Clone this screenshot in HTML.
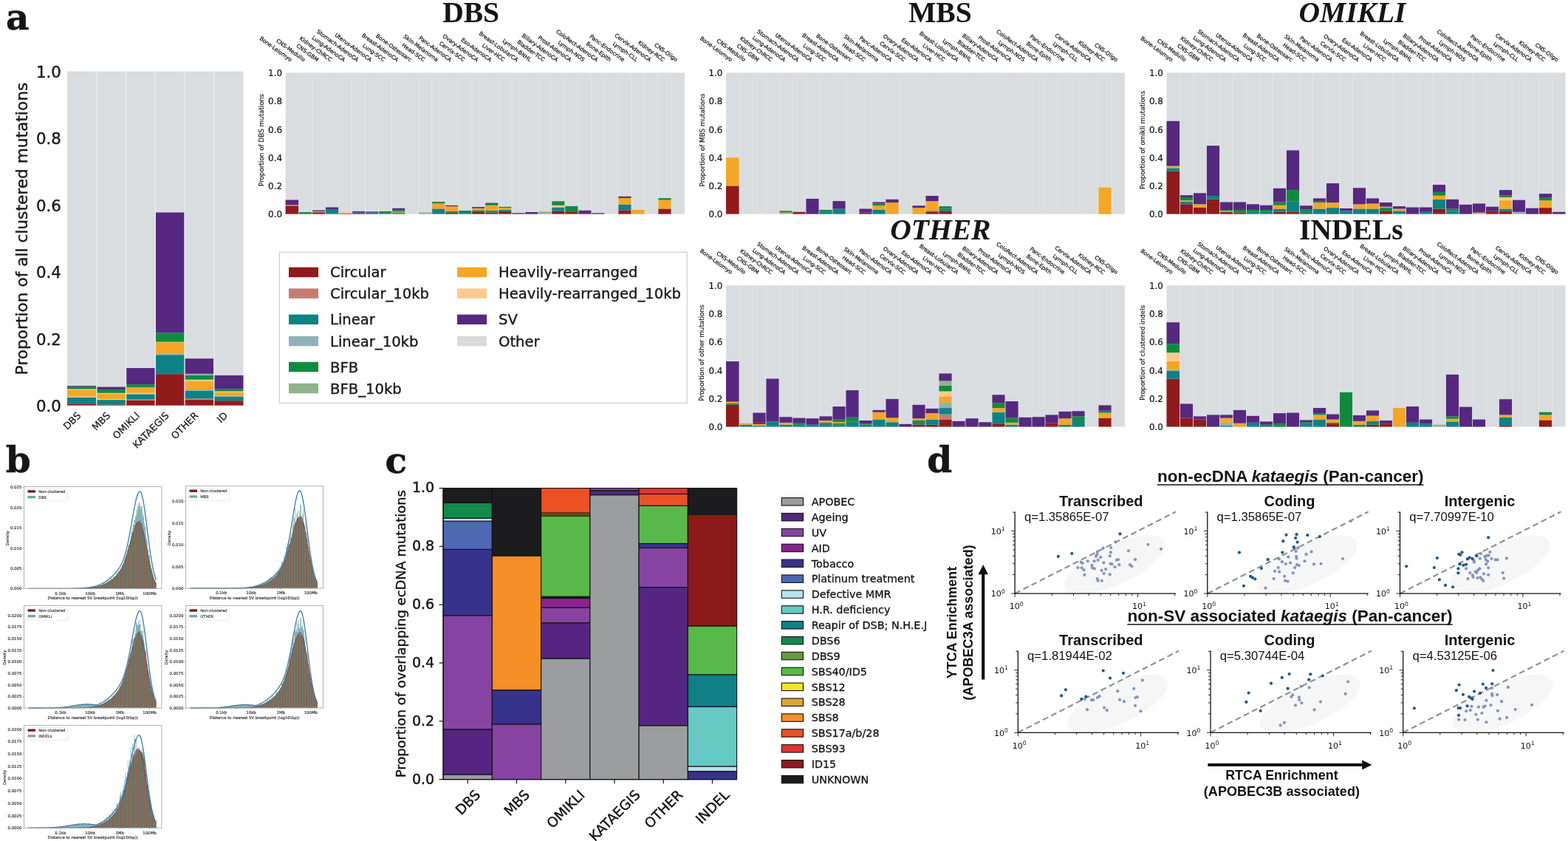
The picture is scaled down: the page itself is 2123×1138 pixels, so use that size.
<!DOCTYPE html><html><head><meta charset="utf-8"><title>Figure</title><style>html,body{margin:0;padding:0;background:#fff;overflow:hidden}svg{display:block}</style></head><body>
<svg width="2123" height="1138" viewBox="0 0 2123 1138">
<rect x="0.00" y="0.00" width="2123.00" height="1138.00" fill="#ffffff" />
<rect x="91.00" y="96.50" width="238.50" height="452.10" fill="#d9dde0" />
<rect x="91.00" y="546.30" width="39.75" height="2.30" fill="#911a1b" />
<rect x="91.00" y="537.60" width="39.75" height="8.70" fill="#0b8384" />
<rect x="91.00" y="536.40" width="39.75" height="1.20" fill="#fdca8c" />
<rect x="91.00" y="527.70" width="39.75" height="8.70" fill="#f5a625" />
<rect x="91.00" y="526.50" width="39.75" height="1.20" fill="#fdca8c" />
<rect x="91.00" y="523.30" width="39.75" height="3.20" fill="#108b3e" />
<rect x="91.00" y="522.10" width="39.75" height="1.20" fill="#562880" />
<rect x="130.75" y="547.50" width="39.75" height="1.10" fill="#911a1b" />
<rect x="130.75" y="541.10" width="39.75" height="6.40" fill="#0b8384" />
<rect x="130.75" y="539.90" width="39.75" height="1.20" fill="#fdca8c" />
<rect x="130.75" y="533.00" width="39.75" height="6.90" fill="#f5a625" />
<rect x="130.75" y="531.80" width="39.75" height="1.20" fill="#fdca8c" />
<rect x="130.75" y="527.70" width="39.75" height="4.10" fill="#108b3e" />
<rect x="130.75" y="523.60" width="39.75" height="4.10" fill="#562880" />
<rect x="170.50" y="541.70" width="39.75" height="6.90" fill="#911a1b" />
<rect x="170.50" y="540.50" width="39.75" height="1.20" fill="#c47d6f" />
<rect x="170.50" y="533.30" width="39.75" height="7.20" fill="#0b8384" />
<rect x="170.50" y="531.80" width="39.75" height="1.50" fill="#fdca8c" />
<rect x="170.50" y="524.00" width="39.75" height="7.80" fill="#f5a625" />
<rect x="170.50" y="520.10" width="39.75" height="3.90" fill="#108b3e" />
<rect x="170.50" y="498.00" width="39.75" height="22.10" fill="#562880" />
<rect x="210.25" y="506.20" width="39.75" height="42.40" fill="#911a1b" />
<rect x="210.25" y="480.20" width="39.75" height="26.00" fill="#0b8384" />
<rect x="210.25" y="478.80" width="39.75" height="1.40" fill="#8fb2b8" />
<rect x="210.25" y="463.20" width="39.75" height="15.60" fill="#f5a625" />
<rect x="210.25" y="462.60" width="39.75" height="0.60" fill="#fdca8c" />
<rect x="210.25" y="450.40" width="39.75" height="12.20" fill="#108b3e" />
<rect x="210.25" y="287.50" width="39.75" height="162.90" fill="#562880" />
<rect x="250.00" y="541.10" width="39.75" height="7.50" fill="#911a1b" />
<rect x="250.00" y="539.30" width="39.75" height="1.80" fill="#c47d6f" />
<rect x="250.00" y="528.90" width="39.75" height="10.40" fill="#0b8384" />
<rect x="250.00" y="527.00" width="39.75" height="1.90" fill="#8fb2b8" />
<rect x="250.00" y="515.50" width="39.75" height="11.50" fill="#f5a625" />
<rect x="250.00" y="513.70" width="39.75" height="1.80" fill="#fdca8c" />
<rect x="250.00" y="507.70" width="39.75" height="6.00" fill="#108b3e" />
<rect x="250.00" y="505.80" width="39.75" height="1.90" fill="#8fb2b8" />
<rect x="250.00" y="485.20" width="39.75" height="20.60" fill="#562880" />
<rect x="289.75" y="542.20" width="39.75" height="6.40" fill="#911a1b" />
<rect x="289.75" y="537.00" width="39.75" height="5.20" fill="#0b8384" />
<rect x="289.75" y="535.80" width="39.75" height="1.20" fill="#8fb2b8" />
<rect x="289.75" y="530.60" width="39.75" height="5.20" fill="#f5a625" />
<rect x="289.75" y="529.40" width="39.75" height="1.20" fill="#fdca8c" />
<rect x="289.75" y="526.50" width="39.75" height="2.90" fill="#108b3e" />
<rect x="289.75" y="507.90" width="39.75" height="18.60" fill="#562880" />
<rect x="130.05" y="96.50" width="1.40" height="452.10" fill="#eaedf0" />
<rect x="169.80" y="96.50" width="1.40" height="452.10" fill="#eaedf0" />
<rect x="209.55" y="96.50" width="1.40" height="452.10" fill="#eaedf0" />
<rect x="249.30" y="96.50" width="1.40" height="452.10" fill="#eaedf0" />
<rect x="289.05" y="96.50" width="1.40" height="452.10" fill="#eaedf0" />
<text x="82.80" y="557.10" font-family="'DejaVu Sans', sans-serif" font-size="21.3" font-weight="normal" font-style="normal" text-anchor="end" fill="#1a1a1a" stroke="#1a1a1a" stroke-width="0.43" >0.0</text>
<text x="82.80" y="466.68" font-family="'DejaVu Sans', sans-serif" font-size="21.3" font-weight="normal" font-style="normal" text-anchor="end" fill="#1a1a1a" stroke="#1a1a1a" stroke-width="0.43" >0.2</text>
<text x="82.80" y="376.26" font-family="'DejaVu Sans', sans-serif" font-size="21.3" font-weight="normal" font-style="normal" text-anchor="end" fill="#1a1a1a" stroke="#1a1a1a" stroke-width="0.43" >0.4</text>
<text x="82.80" y="285.84" font-family="'DejaVu Sans', sans-serif" font-size="21.3" font-weight="normal" font-style="normal" text-anchor="end" fill="#1a1a1a" stroke="#1a1a1a" stroke-width="0.43" >0.6</text>
<text x="82.80" y="195.42" font-family="'DejaVu Sans', sans-serif" font-size="21.3" font-weight="normal" font-style="normal" text-anchor="end" fill="#1a1a1a" stroke="#1a1a1a" stroke-width="0.43" >0.8</text>
<text x="82.80" y="105.00" font-family="'DejaVu Sans', sans-serif" font-size="21.3" font-weight="normal" font-style="normal" text-anchor="end" fill="#1a1a1a" stroke="#1a1a1a" stroke-width="0.43" >1.0</text>
<text x="37.50" y="309.60" font-family="'DejaVu Sans', sans-serif" font-size="21.7" font-weight="normal" font-style="normal" text-anchor="middle" fill="#1a1a1a" stroke="#1a1a1a" stroke-width="0.43" transform="rotate(-90 37.50 309.60)" >Proportion of all clustered mutations</text>
<text x="0" y="0" font-family="'DejaVu Sans', sans-serif" font-size="13.1" text-anchor="end" fill="#1a1a1a" stroke="#1a1a1a" stroke-width="0.26" transform="translate(110.38 563.10) rotate(-45)">DBS</text>
<text x="0" y="0" font-family="'DejaVu Sans', sans-serif" font-size="13.1" text-anchor="end" fill="#1a1a1a" stroke="#1a1a1a" stroke-width="0.26" transform="translate(150.12 563.10) rotate(-45)">MBS</text>
<text x="0" y="0" font-family="'DejaVu Sans', sans-serif" font-size="13.1" text-anchor="end" fill="#1a1a1a" stroke="#1a1a1a" stroke-width="0.26" transform="translate(189.88 563.10) rotate(-45)">OMIKLI</text>
<text x="0" y="0" font-family="'DejaVu Sans', sans-serif" font-size="13.1" text-anchor="end" fill="#1a1a1a" stroke="#1a1a1a" stroke-width="0.26" transform="translate(229.62 563.10) rotate(-45)">KATAEGIS</text>
<text x="0" y="0" font-family="'DejaVu Sans', sans-serif" font-size="13.1" text-anchor="end" fill="#1a1a1a" stroke="#1a1a1a" stroke-width="0.26" transform="translate(269.38 563.10) rotate(-45)">OTHER</text>
<text x="0" y="0" font-family="'DejaVu Sans', sans-serif" font-size="13.1" text-anchor="end" fill="#1a1a1a" stroke="#1a1a1a" stroke-width="0.26" transform="translate(309.12 563.10) rotate(-45)">ID</text>
<rect x="378.30" y="341.30" width="552.00" height="204.00" fill="#ffffff" stroke="#cfcfcf" stroke-width="1.2"/>
<rect x="391.00" y="361.70" width="40.00" height="13.40" fill="#911a1b" />
<text x="447.00" y="375.40" font-family="'DejaVu Sans', sans-serif" font-size="19.6" font-weight="normal" font-style="normal" text-anchor="start" fill="#1a1a1a" stroke="#1a1a1a" stroke-width="0.39" >Circular</text>
<rect x="391.00" y="390.40" width="40.00" height="13.40" fill="#c47d6f" />
<text x="447.00" y="404.10" font-family="'DejaVu Sans', sans-serif" font-size="19.6" font-weight="normal" font-style="normal" text-anchor="start" fill="#1a1a1a" stroke="#1a1a1a" stroke-width="0.39" >Circular_10kb</text>
<rect x="391.00" y="425.60" width="40.00" height="13.40" fill="#0b8384" />
<text x="447.00" y="439.30" font-family="'DejaVu Sans', sans-serif" font-size="19.6" font-weight="normal" font-style="normal" text-anchor="start" fill="#1a1a1a" stroke="#1a1a1a" stroke-width="0.39" >Linear</text>
<rect x="391.00" y="454.90" width="40.00" height="13.40" fill="#8fb2b8" />
<text x="447.00" y="468.60" font-family="'DejaVu Sans', sans-serif" font-size="19.6" font-weight="normal" font-style="normal" text-anchor="start" fill="#1a1a1a" stroke="#1a1a1a" stroke-width="0.39" >Linear_10kb</text>
<rect x="391.00" y="489.80" width="40.00" height="13.40" fill="#108b3e" />
<text x="447.00" y="503.50" font-family="'DejaVu Sans', sans-serif" font-size="19.6" font-weight="normal" font-style="normal" text-anchor="start" fill="#1a1a1a" stroke="#1a1a1a" stroke-width="0.39" >BFB</text>
<rect x="391.00" y="518.80" width="40.00" height="13.40" fill="#8db48d" />
<text x="447.00" y="532.50" font-family="'DejaVu Sans', sans-serif" font-size="19.6" font-weight="normal" font-style="normal" text-anchor="start" fill="#1a1a1a" stroke="#1a1a1a" stroke-width="0.39" >BFB_10kb</text>
<rect x="619.00" y="361.70" width="40.00" height="13.40" fill="#f5a625" />
<text x="675.00" y="375.40" font-family="'DejaVu Sans', sans-serif" font-size="19.6" font-weight="normal" font-style="normal" text-anchor="start" fill="#1a1a1a" stroke="#1a1a1a" stroke-width="0.39" >Heavily-rearranged</text>
<rect x="619.00" y="390.40" width="40.00" height="13.40" fill="#fdca8c" />
<text x="675.00" y="404.10" font-family="'DejaVu Sans', sans-serif" font-size="19.6" font-weight="normal" font-style="normal" text-anchor="start" fill="#1a1a1a" stroke="#1a1a1a" stroke-width="0.39" >Heavily-rearranged_10kb</text>
<rect x="619.00" y="425.60" width="40.00" height="13.40" fill="#562880" />
<text x="675.00" y="439.30" font-family="'DejaVu Sans', sans-serif" font-size="19.6" font-weight="normal" font-style="normal" text-anchor="start" fill="#1a1a1a" stroke="#1a1a1a" stroke-width="0.39" >SV</text>
<rect x="619.00" y="454.90" width="40.00" height="13.40" fill="#d9dadc" />
<text x="675.00" y="468.60" font-family="'DejaVu Sans', sans-serif" font-size="19.6" font-weight="normal" font-style="normal" text-anchor="start" fill="#1a1a1a" stroke="#1a1a1a" stroke-width="0.39" >Other</text>
<rect x="386.60" y="98.40" width="540.40" height="191.20" fill="#d9dde0" />
<rect x="386.60" y="278.55" width="18.01" height="11.05" fill="#911a1b" />
<rect x="386.60" y="276.99" width="18.01" height="1.56" fill="#c47d6f" />
<rect x="386.60" y="270.48" width="18.01" height="6.50" fill="#562880" />
<rect x="404.61" y="287.00" width="18.01" height="2.60" fill="#108b3e" />
<rect x="422.63" y="287.39" width="18.01" height="2.21" fill="#911a1b" />
<rect x="422.63" y="285.70" width="18.01" height="1.69" fill="#c47d6f" />
<rect x="422.63" y="284.40" width="18.01" height="1.30" fill="#562880" />
<rect x="440.64" y="283.10" width="18.01" height="6.50" fill="#0b8384" />
<rect x="440.64" y="280.50" width="18.01" height="2.60" fill="#562880" />
<rect x="458.65" y="288.69" width="18.01" height="0.91" fill="#911a1b" />
<rect x="458.65" y="286.35" width="18.01" height="2.34" fill="#fdca8c" />
<rect x="476.67" y="288.95" width="18.01" height="0.65" fill="#911a1b" />
<rect x="476.67" y="287.65" width="18.01" height="1.30" fill="#0b8384" />
<rect x="476.67" y="285.96" width="18.01" height="1.69" fill="#562880" />
<rect x="494.68" y="287.65" width="18.01" height="1.95" fill="#0b8384" />
<rect x="494.68" y="286.35" width="18.01" height="1.30" fill="#562880" />
<rect x="512.69" y="288.30" width="18.01" height="1.30" fill="#0b8384" />
<rect x="512.69" y="285.96" width="18.01" height="2.34" fill="#108b3e" />
<rect x="530.71" y="288.69" width="18.01" height="0.91" fill="#0b8384" />
<rect x="530.71" y="287.39" width="18.01" height="1.30" fill="#108b3e" />
<rect x="530.71" y="286.35" width="18.01" height="1.04" fill="#f5a625" />
<rect x="530.71" y="284.40" width="18.01" height="1.95" fill="#108b3e" />
<rect x="530.71" y="281.80" width="18.01" height="2.60" fill="#562880" />
<rect x="566.73" y="287.39" width="18.01" height="2.21" fill="#8db48d" />
<rect x="584.75" y="282.45" width="18.01" height="7.15" fill="#0b8384" />
<rect x="584.75" y="275.30" width="18.01" height="7.15" fill="#f5a625" />
<rect x="584.75" y="273.09" width="18.01" height="2.21" fill="#108b3e" />
<rect x="602.76" y="287.65" width="18.01" height="1.95" fill="#911a1b" />
<rect x="602.76" y="285.70" width="18.01" height="1.95" fill="#108b3e" />
<rect x="602.76" y="279.20" width="18.01" height="6.50" fill="#f5a625" />
<rect x="602.76" y="277.90" width="18.01" height="1.30" fill="#562880" />
<rect x="620.77" y="287.00" width="18.01" height="2.60" fill="#0b8384" />
<rect x="620.77" y="285.05" width="18.01" height="1.95" fill="#108b3e" />
<rect x="638.79" y="287.00" width="18.01" height="2.60" fill="#911a1b" />
<rect x="638.79" y="284.40" width="18.01" height="2.60" fill="#108b3e" />
<rect x="638.79" y="281.80" width="18.01" height="2.60" fill="#f5a625" />
<rect x="638.79" y="280.11" width="18.01" height="1.69" fill="#562880" />
<rect x="656.80" y="287.65" width="18.01" height="1.95" fill="#911a1b" />
<rect x="656.80" y="285.05" width="18.01" height="2.60" fill="#0b8384" />
<rect x="656.80" y="277.90" width="18.01" height="7.15" fill="#f5a625" />
<rect x="656.80" y="275.95" width="18.01" height="1.95" fill="#108b3e" />
<rect x="656.80" y="274.65" width="18.01" height="1.30" fill="#562880" />
<rect x="674.81" y="285.70" width="18.01" height="3.90" fill="#911a1b" />
<rect x="674.81" y="283.75" width="18.01" height="1.95" fill="#0b8384" />
<rect x="674.81" y="281.15" width="18.01" height="2.60" fill="#f5a625" />
<rect x="674.81" y="279.85" width="18.01" height="1.30" fill="#108b3e" />
<rect x="692.83" y="288.30" width="18.01" height="1.30" fill="#562880" />
<rect x="710.84" y="287.00" width="18.01" height="2.60" fill="#562880" />
<rect x="728.85" y="286.35" width="18.01" height="3.25" fill="#8db48d" />
<rect x="746.87" y="285.70" width="18.01" height="3.90" fill="#911a1b" />
<rect x="746.87" y="280.50" width="18.01" height="5.20" fill="#0b8384" />
<rect x="746.87" y="277.90" width="18.01" height="2.60" fill="#fdca8c" />
<rect x="746.87" y="272.30" width="18.01" height="5.59" fill="#108b3e" />
<rect x="764.88" y="287.00" width="18.01" height="2.60" fill="#911a1b" />
<rect x="764.88" y="278.94" width="18.01" height="8.06" fill="#108b3e" />
<rect x="782.89" y="284.79" width="18.01" height="4.81" fill="#562880" />
<rect x="800.91" y="288.30" width="18.01" height="1.30" fill="#562880" />
<rect x="836.93" y="284.40" width="18.01" height="5.20" fill="#911a1b" />
<rect x="836.93" y="276.60" width="18.01" height="7.80" fill="#0b8384" />
<rect x="836.93" y="267.88" width="18.01" height="8.71" fill="#f5a625" />
<rect x="836.93" y="265.80" width="18.01" height="2.08" fill="#562880" />
<rect x="854.95" y="284.01" width="18.01" height="5.59" fill="#f5a625" />
<rect x="890.97" y="282.45" width="18.01" height="7.15" fill="#911a1b" />
<rect x="890.97" y="270.48" width="18.01" height="11.96" fill="#f5a625" />
<rect x="890.97" y="268.14" width="18.01" height="2.34" fill="#108b3e" />
<rect x="404.21" y="98.40" width="0.80" height="191.20" fill="#e4e7ea" />
<rect x="422.23" y="98.40" width="0.80" height="191.20" fill="#e4e7ea" />
<rect x="440.24" y="98.40" width="0.80" height="191.20" fill="#e4e7ea" />
<rect x="458.25" y="98.40" width="0.80" height="191.20" fill="#e4e7ea" />
<rect x="476.27" y="98.40" width="0.80" height="191.20" fill="#e4e7ea" />
<rect x="494.28" y="98.40" width="0.80" height="191.20" fill="#e4e7ea" />
<rect x="512.29" y="98.40" width="0.80" height="191.20" fill="#e4e7ea" />
<rect x="530.31" y="98.40" width="0.80" height="191.20" fill="#e4e7ea" />
<rect x="548.32" y="98.40" width="0.80" height="191.20" fill="#e4e7ea" />
<rect x="566.33" y="98.40" width="0.80" height="191.20" fill="#e4e7ea" />
<rect x="584.35" y="98.40" width="0.80" height="191.20" fill="#e4e7ea" />
<rect x="602.36" y="98.40" width="0.80" height="191.20" fill="#e4e7ea" />
<rect x="620.37" y="98.40" width="0.80" height="191.20" fill="#e4e7ea" />
<rect x="638.39" y="98.40" width="0.80" height="191.20" fill="#e4e7ea" />
<rect x="656.40" y="98.40" width="0.80" height="191.20" fill="#e4e7ea" />
<rect x="674.41" y="98.40" width="0.80" height="191.20" fill="#e4e7ea" />
<rect x="692.43" y="98.40" width="0.80" height="191.20" fill="#e4e7ea" />
<rect x="710.44" y="98.40" width="0.80" height="191.20" fill="#e4e7ea" />
<rect x="728.45" y="98.40" width="0.80" height="191.20" fill="#e4e7ea" />
<rect x="746.47" y="98.40" width="0.80" height="191.20" fill="#e4e7ea" />
<rect x="764.48" y="98.40" width="0.80" height="191.20" fill="#e4e7ea" />
<rect x="782.49" y="98.40" width="0.80" height="191.20" fill="#e4e7ea" />
<rect x="800.51" y="98.40" width="0.80" height="191.20" fill="#e4e7ea" />
<rect x="818.52" y="98.40" width="0.80" height="191.20" fill="#e4e7ea" />
<rect x="836.53" y="98.40" width="0.80" height="191.20" fill="#e4e7ea" />
<rect x="854.55" y="98.40" width="0.80" height="191.20" fill="#e4e7ea" />
<rect x="872.56" y="98.40" width="0.80" height="191.20" fill="#e4e7ea" />
<rect x="890.57" y="98.40" width="0.80" height="191.20" fill="#e4e7ea" />
<rect x="908.59" y="98.40" width="0.80" height="191.20" fill="#e4e7ea" />
<text x="382.00" y="294.30" font-family="'DejaVu Sans', sans-serif" font-size="11.9" font-weight="normal" font-style="normal" text-anchor="end" fill="#1a1a1a" stroke="#1a1a1a" stroke-width="0.24" >0.0</text>
<text x="382.00" y="256.06" font-family="'DejaVu Sans', sans-serif" font-size="11.9" font-weight="normal" font-style="normal" text-anchor="end" fill="#1a1a1a" stroke="#1a1a1a" stroke-width="0.24" >0.2</text>
<text x="382.00" y="217.82" font-family="'DejaVu Sans', sans-serif" font-size="11.9" font-weight="normal" font-style="normal" text-anchor="end" fill="#1a1a1a" stroke="#1a1a1a" stroke-width="0.24" >0.4</text>
<text x="382.00" y="179.58" font-family="'DejaVu Sans', sans-serif" font-size="11.9" font-weight="normal" font-style="normal" text-anchor="end" fill="#1a1a1a" stroke="#1a1a1a" stroke-width="0.24" >0.6</text>
<text x="382.00" y="141.34" font-family="'DejaVu Sans', sans-serif" font-size="11.9" font-weight="normal" font-style="normal" text-anchor="end" fill="#1a1a1a" stroke="#1a1a1a" stroke-width="0.24" >0.8</text>
<text x="382.00" y="103.10" font-family="'DejaVu Sans', sans-serif" font-size="11.9" font-weight="normal" font-style="normal" text-anchor="end" fill="#1a1a1a" stroke="#1a1a1a" stroke-width="0.24" >1.0</text>
<text x="357.10" y="189.50" font-family="'DejaVu Sans', sans-serif" font-size="8.8" font-weight="normal" font-style="normal" text-anchor="middle" fill="#1a1a1a" stroke="#1a1a1a" stroke-width="0.18" transform="rotate(-90 357.10 189.50)" >Proportion of DBS mutations</text>
<text x="0" y="0" font-family="'DejaVu Sans', sans-serif" font-size="7.3" text-anchor="end" fill="#1a1a1a" stroke="#1a1a1a" stroke-width="0.28" transform="translate(393.01 83.60) rotate(36)">Bone-Leiomyo</text>
<text x="0" y="0" font-family="'DejaVu Sans', sans-serif" font-size="7.3" text-anchor="end" fill="#1a1a1a" stroke="#1a1a1a" stroke-width="0.28" transform="translate(411.02 83.60) rotate(36)">CNS-Medullo</text>
<text x="0" y="0" font-family="'DejaVu Sans', sans-serif" font-size="7.3" text-anchor="end" fill="#1a1a1a" stroke="#1a1a1a" stroke-width="0.28" transform="translate(429.03 83.60) rotate(36)">CNS-GBM</text>
<text x="0" y="0" font-family="'DejaVu Sans', sans-serif" font-size="7.3" text-anchor="end" fill="#1a1a1a" stroke="#1a1a1a" stroke-width="0.28" transform="translate(447.05 83.60) rotate(36)">Kidney-ChRCC</text>
<text x="0" y="0" font-family="'DejaVu Sans', sans-serif" font-size="7.3" text-anchor="end" fill="#1a1a1a" stroke="#1a1a1a" stroke-width="0.28" transform="translate(465.06 83.60) rotate(36)">Lung-AdenoCA</text>
<text x="0" y="0" font-family="'DejaVu Sans', sans-serif" font-size="7.3" text-anchor="end" fill="#1a1a1a" stroke="#1a1a1a" stroke-width="0.28" transform="translate(483.07 83.60) rotate(36)">Stomach-AdenoCA</text>
<text x="0" y="0" font-family="'DejaVu Sans', sans-serif" font-size="7.3" text-anchor="end" fill="#1a1a1a" stroke="#1a1a1a" stroke-width="0.28" transform="translate(501.09 83.60) rotate(36)">Uterus-AdenoCA</text>
<text x="0" y="0" font-family="'DejaVu Sans', sans-serif" font-size="7.3" text-anchor="end" fill="#1a1a1a" stroke="#1a1a1a" stroke-width="0.28" transform="translate(519.10 83.60) rotate(36)">Lung-SCC</text>
<text x="0" y="0" font-family="'DejaVu Sans', sans-serif" font-size="7.3" text-anchor="end" fill="#1a1a1a" stroke="#1a1a1a" stroke-width="0.28" transform="translate(537.11 83.60) rotate(36)">Breast-AdenoCA</text>
<text x="0" y="0" font-family="'DejaVu Sans', sans-serif" font-size="7.3" text-anchor="end" fill="#1a1a1a" stroke="#1a1a1a" stroke-width="0.28" transform="translate(555.13 83.60) rotate(36)">Bone-Osteosarc</text>
<text x="0" y="0" font-family="'DejaVu Sans', sans-serif" font-size="7.3" text-anchor="end" fill="#1a1a1a" stroke="#1a1a1a" stroke-width="0.28" transform="translate(573.14 83.60) rotate(36)">Head-SCC</text>
<text x="0" y="0" font-family="'DejaVu Sans', sans-serif" font-size="7.3" text-anchor="end" fill="#1a1a1a" stroke="#1a1a1a" stroke-width="0.28" transform="translate(591.15 83.60) rotate(36)">Skin-Melanoma</text>
<text x="0" y="0" font-family="'DejaVu Sans', sans-serif" font-size="7.3" text-anchor="end" fill="#1a1a1a" stroke="#1a1a1a" stroke-width="0.28" transform="translate(609.17 83.60) rotate(36)">Panc-AdenoCA</text>
<text x="0" y="0" font-family="'DejaVu Sans', sans-serif" font-size="7.3" text-anchor="end" fill="#1a1a1a" stroke="#1a1a1a" stroke-width="0.28" transform="translate(627.18 83.60) rotate(36)">Cervix-SCC</text>
<text x="0" y="0" font-family="'DejaVu Sans', sans-serif" font-size="7.3" text-anchor="end" fill="#1a1a1a" stroke="#1a1a1a" stroke-width="0.28" transform="translate(645.19 83.60) rotate(36)">Ovary-AdenoCA</text>
<text x="0" y="0" font-family="'DejaVu Sans', sans-serif" font-size="7.3" text-anchor="end" fill="#1a1a1a" stroke="#1a1a1a" stroke-width="0.28" transform="translate(663.21 83.60) rotate(36)">Eso-AdenoCA</text>
<text x="0" y="0" font-family="'DejaVu Sans', sans-serif" font-size="7.3" text-anchor="end" fill="#1a1a1a" stroke="#1a1a1a" stroke-width="0.28" transform="translate(681.22 83.60) rotate(36)">Liver-HCC</text>
<text x="0" y="0" font-family="'DejaVu Sans', sans-serif" font-size="7.3" text-anchor="end" fill="#1a1a1a" stroke="#1a1a1a" stroke-width="0.28" transform="translate(699.23 83.60) rotate(36)">Breast-LobularCA</text>
<text x="0" y="0" font-family="'DejaVu Sans', sans-serif" font-size="7.3" text-anchor="end" fill="#1a1a1a" stroke="#1a1a1a" stroke-width="0.28" transform="translate(717.25 83.60) rotate(36)">Lymph-BNHL</text>
<text x="0" y="0" font-family="'DejaVu Sans', sans-serif" font-size="7.3" text-anchor="end" fill="#1a1a1a" stroke="#1a1a1a" stroke-width="0.28" transform="translate(735.26 83.60) rotate(36)">Bladder-TCC</text>
<text x="0" y="0" font-family="'DejaVu Sans', sans-serif" font-size="7.3" text-anchor="end" fill="#1a1a1a" stroke="#1a1a1a" stroke-width="0.28" transform="translate(753.27 83.60) rotate(36)">Biliary-AdenoCA</text>
<text x="0" y="0" font-family="'DejaVu Sans', sans-serif" font-size="7.3" text-anchor="end" fill="#1a1a1a" stroke="#1a1a1a" stroke-width="0.28" transform="translate(771.29 83.60) rotate(36)">Prost-AdenoCA</text>
<text x="0" y="0" font-family="'DejaVu Sans', sans-serif" font-size="7.3" text-anchor="end" fill="#1a1a1a" stroke="#1a1a1a" stroke-width="0.28" transform="translate(789.30 83.60) rotate(36)">Lymph-NOS</text>
<text x="0" y="0" font-family="'DejaVu Sans', sans-serif" font-size="7.3" text-anchor="end" fill="#1a1a1a" stroke="#1a1a1a" stroke-width="0.28" transform="translate(807.31 83.60) rotate(36)">ColoRect-AdenoCA</text>
<text x="0" y="0" font-family="'DejaVu Sans', sans-serif" font-size="7.3" text-anchor="end" fill="#1a1a1a" stroke="#1a1a1a" stroke-width="0.28" transform="translate(825.33 83.60) rotate(36)">Bone-Epith</text>
<text x="0" y="0" font-family="'DejaVu Sans', sans-serif" font-size="7.3" text-anchor="end" fill="#1a1a1a" stroke="#1a1a1a" stroke-width="0.28" transform="translate(843.34 83.60) rotate(36)">Panc-Endocrine</text>
<text x="0" y="0" font-family="'DejaVu Sans', sans-serif" font-size="7.3" text-anchor="end" fill="#1a1a1a" stroke="#1a1a1a" stroke-width="0.28" transform="translate(861.35 83.60) rotate(36)">Lymph-CLL</text>
<text x="0" y="0" font-family="'DejaVu Sans', sans-serif" font-size="7.3" text-anchor="end" fill="#1a1a1a" stroke="#1a1a1a" stroke-width="0.28" transform="translate(879.37 83.60) rotate(36)">Cervix-AdenoCA</text>
<text x="0" y="0" font-family="'DejaVu Sans', sans-serif" font-size="7.3" text-anchor="end" fill="#1a1a1a" stroke="#1a1a1a" stroke-width="0.28" transform="translate(897.38 83.60) rotate(36)">Kidney-RCC</text>
<text x="0" y="0" font-family="'DejaVu Sans', sans-serif" font-size="7.3" text-anchor="end" fill="#1a1a1a" stroke="#1a1a1a" stroke-width="0.28" transform="translate(915.39 83.60) rotate(36)">CNS-Oligo</text>
<text x="0" y="0" font-family="'Liberation Serif', serif" font-size="41" font-weight="bold" font-style="normal" text-anchor="middle" fill="#151515" transform="translate(637.60 30.30) scale(0.965 1)">DBS</text>
<rect x="983.00" y="98.40" width="540.00" height="191.20" fill="#d9dde0" />
<rect x="983.00" y="251.44" width="18.00" height="38.16" fill="#911a1b" />
<rect x="983.00" y="213.29" width="18.00" height="38.16" fill="#f5a625" />
<rect x="1055.00" y="287.62" width="18.00" height="1.98" fill="#f5a625" />
<rect x="1055.00" y="285.36" width="18.00" height="2.26" fill="#0b8384" />
<rect x="1073.00" y="286.77" width="18.00" height="2.83" fill="#911a1b" />
<rect x="1091.00" y="268.97" width="18.00" height="20.63" fill="#562880" />
<rect x="1109.00" y="286.77" width="18.00" height="2.83" fill="#0b8384" />
<rect x="1109.00" y="283.95" width="18.00" height="2.83" fill="#108b3e" />
<rect x="1127.00" y="282.53" width="18.00" height="7.07" fill="#0b8384" />
<rect x="1127.00" y="272.08" width="18.00" height="10.46" fill="#562880" />
<rect x="1163.00" y="287.62" width="18.00" height="1.98" fill="#911a1b" />
<rect x="1163.00" y="282.53" width="18.00" height="5.09" fill="#562880" />
<rect x="1181.00" y="283.95" width="18.00" height="5.65" fill="#0b8384" />
<rect x="1181.00" y="278.29" width="18.00" height="5.65" fill="#f5a625" />
<rect x="1181.00" y="275.47" width="18.00" height="2.83" fill="#108b3e" />
<rect x="1181.00" y="273.49" width="18.00" height="1.98" fill="#562880" />
<rect x="1199.00" y="274.05" width="18.00" height="15.55" fill="#f5a625" />
<rect x="1199.00" y="269.81" width="18.00" height="4.24" fill="#562880" />
<rect x="1235.00" y="281.12" width="18.00" height="8.48" fill="#f5a625" />
<rect x="1235.00" y="278.29" width="18.00" height="2.83" fill="#562880" />
<rect x="1253.00" y="286.77" width="18.00" height="2.83" fill="#911a1b" />
<rect x="1253.00" y="285.36" width="18.00" height="1.41" fill="#108b3e" />
<rect x="1253.00" y="272.08" width="18.00" height="13.28" fill="#f5a625" />
<rect x="1253.00" y="265.01" width="18.00" height="7.07" fill="#562880" />
<rect x="1271.00" y="285.36" width="18.00" height="4.24" fill="#911a1b" />
<rect x="1271.00" y="282.53" width="18.00" height="2.83" fill="#0b8384" />
<rect x="1271.00" y="279.14" width="18.00" height="3.39" fill="#108b3e" />
<rect x="1487.00" y="253.70" width="18.00" height="35.90" fill="#f5a625" />
<rect x="1000.60" y="98.40" width="0.80" height="191.20" fill="#e4e7ea" />
<rect x="1018.60" y="98.40" width="0.80" height="191.20" fill="#e4e7ea" />
<rect x="1036.60" y="98.40" width="0.80" height="191.20" fill="#e4e7ea" />
<rect x="1054.60" y="98.40" width="0.80" height="191.20" fill="#e4e7ea" />
<rect x="1072.60" y="98.40" width="0.80" height="191.20" fill="#e4e7ea" />
<rect x="1090.60" y="98.40" width="0.80" height="191.20" fill="#e4e7ea" />
<rect x="1108.60" y="98.40" width="0.80" height="191.20" fill="#e4e7ea" />
<rect x="1126.60" y="98.40" width="0.80" height="191.20" fill="#e4e7ea" />
<rect x="1144.60" y="98.40" width="0.80" height="191.20" fill="#e4e7ea" />
<rect x="1162.60" y="98.40" width="0.80" height="191.20" fill="#e4e7ea" />
<rect x="1180.60" y="98.40" width="0.80" height="191.20" fill="#e4e7ea" />
<rect x="1198.60" y="98.40" width="0.80" height="191.20" fill="#e4e7ea" />
<rect x="1216.60" y="98.40" width="0.80" height="191.20" fill="#e4e7ea" />
<rect x="1234.60" y="98.40" width="0.80" height="191.20" fill="#e4e7ea" />
<rect x="1252.60" y="98.40" width="0.80" height="191.20" fill="#e4e7ea" />
<rect x="1270.60" y="98.40" width="0.80" height="191.20" fill="#e4e7ea" />
<rect x="1288.60" y="98.40" width="0.80" height="191.20" fill="#e4e7ea" />
<rect x="1306.60" y="98.40" width="0.80" height="191.20" fill="#e4e7ea" />
<rect x="1324.60" y="98.40" width="0.80" height="191.20" fill="#e4e7ea" />
<rect x="1342.60" y="98.40" width="0.80" height="191.20" fill="#e4e7ea" />
<rect x="1360.60" y="98.40" width="0.80" height="191.20" fill="#e4e7ea" />
<rect x="1378.60" y="98.40" width="0.80" height="191.20" fill="#e4e7ea" />
<rect x="1396.60" y="98.40" width="0.80" height="191.20" fill="#e4e7ea" />
<rect x="1414.60" y="98.40" width="0.80" height="191.20" fill="#e4e7ea" />
<rect x="1432.60" y="98.40" width="0.80" height="191.20" fill="#e4e7ea" />
<rect x="1450.60" y="98.40" width="0.80" height="191.20" fill="#e4e7ea" />
<rect x="1468.60" y="98.40" width="0.80" height="191.20" fill="#e4e7ea" />
<rect x="1486.60" y="98.40" width="0.80" height="191.20" fill="#e4e7ea" />
<rect x="1504.60" y="98.40" width="0.80" height="191.20" fill="#e4e7ea" />
<text x="978.40" y="294.30" font-family="'DejaVu Sans', sans-serif" font-size="11.9" font-weight="normal" font-style="normal" text-anchor="end" fill="#1a1a1a" stroke="#1a1a1a" stroke-width="0.24" >0.0</text>
<text x="978.40" y="256.06" font-family="'DejaVu Sans', sans-serif" font-size="11.9" font-weight="normal" font-style="normal" text-anchor="end" fill="#1a1a1a" stroke="#1a1a1a" stroke-width="0.24" >0.2</text>
<text x="978.40" y="217.82" font-family="'DejaVu Sans', sans-serif" font-size="11.9" font-weight="normal" font-style="normal" text-anchor="end" fill="#1a1a1a" stroke="#1a1a1a" stroke-width="0.24" >0.4</text>
<text x="978.40" y="179.58" font-family="'DejaVu Sans', sans-serif" font-size="11.9" font-weight="normal" font-style="normal" text-anchor="end" fill="#1a1a1a" stroke="#1a1a1a" stroke-width="0.24" >0.6</text>
<text x="978.40" y="141.34" font-family="'DejaVu Sans', sans-serif" font-size="11.9" font-weight="normal" font-style="normal" text-anchor="end" fill="#1a1a1a" stroke="#1a1a1a" stroke-width="0.24" >0.8</text>
<text x="978.40" y="103.10" font-family="'DejaVu Sans', sans-serif" font-size="11.9" font-weight="normal" font-style="normal" text-anchor="end" fill="#1a1a1a" stroke="#1a1a1a" stroke-width="0.24" >1.0</text>
<text x="953.50" y="189.50" font-family="'DejaVu Sans', sans-serif" font-size="8.8" font-weight="normal" font-style="normal" text-anchor="middle" fill="#1a1a1a" stroke="#1a1a1a" stroke-width="0.18" transform="rotate(-90 953.50 189.50)" >Proportion of MBS mutations</text>
<text x="0" y="0" font-family="'DejaVu Sans', sans-serif" font-size="7.3" text-anchor="end" fill="#1a1a1a" stroke="#1a1a1a" stroke-width="0.28" transform="translate(989.40 83.60) rotate(36)">Bone-Leiomyo</text>
<text x="0" y="0" font-family="'DejaVu Sans', sans-serif" font-size="7.3" text-anchor="end" fill="#1a1a1a" stroke="#1a1a1a" stroke-width="0.28" transform="translate(1007.40 83.60) rotate(36)">CNS-Medullo</text>
<text x="0" y="0" font-family="'DejaVu Sans', sans-serif" font-size="7.3" text-anchor="end" fill="#1a1a1a" stroke="#1a1a1a" stroke-width="0.28" transform="translate(1025.40 83.60) rotate(36)">CNS-GBM</text>
<text x="0" y="0" font-family="'DejaVu Sans', sans-serif" font-size="7.3" text-anchor="end" fill="#1a1a1a" stroke="#1a1a1a" stroke-width="0.28" transform="translate(1043.40 83.60) rotate(36)">Kidney-ChRCC</text>
<text x="0" y="0" font-family="'DejaVu Sans', sans-serif" font-size="7.3" text-anchor="end" fill="#1a1a1a" stroke="#1a1a1a" stroke-width="0.28" transform="translate(1061.40 83.60) rotate(36)">Lung-AdenoCA</text>
<text x="0" y="0" font-family="'DejaVu Sans', sans-serif" font-size="7.3" text-anchor="end" fill="#1a1a1a" stroke="#1a1a1a" stroke-width="0.28" transform="translate(1079.40 83.60) rotate(36)">Stomach-AdenoCA</text>
<text x="0" y="0" font-family="'DejaVu Sans', sans-serif" font-size="7.3" text-anchor="end" fill="#1a1a1a" stroke="#1a1a1a" stroke-width="0.28" transform="translate(1097.40 83.60) rotate(36)">Uterus-AdenoCA</text>
<text x="0" y="0" font-family="'DejaVu Sans', sans-serif" font-size="7.3" text-anchor="end" fill="#1a1a1a" stroke="#1a1a1a" stroke-width="0.28" transform="translate(1115.40 83.60) rotate(36)">Lung-SCC</text>
<text x="0" y="0" font-family="'DejaVu Sans', sans-serif" font-size="7.3" text-anchor="end" fill="#1a1a1a" stroke="#1a1a1a" stroke-width="0.28" transform="translate(1133.40 83.60) rotate(36)">Breast-AdenoCA</text>
<text x="0" y="0" font-family="'DejaVu Sans', sans-serif" font-size="7.3" text-anchor="end" fill="#1a1a1a" stroke="#1a1a1a" stroke-width="0.28" transform="translate(1151.40 83.60) rotate(36)">Bone-Osteosarc</text>
<text x="0" y="0" font-family="'DejaVu Sans', sans-serif" font-size="7.3" text-anchor="end" fill="#1a1a1a" stroke="#1a1a1a" stroke-width="0.28" transform="translate(1169.40 83.60) rotate(36)">Head-SCC</text>
<text x="0" y="0" font-family="'DejaVu Sans', sans-serif" font-size="7.3" text-anchor="end" fill="#1a1a1a" stroke="#1a1a1a" stroke-width="0.28" transform="translate(1187.40 83.60) rotate(36)">Skin-Melanoma</text>
<text x="0" y="0" font-family="'DejaVu Sans', sans-serif" font-size="7.3" text-anchor="end" fill="#1a1a1a" stroke="#1a1a1a" stroke-width="0.28" transform="translate(1205.40 83.60) rotate(36)">Panc-AdenoCA</text>
<text x="0" y="0" font-family="'DejaVu Sans', sans-serif" font-size="7.3" text-anchor="end" fill="#1a1a1a" stroke="#1a1a1a" stroke-width="0.28" transform="translate(1223.40 83.60) rotate(36)">Cervix-SCC</text>
<text x="0" y="0" font-family="'DejaVu Sans', sans-serif" font-size="7.3" text-anchor="end" fill="#1a1a1a" stroke="#1a1a1a" stroke-width="0.28" transform="translate(1241.40 83.60) rotate(36)">Ovary-AdenoCA</text>
<text x="0" y="0" font-family="'DejaVu Sans', sans-serif" font-size="7.3" text-anchor="end" fill="#1a1a1a" stroke="#1a1a1a" stroke-width="0.28" transform="translate(1259.40 83.60) rotate(36)">Eso-AdenoCA</text>
<text x="0" y="0" font-family="'DejaVu Sans', sans-serif" font-size="7.3" text-anchor="end" fill="#1a1a1a" stroke="#1a1a1a" stroke-width="0.28" transform="translate(1277.40 83.60) rotate(36)">Liver-HCC</text>
<text x="0" y="0" font-family="'DejaVu Sans', sans-serif" font-size="7.3" text-anchor="end" fill="#1a1a1a" stroke="#1a1a1a" stroke-width="0.28" transform="translate(1295.40 83.60) rotate(36)">Breast-LobularCA</text>
<text x="0" y="0" font-family="'DejaVu Sans', sans-serif" font-size="7.3" text-anchor="end" fill="#1a1a1a" stroke="#1a1a1a" stroke-width="0.28" transform="translate(1313.40 83.60) rotate(36)">Lymph-BNHL</text>
<text x="0" y="0" font-family="'DejaVu Sans', sans-serif" font-size="7.3" text-anchor="end" fill="#1a1a1a" stroke="#1a1a1a" stroke-width="0.28" transform="translate(1331.40 83.60) rotate(36)">Bladder-TCC</text>
<text x="0" y="0" font-family="'DejaVu Sans', sans-serif" font-size="7.3" text-anchor="end" fill="#1a1a1a" stroke="#1a1a1a" stroke-width="0.28" transform="translate(1349.40 83.60) rotate(36)">Biliary-AdenoCA</text>
<text x="0" y="0" font-family="'DejaVu Sans', sans-serif" font-size="7.3" text-anchor="end" fill="#1a1a1a" stroke="#1a1a1a" stroke-width="0.28" transform="translate(1367.40 83.60) rotate(36)">Prost-AdenoCA</text>
<text x="0" y="0" font-family="'DejaVu Sans', sans-serif" font-size="7.3" text-anchor="end" fill="#1a1a1a" stroke="#1a1a1a" stroke-width="0.28" transform="translate(1385.40 83.60) rotate(36)">Lymph-NOS</text>
<text x="0" y="0" font-family="'DejaVu Sans', sans-serif" font-size="7.3" text-anchor="end" fill="#1a1a1a" stroke="#1a1a1a" stroke-width="0.28" transform="translate(1403.40 83.60) rotate(36)">ColoRect-AdenoCA</text>
<text x="0" y="0" font-family="'DejaVu Sans', sans-serif" font-size="7.3" text-anchor="end" fill="#1a1a1a" stroke="#1a1a1a" stroke-width="0.28" transform="translate(1421.40 83.60) rotate(36)">Bone-Epith</text>
<text x="0" y="0" font-family="'DejaVu Sans', sans-serif" font-size="7.3" text-anchor="end" fill="#1a1a1a" stroke="#1a1a1a" stroke-width="0.28" transform="translate(1439.40 83.60) rotate(36)">Panc-Endocrine</text>
<text x="0" y="0" font-family="'DejaVu Sans', sans-serif" font-size="7.3" text-anchor="end" fill="#1a1a1a" stroke="#1a1a1a" stroke-width="0.28" transform="translate(1457.40 83.60) rotate(36)">Lymph-CLL</text>
<text x="0" y="0" font-family="'DejaVu Sans', sans-serif" font-size="7.3" text-anchor="end" fill="#1a1a1a" stroke="#1a1a1a" stroke-width="0.28" transform="translate(1475.40 83.60) rotate(36)">Cervix-AdenoCA</text>
<text x="0" y="0" font-family="'DejaVu Sans', sans-serif" font-size="7.3" text-anchor="end" fill="#1a1a1a" stroke="#1a1a1a" stroke-width="0.28" transform="translate(1493.40 83.60) rotate(36)">Kidney-RCC</text>
<text x="0" y="0" font-family="'DejaVu Sans', sans-serif" font-size="7.3" text-anchor="end" fill="#1a1a1a" stroke="#1a1a1a" stroke-width="0.28" transform="translate(1511.40 83.60) rotate(36)">CNS-Oligo</text>
<text x="0" y="0" font-family="'Liberation Serif', serif" font-size="41" font-weight="bold" font-style="normal" text-anchor="middle" fill="#151515" transform="translate(1272.80 30.30) scale(0.965 1)">MBS</text>
<rect x="1579.50" y="98.40" width="540.00" height="191.20" fill="#d9dde0" />
<rect x="1579.50" y="231.66" width="18.00" height="57.94" fill="#911a1b" />
<rect x="1579.50" y="227.42" width="18.00" height="4.24" fill="#0b8384" />
<rect x="1579.50" y="224.59" width="18.00" height="2.83" fill="#f5a625" />
<rect x="1579.50" y="163.82" width="18.00" height="60.77" fill="#562880" />
<rect x="1597.50" y="276.32" width="18.00" height="13.28" fill="#911a1b" />
<rect x="1597.50" y="272.64" width="18.00" height="3.67" fill="#0b8384" />
<rect x="1597.50" y="271.23" width="18.00" height="1.41" fill="#f5a625" />
<rect x="1597.50" y="266.99" width="18.00" height="4.24" fill="#108b3e" />
<rect x="1597.50" y="264.16" width="18.00" height="2.83" fill="#562880" />
<rect x="1615.50" y="280.56" width="18.00" height="9.04" fill="#911a1b" />
<rect x="1615.50" y="276.32" width="18.00" height="4.24" fill="#f5a625" />
<rect x="1615.50" y="261.34" width="18.00" height="14.98" fill="#562880" />
<rect x="1633.50" y="269.81" width="18.00" height="19.79" fill="#911a1b" />
<rect x="1633.50" y="265.01" width="18.00" height="4.80" fill="#0b8384" />
<rect x="1633.50" y="197.17" width="18.00" height="67.83" fill="#562880" />
<rect x="1651.50" y="286.77" width="18.00" height="2.83" fill="#911a1b" />
<rect x="1651.50" y="285.36" width="18.00" height="1.41" fill="#f5a625" />
<rect x="1651.50" y="283.95" width="18.00" height="1.41" fill="#108b3e" />
<rect x="1651.50" y="273.49" width="18.00" height="10.46" fill="#562880" />
<rect x="1669.50" y="287.62" width="18.00" height="1.98" fill="#911a1b" />
<rect x="1669.50" y="283.95" width="18.00" height="3.67" fill="#108b3e" />
<rect x="1669.50" y="273.49" width="18.00" height="10.46" fill="#562880" />
<rect x="1687.50" y="286.77" width="18.00" height="2.83" fill="#0b8384" />
<rect x="1687.50" y="283.95" width="18.00" height="2.83" fill="#108b3e" />
<rect x="1687.50" y="276.32" width="18.00" height="7.63" fill="#562880" />
<rect x="1705.50" y="286.77" width="18.00" height="2.83" fill="#0b8384" />
<rect x="1705.50" y="283.95" width="18.00" height="2.83" fill="#108b3e" />
<rect x="1705.50" y="277.73" width="18.00" height="6.22" fill="#562880" />
<rect x="1723.50" y="286.77" width="18.00" height="2.83" fill="#911a1b" />
<rect x="1723.50" y="282.53" width="18.00" height="4.24" fill="#0b8384" />
<rect x="1723.50" y="277.73" width="18.00" height="4.80" fill="#f5a625" />
<rect x="1723.50" y="273.49" width="18.00" height="4.24" fill="#108b3e" />
<rect x="1723.50" y="254.83" width="18.00" height="18.65" fill="#562880" />
<rect x="1741.50" y="286.77" width="18.00" height="2.83" fill="#911a1b" />
<rect x="1741.50" y="272.64" width="18.00" height="14.13" fill="#0b8384" />
<rect x="1741.50" y="257.10" width="18.00" height="15.55" fill="#108b3e" />
<rect x="1741.50" y="203.39" width="18.00" height="53.70" fill="#562880" />
<rect x="1759.50" y="286.77" width="18.00" height="2.83" fill="#0b8384" />
<rect x="1759.50" y="283.38" width="18.00" height="3.39" fill="#108b3e" />
<rect x="1759.50" y="278.29" width="18.00" height="5.09" fill="#562880" />
<rect x="1777.50" y="282.53" width="18.00" height="7.07" fill="#0b8384" />
<rect x="1777.50" y="274.05" width="18.00" height="8.48" fill="#f5a625" />
<rect x="1777.50" y="272.64" width="18.00" height="1.41" fill="#108b3e" />
<rect x="1777.50" y="268.40" width="18.00" height="4.24" fill="#562880" />
<rect x="1795.50" y="288.19" width="18.00" height="1.41" fill="#911a1b" />
<rect x="1795.50" y="281.12" width="18.00" height="7.07" fill="#0b8384" />
<rect x="1795.50" y="274.05" width="18.00" height="7.07" fill="#f5a625" />
<rect x="1795.50" y="248.05" width="18.00" height="26.00" fill="#562880" />
<rect x="1813.50" y="285.36" width="18.00" height="4.24" fill="#0b8384" />
<rect x="1813.50" y="281.97" width="18.00" height="3.39" fill="#562880" />
<rect x="1831.50" y="282.53" width="18.00" height="7.07" fill="#0b8384" />
<rect x="1831.50" y="276.32" width="18.00" height="6.22" fill="#f5a625" />
<rect x="1831.50" y="254.27" width="18.00" height="22.05" fill="#562880" />
<rect x="1849.50" y="282.53" width="18.00" height="7.07" fill="#0b8384" />
<rect x="1849.50" y="275.47" width="18.00" height="7.07" fill="#f5a625" />
<rect x="1849.50" y="268.40" width="18.00" height="7.07" fill="#562880" />
<rect x="1867.50" y="285.36" width="18.00" height="4.24" fill="#911a1b" />
<rect x="1867.50" y="281.12" width="18.00" height="4.24" fill="#108b3e" />
<rect x="1867.50" y="279.71" width="18.00" height="1.41" fill="#f5a625" />
<rect x="1867.50" y="274.05" width="18.00" height="5.65" fill="#562880" />
<rect x="1885.50" y="285.36" width="18.00" height="4.24" fill="#0b8384" />
<rect x="1885.50" y="282.53" width="18.00" height="2.83" fill="#f5a625" />
<rect x="1885.50" y="279.14" width="18.00" height="3.39" fill="#562880" />
<rect x="1903.50" y="280.56" width="18.00" height="9.04" fill="#562880" />
<rect x="1921.50" y="286.77" width="18.00" height="2.83" fill="#0b8384" />
<rect x="1921.50" y="280.56" width="18.00" height="6.22" fill="#562880" />
<rect x="1939.50" y="282.53" width="18.00" height="7.07" fill="#911a1b" />
<rect x="1939.50" y="269.81" width="18.00" height="12.72" fill="#0b8384" />
<rect x="1939.50" y="264.73" width="18.00" height="5.09" fill="#f5a625" />
<rect x="1939.50" y="259.92" width="18.00" height="4.80" fill="#108b3e" />
<rect x="1939.50" y="250.03" width="18.00" height="9.89" fill="#562880" />
<rect x="1957.50" y="285.36" width="18.00" height="4.24" fill="#0b8384" />
<rect x="1957.50" y="282.53" width="18.00" height="2.83" fill="#108b3e" />
<rect x="1957.50" y="269.81" width="18.00" height="12.72" fill="#562880" />
<rect x="1975.50" y="276.88" width="18.00" height="12.72" fill="#562880" />
<rect x="1993.50" y="287.62" width="18.00" height="1.98" fill="#f5a625" />
<rect x="1993.50" y="275.47" width="18.00" height="12.15" fill="#562880" />
<rect x="2011.50" y="285.36" width="18.00" height="4.24" fill="#911a1b" />
<rect x="2011.50" y="279.71" width="18.00" height="5.65" fill="#562880" />
<rect x="2029.50" y="285.36" width="18.00" height="4.24" fill="#911a1b" />
<rect x="2029.50" y="282.53" width="18.00" height="2.83" fill="#0b8384" />
<rect x="2029.50" y="271.23" width="18.00" height="11.31" fill="#f5a625" />
<rect x="2029.50" y="266.99" width="18.00" height="4.24" fill="#fdca8c" />
<rect x="2029.50" y="264.16" width="18.00" height="2.83" fill="#108b3e" />
<rect x="2029.50" y="257.10" width="18.00" height="7.07" fill="#562880" />
<rect x="2047.50" y="286.77" width="18.00" height="2.83" fill="#8fb2b8" />
<rect x="2047.50" y="270.66" width="18.00" height="16.11" fill="#562880" />
<rect x="2065.50" y="281.69" width="18.00" height="7.91" fill="#562880" />
<rect x="2083.50" y="281.12" width="18.00" height="8.48" fill="#911a1b" />
<rect x="2083.50" y="271.23" width="18.00" height="9.89" fill="#f5a625" />
<rect x="2083.50" y="266.99" width="18.00" height="4.24" fill="#108b3e" />
<rect x="2083.50" y="262.18" width="18.00" height="4.80" fill="#562880" />
<rect x="2101.50" y="286.77" width="18.00" height="2.83" fill="#562880" />
<rect x="1597.10" y="98.40" width="0.80" height="191.20" fill="#e4e7ea" />
<rect x="1615.10" y="98.40" width="0.80" height="191.20" fill="#e4e7ea" />
<rect x="1633.10" y="98.40" width="0.80" height="191.20" fill="#e4e7ea" />
<rect x="1651.10" y="98.40" width="0.80" height="191.20" fill="#e4e7ea" />
<rect x="1669.10" y="98.40" width="0.80" height="191.20" fill="#e4e7ea" />
<rect x="1687.10" y="98.40" width="0.80" height="191.20" fill="#e4e7ea" />
<rect x="1705.10" y="98.40" width="0.80" height="191.20" fill="#e4e7ea" />
<rect x="1723.10" y="98.40" width="0.80" height="191.20" fill="#e4e7ea" />
<rect x="1741.10" y="98.40" width="0.80" height="191.20" fill="#e4e7ea" />
<rect x="1759.10" y="98.40" width="0.80" height="191.20" fill="#e4e7ea" />
<rect x="1777.10" y="98.40" width="0.80" height="191.20" fill="#e4e7ea" />
<rect x="1795.10" y="98.40" width="0.80" height="191.20" fill="#e4e7ea" />
<rect x="1813.10" y="98.40" width="0.80" height="191.20" fill="#e4e7ea" />
<rect x="1831.10" y="98.40" width="0.80" height="191.20" fill="#e4e7ea" />
<rect x="1849.10" y="98.40" width="0.80" height="191.20" fill="#e4e7ea" />
<rect x="1867.10" y="98.40" width="0.80" height="191.20" fill="#e4e7ea" />
<rect x="1885.10" y="98.40" width="0.80" height="191.20" fill="#e4e7ea" />
<rect x="1903.10" y="98.40" width="0.80" height="191.20" fill="#e4e7ea" />
<rect x="1921.10" y="98.40" width="0.80" height="191.20" fill="#e4e7ea" />
<rect x="1939.10" y="98.40" width="0.80" height="191.20" fill="#e4e7ea" />
<rect x="1957.10" y="98.40" width="0.80" height="191.20" fill="#e4e7ea" />
<rect x="1975.10" y="98.40" width="0.80" height="191.20" fill="#e4e7ea" />
<rect x="1993.10" y="98.40" width="0.80" height="191.20" fill="#e4e7ea" />
<rect x="2011.10" y="98.40" width="0.80" height="191.20" fill="#e4e7ea" />
<rect x="2029.10" y="98.40" width="0.80" height="191.20" fill="#e4e7ea" />
<rect x="2047.10" y="98.40" width="0.80" height="191.20" fill="#e4e7ea" />
<rect x="2065.10" y="98.40" width="0.80" height="191.20" fill="#e4e7ea" />
<rect x="2083.10" y="98.40" width="0.80" height="191.20" fill="#e4e7ea" />
<rect x="2101.10" y="98.40" width="0.80" height="191.20" fill="#e4e7ea" />
<text x="1574.90" y="294.30" font-family="'DejaVu Sans', sans-serif" font-size="11.9" font-weight="normal" font-style="normal" text-anchor="end" fill="#1a1a1a" stroke="#1a1a1a" stroke-width="0.24" >0.0</text>
<text x="1574.90" y="256.06" font-family="'DejaVu Sans', sans-serif" font-size="11.9" font-weight="normal" font-style="normal" text-anchor="end" fill="#1a1a1a" stroke="#1a1a1a" stroke-width="0.24" >0.2</text>
<text x="1574.90" y="217.82" font-family="'DejaVu Sans', sans-serif" font-size="11.9" font-weight="normal" font-style="normal" text-anchor="end" fill="#1a1a1a" stroke="#1a1a1a" stroke-width="0.24" >0.4</text>
<text x="1574.90" y="179.58" font-family="'DejaVu Sans', sans-serif" font-size="11.9" font-weight="normal" font-style="normal" text-anchor="end" fill="#1a1a1a" stroke="#1a1a1a" stroke-width="0.24" >0.6</text>
<text x="1574.90" y="141.34" font-family="'DejaVu Sans', sans-serif" font-size="11.9" font-weight="normal" font-style="normal" text-anchor="end" fill="#1a1a1a" stroke="#1a1a1a" stroke-width="0.24" >0.8</text>
<text x="1574.90" y="103.10" font-family="'DejaVu Sans', sans-serif" font-size="11.9" font-weight="normal" font-style="normal" text-anchor="end" fill="#1a1a1a" stroke="#1a1a1a" stroke-width="0.24" >1.0</text>
<text x="1550.00" y="189.50" font-family="'DejaVu Sans', sans-serif" font-size="8.8" font-weight="normal" font-style="normal" text-anchor="middle" fill="#1a1a1a" stroke="#1a1a1a" stroke-width="0.18" transform="rotate(-90 1550.00 189.50)" >Proportion of omikli mutations</text>
<text x="0" y="0" font-family="'DejaVu Sans', sans-serif" font-size="7.3" text-anchor="end" fill="#1a1a1a" stroke="#1a1a1a" stroke-width="0.28" transform="translate(1585.90 83.60) rotate(36)">Bone-Leiomyo</text>
<text x="0" y="0" font-family="'DejaVu Sans', sans-serif" font-size="7.3" text-anchor="end" fill="#1a1a1a" stroke="#1a1a1a" stroke-width="0.28" transform="translate(1603.90 83.60) rotate(36)">CNS-Medullo</text>
<text x="0" y="0" font-family="'DejaVu Sans', sans-serif" font-size="7.3" text-anchor="end" fill="#1a1a1a" stroke="#1a1a1a" stroke-width="0.28" transform="translate(1621.90 83.60) rotate(36)">CNS-GBM</text>
<text x="0" y="0" font-family="'DejaVu Sans', sans-serif" font-size="7.3" text-anchor="end" fill="#1a1a1a" stroke="#1a1a1a" stroke-width="0.28" transform="translate(1639.90 83.60) rotate(36)">Kidney-ChRCC</text>
<text x="0" y="0" font-family="'DejaVu Sans', sans-serif" font-size="7.3" text-anchor="end" fill="#1a1a1a" stroke="#1a1a1a" stroke-width="0.28" transform="translate(1657.90 83.60) rotate(36)">Lung-AdenoCA</text>
<text x="0" y="0" font-family="'DejaVu Sans', sans-serif" font-size="7.3" text-anchor="end" fill="#1a1a1a" stroke="#1a1a1a" stroke-width="0.28" transform="translate(1675.90 83.60) rotate(36)">Stomach-AdenoCA</text>
<text x="0" y="0" font-family="'DejaVu Sans', sans-serif" font-size="7.3" text-anchor="end" fill="#1a1a1a" stroke="#1a1a1a" stroke-width="0.28" transform="translate(1693.90 83.60) rotate(36)">Uterus-AdenoCA</text>
<text x="0" y="0" font-family="'DejaVu Sans', sans-serif" font-size="7.3" text-anchor="end" fill="#1a1a1a" stroke="#1a1a1a" stroke-width="0.28" transform="translate(1711.90 83.60) rotate(36)">Lung-SCC</text>
<text x="0" y="0" font-family="'DejaVu Sans', sans-serif" font-size="7.3" text-anchor="end" fill="#1a1a1a" stroke="#1a1a1a" stroke-width="0.28" transform="translate(1729.90 83.60) rotate(36)">Breast-AdenoCA</text>
<text x="0" y="0" font-family="'DejaVu Sans', sans-serif" font-size="7.3" text-anchor="end" fill="#1a1a1a" stroke="#1a1a1a" stroke-width="0.28" transform="translate(1747.90 83.60) rotate(36)">Bone-Osteosarc</text>
<text x="0" y="0" font-family="'DejaVu Sans', sans-serif" font-size="7.3" text-anchor="end" fill="#1a1a1a" stroke="#1a1a1a" stroke-width="0.28" transform="translate(1765.90 83.60) rotate(36)">Head-SCC</text>
<text x="0" y="0" font-family="'DejaVu Sans', sans-serif" font-size="7.3" text-anchor="end" fill="#1a1a1a" stroke="#1a1a1a" stroke-width="0.28" transform="translate(1783.90 83.60) rotate(36)">Skin-Melanoma</text>
<text x="0" y="0" font-family="'DejaVu Sans', sans-serif" font-size="7.3" text-anchor="end" fill="#1a1a1a" stroke="#1a1a1a" stroke-width="0.28" transform="translate(1801.90 83.60) rotate(36)">Panc-AdenoCA</text>
<text x="0" y="0" font-family="'DejaVu Sans', sans-serif" font-size="7.3" text-anchor="end" fill="#1a1a1a" stroke="#1a1a1a" stroke-width="0.28" transform="translate(1819.90 83.60) rotate(36)">Cervix-SCC</text>
<text x="0" y="0" font-family="'DejaVu Sans', sans-serif" font-size="7.3" text-anchor="end" fill="#1a1a1a" stroke="#1a1a1a" stroke-width="0.28" transform="translate(1837.90 83.60) rotate(36)">Ovary-AdenoCA</text>
<text x="0" y="0" font-family="'DejaVu Sans', sans-serif" font-size="7.3" text-anchor="end" fill="#1a1a1a" stroke="#1a1a1a" stroke-width="0.28" transform="translate(1855.90 83.60) rotate(36)">Eso-AdenoCA</text>
<text x="0" y="0" font-family="'DejaVu Sans', sans-serif" font-size="7.3" text-anchor="end" fill="#1a1a1a" stroke="#1a1a1a" stroke-width="0.28" transform="translate(1873.90 83.60) rotate(36)">Liver-HCC</text>
<text x="0" y="0" font-family="'DejaVu Sans', sans-serif" font-size="7.3" text-anchor="end" fill="#1a1a1a" stroke="#1a1a1a" stroke-width="0.28" transform="translate(1891.90 83.60) rotate(36)">Breast-LobularCA</text>
<text x="0" y="0" font-family="'DejaVu Sans', sans-serif" font-size="7.3" text-anchor="end" fill="#1a1a1a" stroke="#1a1a1a" stroke-width="0.28" transform="translate(1909.90 83.60) rotate(36)">Lymph-BNHL</text>
<text x="0" y="0" font-family="'DejaVu Sans', sans-serif" font-size="7.3" text-anchor="end" fill="#1a1a1a" stroke="#1a1a1a" stroke-width="0.28" transform="translate(1927.90 83.60) rotate(36)">Bladder-TCC</text>
<text x="0" y="0" font-family="'DejaVu Sans', sans-serif" font-size="7.3" text-anchor="end" fill="#1a1a1a" stroke="#1a1a1a" stroke-width="0.28" transform="translate(1945.90 83.60) rotate(36)">Biliary-AdenoCA</text>
<text x="0" y="0" font-family="'DejaVu Sans', sans-serif" font-size="7.3" text-anchor="end" fill="#1a1a1a" stroke="#1a1a1a" stroke-width="0.28" transform="translate(1963.90 83.60) rotate(36)">Prost-AdenoCA</text>
<text x="0" y="0" font-family="'DejaVu Sans', sans-serif" font-size="7.3" text-anchor="end" fill="#1a1a1a" stroke="#1a1a1a" stroke-width="0.28" transform="translate(1981.90 83.60) rotate(36)">Lymph-NOS</text>
<text x="0" y="0" font-family="'DejaVu Sans', sans-serif" font-size="7.3" text-anchor="end" fill="#1a1a1a" stroke="#1a1a1a" stroke-width="0.28" transform="translate(1999.90 83.60) rotate(36)">ColoRect-AdenoCA</text>
<text x="0" y="0" font-family="'DejaVu Sans', sans-serif" font-size="7.3" text-anchor="end" fill="#1a1a1a" stroke="#1a1a1a" stroke-width="0.28" transform="translate(2017.90 83.60) rotate(36)">Bone-Epith</text>
<text x="0" y="0" font-family="'DejaVu Sans', sans-serif" font-size="7.3" text-anchor="end" fill="#1a1a1a" stroke="#1a1a1a" stroke-width="0.28" transform="translate(2035.90 83.60) rotate(36)">Panc-Endocrine</text>
<text x="0" y="0" font-family="'DejaVu Sans', sans-serif" font-size="7.3" text-anchor="end" fill="#1a1a1a" stroke="#1a1a1a" stroke-width="0.28" transform="translate(2053.90 83.60) rotate(36)">Lymph-CLL</text>
<text x="0" y="0" font-family="'DejaVu Sans', sans-serif" font-size="7.3" text-anchor="end" fill="#1a1a1a" stroke="#1a1a1a" stroke-width="0.28" transform="translate(2071.90 83.60) rotate(36)">Cervix-AdenoCA</text>
<text x="0" y="0" font-family="'DejaVu Sans', sans-serif" font-size="7.3" text-anchor="end" fill="#1a1a1a" stroke="#1a1a1a" stroke-width="0.28" transform="translate(2089.90 83.60) rotate(36)">Kidney-RCC</text>
<text x="0" y="0" font-family="'DejaVu Sans', sans-serif" font-size="7.3" text-anchor="end" fill="#1a1a1a" stroke="#1a1a1a" stroke-width="0.28" transform="translate(2107.90 83.60) rotate(36)">CNS-Oligo</text>
<text x="0" y="0" font-family="'Liberation Serif', serif" font-size="41" font-weight="bold" font-style="italic" text-anchor="middle" fill="#151515" transform="translate(1831.00 30.30) scale(0.965 1)">OMIKLI</text>
<rect x="983.00" y="386.20" width="540.00" height="191.30" fill="#d9dde0" />
<rect x="983.00" y="547.82" width="18.00" height="29.68" fill="#911a1b" />
<rect x="983.00" y="545.56" width="18.00" height="2.26" fill="#108b3e" />
<rect x="983.00" y="543.58" width="18.00" height="1.98" fill="#f5a625" />
<rect x="983.00" y="489.03" width="18.00" height="54.55" fill="#562880" />
<rect x="1001.00" y="574.67" width="18.00" height="2.83" fill="#0b8384" />
<rect x="1001.00" y="572.70" width="18.00" height="1.98" fill="#f5a625" />
<rect x="1019.00" y="576.09" width="18.00" height="1.41" fill="#0b8384" />
<rect x="1019.00" y="573.83" width="18.00" height="2.26" fill="#f5a625" />
<rect x="1019.00" y="571.85" width="18.00" height="1.98" fill="#911a1b" />
<rect x="1019.00" y="558.56" width="18.00" height="13.28" fill="#562880" />
<rect x="1037.00" y="570.43" width="18.00" height="7.07" fill="#0b8384" />
<rect x="1037.00" y="512.49" width="18.00" height="57.94" fill="#562880" />
<rect x="1055.00" y="574.67" width="18.00" height="2.83" fill="#0b8384" />
<rect x="1055.00" y="571.85" width="18.00" height="2.83" fill="#f5a625" />
<rect x="1055.00" y="564.22" width="18.00" height="7.63" fill="#562880" />
<rect x="1073.00" y="574.67" width="18.00" height="2.83" fill="#0b8384" />
<rect x="1073.00" y="572.70" width="18.00" height="1.98" fill="#108b3e" />
<rect x="1073.00" y="565.63" width="18.00" height="7.07" fill="#562880" />
<rect x="1091.00" y="574.67" width="18.00" height="2.83" fill="#0b8384" />
<rect x="1091.00" y="566.19" width="18.00" height="8.48" fill="#562880" />
<rect x="1109.00" y="573.26" width="18.00" height="4.24" fill="#0b8384" />
<rect x="1109.00" y="571.85" width="18.00" height="1.41" fill="#108b3e" />
<rect x="1109.00" y="569.02" width="18.00" height="2.83" fill="#f5a625" />
<rect x="1109.00" y="563.37" width="18.00" height="5.65" fill="#562880" />
<rect x="1127.00" y="574.67" width="18.00" height="2.83" fill="#0b8384" />
<rect x="1127.00" y="572.70" width="18.00" height="1.98" fill="#108b3e" />
<rect x="1127.00" y="571.00" width="18.00" height="1.70" fill="#f5a625" />
<rect x="1127.00" y="567.61" width="18.00" height="3.39" fill="#108b3e" />
<rect x="1127.00" y="550.08" width="18.00" height="17.52" fill="#562880" />
<rect x="1145.00" y="570.43" width="18.00" height="7.07" fill="#0b8384" />
<rect x="1145.00" y="564.78" width="18.00" height="5.65" fill="#108b3e" />
<rect x="1145.00" y="528.04" width="18.00" height="36.74" fill="#562880" />
<rect x="1163.00" y="574.67" width="18.00" height="2.83" fill="#0b8384" />
<rect x="1163.00" y="573.26" width="18.00" height="1.41" fill="#108b3e" />
<rect x="1163.00" y="569.02" width="18.00" height="4.24" fill="#562880" />
<rect x="1181.00" y="567.61" width="18.00" height="9.89" fill="#0b8384" />
<rect x="1181.00" y="557.71" width="18.00" height="9.89" fill="#f5a625" />
<rect x="1181.00" y="554.89" width="18.00" height="2.83" fill="#562880" />
<rect x="1199.00" y="571.28" width="18.00" height="6.22" fill="#0b8384" />
<rect x="1199.00" y="565.35" width="18.00" height="5.94" fill="#f5a625" />
<rect x="1199.00" y="539.91" width="18.00" height="25.44" fill="#562880" />
<rect x="1217.00" y="573.83" width="18.00" height="3.67" fill="#562880" />
<rect x="1235.00" y="574.67" width="18.00" height="2.83" fill="#911a1b" />
<rect x="1235.00" y="571.85" width="18.00" height="2.83" fill="#0b8384" />
<rect x="1235.00" y="569.02" width="18.00" height="2.83" fill="#108b3e" />
<rect x="1235.00" y="566.19" width="18.00" height="2.83" fill="#f5a625" />
<rect x="1235.00" y="547.82" width="18.00" height="18.37" fill="#562880" />
<rect x="1253.00" y="574.67" width="18.00" height="2.83" fill="#911a1b" />
<rect x="1253.00" y="567.61" width="18.00" height="7.07" fill="#0b8384" />
<rect x="1253.00" y="559.13" width="18.00" height="8.48" fill="#f5a625" />
<rect x="1253.00" y="552.91" width="18.00" height="6.22" fill="#562880" />
<rect x="1271.00" y="567.61" width="18.00" height="9.89" fill="#911a1b" />
<rect x="1271.00" y="560.54" width="18.00" height="7.07" fill="#c47d6f" />
<rect x="1271.00" y="552.06" width="18.00" height="8.48" fill="#0b8384" />
<rect x="1271.00" y="545.00" width="18.00" height="7.07" fill="#8fb2b8" />
<rect x="1271.00" y="536.52" width="18.00" height="8.48" fill="#f5a625" />
<rect x="1271.00" y="529.45" width="18.00" height="7.07" fill="#fdca8c" />
<rect x="1271.00" y="521.82" width="18.00" height="7.63" fill="#108b3e" />
<rect x="1271.00" y="515.32" width="18.00" height="6.50" fill="#8db48d" />
<rect x="1271.00" y="505.43" width="18.00" height="9.89" fill="#562880" />
<rect x="1289.00" y="569.87" width="18.00" height="7.63" fill="#562880" />
<rect x="1307.00" y="566.19" width="18.00" height="11.31" fill="#562880" />
<rect x="1325.00" y="571.28" width="18.00" height="6.22" fill="#562880" />
<rect x="1343.00" y="573.26" width="18.00" height="4.24" fill="#911a1b" />
<rect x="1343.00" y="557.71" width="18.00" height="15.55" fill="#0b8384" />
<rect x="1343.00" y="552.06" width="18.00" height="5.65" fill="#f5a625" />
<rect x="1343.00" y="545.56" width="18.00" height="6.50" fill="#108b3e" />
<rect x="1343.00" y="534.26" width="18.00" height="11.31" fill="#562880" />
<rect x="1361.00" y="574.67" width="18.00" height="2.83" fill="#0b8384" />
<rect x="1361.00" y="571.85" width="18.00" height="2.83" fill="#f5a625" />
<rect x="1361.00" y="565.63" width="18.00" height="6.22" fill="#108b3e" />
<rect x="1361.00" y="543.02" width="18.00" height="22.61" fill="#562880" />
<rect x="1379.00" y="564.78" width="18.00" height="12.72" fill="#562880" />
<rect x="1397.00" y="564.22" width="18.00" height="13.28" fill="#562880" />
<rect x="1415.00" y="572.70" width="18.00" height="4.80" fill="#911a1b" />
<rect x="1415.00" y="561.39" width="18.00" height="11.31" fill="#562880" />
<rect x="1433.00" y="574.67" width="18.00" height="2.83" fill="#108b3e" />
<rect x="1433.00" y="566.19" width="18.00" height="8.48" fill="#f5a625" />
<rect x="1433.00" y="556.87" width="18.00" height="9.33" fill="#562880" />
<rect x="1451.00" y="569.02" width="18.00" height="8.48" fill="#0b8384" />
<rect x="1451.00" y="563.37" width="18.00" height="5.65" fill="#108b3e" />
<rect x="1451.00" y="556.30" width="18.00" height="7.07" fill="#562880" />
<rect x="1487.00" y="565.63" width="18.00" height="11.87" fill="#911a1b" />
<rect x="1487.00" y="558.56" width="18.00" height="7.07" fill="#f5a625" />
<rect x="1487.00" y="555.74" width="18.00" height="2.83" fill="#108b3e" />
<rect x="1487.00" y="548.39" width="18.00" height="7.35" fill="#562880" />
<rect x="1000.60" y="386.20" width="0.80" height="191.30" fill="#e4e7ea" />
<rect x="1018.60" y="386.20" width="0.80" height="191.30" fill="#e4e7ea" />
<rect x="1036.60" y="386.20" width="0.80" height="191.30" fill="#e4e7ea" />
<rect x="1054.60" y="386.20" width="0.80" height="191.30" fill="#e4e7ea" />
<rect x="1072.60" y="386.20" width="0.80" height="191.30" fill="#e4e7ea" />
<rect x="1090.60" y="386.20" width="0.80" height="191.30" fill="#e4e7ea" />
<rect x="1108.60" y="386.20" width="0.80" height="191.30" fill="#e4e7ea" />
<rect x="1126.60" y="386.20" width="0.80" height="191.30" fill="#e4e7ea" />
<rect x="1144.60" y="386.20" width="0.80" height="191.30" fill="#e4e7ea" />
<rect x="1162.60" y="386.20" width="0.80" height="191.30" fill="#e4e7ea" />
<rect x="1180.60" y="386.20" width="0.80" height="191.30" fill="#e4e7ea" />
<rect x="1198.60" y="386.20" width="0.80" height="191.30" fill="#e4e7ea" />
<rect x="1216.60" y="386.20" width="0.80" height="191.30" fill="#e4e7ea" />
<rect x="1234.60" y="386.20" width="0.80" height="191.30" fill="#e4e7ea" />
<rect x="1252.60" y="386.20" width="0.80" height="191.30" fill="#e4e7ea" />
<rect x="1270.60" y="386.20" width="0.80" height="191.30" fill="#e4e7ea" />
<rect x="1288.60" y="386.20" width="0.80" height="191.30" fill="#e4e7ea" />
<rect x="1306.60" y="386.20" width="0.80" height="191.30" fill="#e4e7ea" />
<rect x="1324.60" y="386.20" width="0.80" height="191.30" fill="#e4e7ea" />
<rect x="1342.60" y="386.20" width="0.80" height="191.30" fill="#e4e7ea" />
<rect x="1360.60" y="386.20" width="0.80" height="191.30" fill="#e4e7ea" />
<rect x="1378.60" y="386.20" width="0.80" height="191.30" fill="#e4e7ea" />
<rect x="1396.60" y="386.20" width="0.80" height="191.30" fill="#e4e7ea" />
<rect x="1414.60" y="386.20" width="0.80" height="191.30" fill="#e4e7ea" />
<rect x="1432.60" y="386.20" width="0.80" height="191.30" fill="#e4e7ea" />
<rect x="1450.60" y="386.20" width="0.80" height="191.30" fill="#e4e7ea" />
<rect x="1468.60" y="386.20" width="0.80" height="191.30" fill="#e4e7ea" />
<rect x="1486.60" y="386.20" width="0.80" height="191.30" fill="#e4e7ea" />
<rect x="1504.60" y="386.20" width="0.80" height="191.30" fill="#e4e7ea" />
<text x="978.40" y="582.20" font-family="'DejaVu Sans', sans-serif" font-size="11.9" font-weight="normal" font-style="normal" text-anchor="end" fill="#1a1a1a" stroke="#1a1a1a" stroke-width="0.24" >0.0</text>
<text x="978.40" y="543.94" font-family="'DejaVu Sans', sans-serif" font-size="11.9" font-weight="normal" font-style="normal" text-anchor="end" fill="#1a1a1a" stroke="#1a1a1a" stroke-width="0.24" >0.2</text>
<text x="978.40" y="505.68" font-family="'DejaVu Sans', sans-serif" font-size="11.9" font-weight="normal" font-style="normal" text-anchor="end" fill="#1a1a1a" stroke="#1a1a1a" stroke-width="0.24" >0.4</text>
<text x="978.40" y="467.42" font-family="'DejaVu Sans', sans-serif" font-size="11.9" font-weight="normal" font-style="normal" text-anchor="end" fill="#1a1a1a" stroke="#1a1a1a" stroke-width="0.24" >0.6</text>
<text x="978.40" y="429.16" font-family="'DejaVu Sans', sans-serif" font-size="11.9" font-weight="normal" font-style="normal" text-anchor="end" fill="#1a1a1a" stroke="#1a1a1a" stroke-width="0.24" >0.8</text>
<text x="978.40" y="390.90" font-family="'DejaVu Sans', sans-serif" font-size="11.9" font-weight="normal" font-style="normal" text-anchor="end" fill="#1a1a1a" stroke="#1a1a1a" stroke-width="0.24" >1.0</text>
<text x="953.50" y="477.35" font-family="'DejaVu Sans', sans-serif" font-size="8.8" font-weight="normal" font-style="normal" text-anchor="middle" fill="#1a1a1a" stroke="#1a1a1a" stroke-width="0.18" transform="rotate(-90 953.50 477.35)" >Proportion of other mutations</text>
<text x="0" y="0" font-family="'DejaVu Sans', sans-serif" font-size="7.3" text-anchor="end" fill="#1a1a1a" stroke="#1a1a1a" stroke-width="0.28" transform="translate(989.40 371.20) rotate(36)">Bone-Leiomyo</text>
<text x="0" y="0" font-family="'DejaVu Sans', sans-serif" font-size="7.3" text-anchor="end" fill="#1a1a1a" stroke="#1a1a1a" stroke-width="0.28" transform="translate(1007.40 371.20) rotate(36)">CNS-Medullo</text>
<text x="0" y="0" font-family="'DejaVu Sans', sans-serif" font-size="7.3" text-anchor="end" fill="#1a1a1a" stroke="#1a1a1a" stroke-width="0.28" transform="translate(1025.40 371.20) rotate(36)">CNS-GBM</text>
<text x="0" y="0" font-family="'DejaVu Sans', sans-serif" font-size="7.3" text-anchor="end" fill="#1a1a1a" stroke="#1a1a1a" stroke-width="0.28" transform="translate(1043.40 371.20) rotate(36)">Kidney-ChRCC</text>
<text x="0" y="0" font-family="'DejaVu Sans', sans-serif" font-size="7.3" text-anchor="end" fill="#1a1a1a" stroke="#1a1a1a" stroke-width="0.28" transform="translate(1061.40 371.20) rotate(36)">Lung-AdenoCA</text>
<text x="0" y="0" font-family="'DejaVu Sans', sans-serif" font-size="7.3" text-anchor="end" fill="#1a1a1a" stroke="#1a1a1a" stroke-width="0.28" transform="translate(1079.40 371.20) rotate(36)">Stomach-AdenoCA</text>
<text x="0" y="0" font-family="'DejaVu Sans', sans-serif" font-size="7.3" text-anchor="end" fill="#1a1a1a" stroke="#1a1a1a" stroke-width="0.28" transform="translate(1097.40 371.20) rotate(36)">Uterus-AdenoCA</text>
<text x="0" y="0" font-family="'DejaVu Sans', sans-serif" font-size="7.3" text-anchor="end" fill="#1a1a1a" stroke="#1a1a1a" stroke-width="0.28" transform="translate(1115.40 371.20) rotate(36)">Lung-SCC</text>
<text x="0" y="0" font-family="'DejaVu Sans', sans-serif" font-size="7.3" text-anchor="end" fill="#1a1a1a" stroke="#1a1a1a" stroke-width="0.28" transform="translate(1133.40 371.20) rotate(36)">Breast-AdenoCA</text>
<text x="0" y="0" font-family="'DejaVu Sans', sans-serif" font-size="7.3" text-anchor="end" fill="#1a1a1a" stroke="#1a1a1a" stroke-width="0.28" transform="translate(1151.40 371.20) rotate(36)">Bone-Osteosarc</text>
<text x="0" y="0" font-family="'DejaVu Sans', sans-serif" font-size="7.3" text-anchor="end" fill="#1a1a1a" stroke="#1a1a1a" stroke-width="0.28" transform="translate(1169.40 371.20) rotate(36)">Head-SCC</text>
<text x="0" y="0" font-family="'DejaVu Sans', sans-serif" font-size="7.3" text-anchor="end" fill="#1a1a1a" stroke="#1a1a1a" stroke-width="0.28" transform="translate(1187.40 371.20) rotate(36)">Skin-Melanoma</text>
<text x="0" y="0" font-family="'DejaVu Sans', sans-serif" font-size="7.3" text-anchor="end" fill="#1a1a1a" stroke="#1a1a1a" stroke-width="0.28" transform="translate(1205.40 371.20) rotate(36)">Panc-AdenoCA</text>
<text x="0" y="0" font-family="'DejaVu Sans', sans-serif" font-size="7.3" text-anchor="end" fill="#1a1a1a" stroke="#1a1a1a" stroke-width="0.28" transform="translate(1223.40 371.20) rotate(36)">Cervix-SCC</text>
<text x="0" y="0" font-family="'DejaVu Sans', sans-serif" font-size="7.3" text-anchor="end" fill="#1a1a1a" stroke="#1a1a1a" stroke-width="0.28" transform="translate(1241.40 371.20) rotate(36)">Ovary-AdenoCA</text>
<text x="0" y="0" font-family="'DejaVu Sans', sans-serif" font-size="7.3" text-anchor="end" fill="#1a1a1a" stroke="#1a1a1a" stroke-width="0.28" transform="translate(1259.40 371.20) rotate(36)">Eso-AdenoCA</text>
<text x="0" y="0" font-family="'DejaVu Sans', sans-serif" font-size="7.3" text-anchor="end" fill="#1a1a1a" stroke="#1a1a1a" stroke-width="0.28" transform="translate(1277.40 371.20) rotate(36)">Liver-HCC</text>
<text x="0" y="0" font-family="'DejaVu Sans', sans-serif" font-size="7.3" text-anchor="end" fill="#1a1a1a" stroke="#1a1a1a" stroke-width="0.28" transform="translate(1295.40 371.20) rotate(36)">Breast-LobularCA</text>
<text x="0" y="0" font-family="'DejaVu Sans', sans-serif" font-size="7.3" text-anchor="end" fill="#1a1a1a" stroke="#1a1a1a" stroke-width="0.28" transform="translate(1313.40 371.20) rotate(36)">Lymph-BNHL</text>
<text x="0" y="0" font-family="'DejaVu Sans', sans-serif" font-size="7.3" text-anchor="end" fill="#1a1a1a" stroke="#1a1a1a" stroke-width="0.28" transform="translate(1331.40 371.20) rotate(36)">Bladder-TCC</text>
<text x="0" y="0" font-family="'DejaVu Sans', sans-serif" font-size="7.3" text-anchor="end" fill="#1a1a1a" stroke="#1a1a1a" stroke-width="0.28" transform="translate(1349.40 371.20) rotate(36)">Biliary-AdenoCA</text>
<text x="0" y="0" font-family="'DejaVu Sans', sans-serif" font-size="7.3" text-anchor="end" fill="#1a1a1a" stroke="#1a1a1a" stroke-width="0.28" transform="translate(1367.40 371.20) rotate(36)">Prost-AdenoCA</text>
<text x="0" y="0" font-family="'DejaVu Sans', sans-serif" font-size="7.3" text-anchor="end" fill="#1a1a1a" stroke="#1a1a1a" stroke-width="0.28" transform="translate(1385.40 371.20) rotate(36)">Lymph-NOS</text>
<text x="0" y="0" font-family="'DejaVu Sans', sans-serif" font-size="7.3" text-anchor="end" fill="#1a1a1a" stroke="#1a1a1a" stroke-width="0.28" transform="translate(1403.40 371.20) rotate(36)">ColoRect-AdenoCA</text>
<text x="0" y="0" font-family="'DejaVu Sans', sans-serif" font-size="7.3" text-anchor="end" fill="#1a1a1a" stroke="#1a1a1a" stroke-width="0.28" transform="translate(1421.40 371.20) rotate(36)">Bone-Epith</text>
<text x="0" y="0" font-family="'DejaVu Sans', sans-serif" font-size="7.3" text-anchor="end" fill="#1a1a1a" stroke="#1a1a1a" stroke-width="0.28" transform="translate(1439.40 371.20) rotate(36)">Panc-Endocrine</text>
<text x="0" y="0" font-family="'DejaVu Sans', sans-serif" font-size="7.3" text-anchor="end" fill="#1a1a1a" stroke="#1a1a1a" stroke-width="0.28" transform="translate(1457.40 371.20) rotate(36)">Lymph-CLL</text>
<text x="0" y="0" font-family="'DejaVu Sans', sans-serif" font-size="7.3" text-anchor="end" fill="#1a1a1a" stroke="#1a1a1a" stroke-width="0.28" transform="translate(1475.40 371.20) rotate(36)">Cervix-AdenoCA</text>
<text x="0" y="0" font-family="'DejaVu Sans', sans-serif" font-size="7.3" text-anchor="end" fill="#1a1a1a" stroke="#1a1a1a" stroke-width="0.28" transform="translate(1493.40 371.20) rotate(36)">Kidney-RCC</text>
<text x="0" y="0" font-family="'DejaVu Sans', sans-serif" font-size="7.3" text-anchor="end" fill="#1a1a1a" stroke="#1a1a1a" stroke-width="0.28" transform="translate(1511.40 371.20) rotate(36)">CNS-Oligo</text>
<text x="0" y="0" font-family="'Liberation Serif', serif" font-size="41" font-weight="bold" font-style="italic" text-anchor="middle" fill="#151515" transform="translate(1273.30 323.70) scale(0.965 1)">OTHER</text>
<rect x="1579.50" y="386.20" width="540.00" height="191.30" fill="#d9dde0" />
<rect x="1579.50" y="512.49" width="18.00" height="65.01" fill="#911a1b" />
<rect x="1579.50" y="502.03" width="18.00" height="10.46" fill="#0b8384" />
<rect x="1579.50" y="500.34" width="18.00" height="1.70" fill="#8fb2b8" />
<rect x="1579.50" y="489.03" width="18.00" height="11.31" fill="#f5a625" />
<rect x="1579.50" y="477.16" width="18.00" height="11.87" fill="#fdca8c" />
<rect x="1579.50" y="465.29" width="18.00" height="11.87" fill="#108b3e" />
<rect x="1579.50" y="436.18" width="18.00" height="29.11" fill="#562880" />
<rect x="1597.50" y="565.63" width="18.00" height="11.87" fill="#911a1b" />
<rect x="1597.50" y="546.41" width="18.00" height="19.22" fill="#562880" />
<rect x="1615.50" y="567.61" width="18.00" height="9.89" fill="#911a1b" />
<rect x="1615.50" y="563.37" width="18.00" height="4.24" fill="#562880" />
<rect x="1633.50" y="561.39" width="18.00" height="16.11" fill="#562880" />
<rect x="1651.50" y="576.09" width="18.00" height="1.41" fill="#0b8384" />
<rect x="1651.50" y="571.85" width="18.00" height="4.24" fill="#8fb2b8" />
<rect x="1651.50" y="565.63" width="18.00" height="6.22" fill="#f5a625" />
<rect x="1651.50" y="561.39" width="18.00" height="4.24" fill="#562880" />
<rect x="1669.50" y="572.70" width="18.00" height="4.80" fill="#f5a625" />
<rect x="1669.50" y="554.89" width="18.00" height="17.81" fill="#562880" />
<rect x="1687.50" y="571.85" width="18.00" height="5.65" fill="#0b8384" />
<rect x="1687.50" y="562.80" width="18.00" height="9.04" fill="#562880" />
<rect x="1705.50" y="574.67" width="18.00" height="2.83" fill="#108b3e" />
<rect x="1705.50" y="570.43" width="18.00" height="4.24" fill="#562880" />
<rect x="1723.50" y="573.26" width="18.00" height="4.24" fill="#108b3e" />
<rect x="1723.50" y="559.13" width="18.00" height="14.13" fill="#562880" />
<rect x="1741.50" y="558.56" width="18.00" height="18.94" fill="#562880" />
<rect x="1759.50" y="573.26" width="18.00" height="4.24" fill="#0b8384" />
<rect x="1759.50" y="571.28" width="18.00" height="1.98" fill="#108b3e" />
<rect x="1759.50" y="568.46" width="18.00" height="2.83" fill="#562880" />
<rect x="1777.50" y="567.61" width="18.00" height="9.89" fill="#0b8384" />
<rect x="1777.50" y="561.39" width="18.00" height="6.22" fill="#f5a625" />
<rect x="1777.50" y="559.13" width="18.00" height="2.26" fill="#108b3e" />
<rect x="1777.50" y="552.06" width="18.00" height="7.07" fill="#562880" />
<rect x="1795.50" y="573.26" width="18.00" height="4.24" fill="#911a1b" />
<rect x="1795.50" y="571.85" width="18.00" height="1.41" fill="#108b3e" />
<rect x="1795.50" y="567.61" width="18.00" height="4.24" fill="#f5a625" />
<rect x="1795.50" y="560.54" width="18.00" height="7.07" fill="#562880" />
<rect x="1813.50" y="530.86" width="18.00" height="46.64" fill="#108b3e" />
<rect x="1831.50" y="574.67" width="18.00" height="2.83" fill="#108b3e" />
<rect x="1831.50" y="569.87" width="18.00" height="4.80" fill="#f5a625" />
<rect x="1831.50" y="561.95" width="18.00" height="7.91" fill="#562880" />
<rect x="1849.50" y="574.67" width="18.00" height="2.83" fill="#911a1b" />
<rect x="1849.50" y="569.87" width="18.00" height="4.80" fill="#0b8384" />
<rect x="1849.50" y="562.52" width="18.00" height="7.35" fill="#f5a625" />
<rect x="1849.50" y="555.45" width="18.00" height="7.07" fill="#562880" />
<rect x="1867.50" y="573.26" width="18.00" height="4.24" fill="#911a1b" />
<rect x="1867.50" y="569.02" width="18.00" height="4.24" fill="#562880" />
<rect x="1885.50" y="552.06" width="18.00" height="25.44" fill="#f5a625" />
<rect x="1903.50" y="571.85" width="18.00" height="5.65" fill="#0b8384" />
<rect x="1903.50" y="550.08" width="18.00" height="21.76" fill="#562880" />
<rect x="1921.50" y="573.26" width="18.00" height="4.24" fill="#0b8384" />
<rect x="1921.50" y="567.61" width="18.00" height="5.65" fill="#562880" />
<rect x="1939.50" y="574.67" width="18.00" height="2.83" fill="#8db48d" />
<rect x="1957.50" y="570.43" width="18.00" height="7.07" fill="#0b8384" />
<rect x="1957.50" y="566.76" width="18.00" height="3.67" fill="#f5a625" />
<rect x="1957.50" y="563.37" width="18.00" height="3.39" fill="#108b3e" />
<rect x="1957.50" y="506.84" width="18.00" height="56.53" fill="#562880" />
<rect x="1975.50" y="550.65" width="18.00" height="26.85" fill="#562880" />
<rect x="1993.50" y="567.61" width="18.00" height="9.89" fill="#562880" />
<rect x="2029.50" y="576.09" width="18.00" height="1.41" fill="#911a1b" />
<rect x="2029.50" y="564.78" width="18.00" height="11.31" fill="#0b8384" />
<rect x="2029.50" y="561.39" width="18.00" height="3.39" fill="#f5a625" />
<rect x="2029.50" y="540.19" width="18.00" height="21.20" fill="#562880" />
<rect x="2083.50" y="568.46" width="18.00" height="9.04" fill="#911a1b" />
<rect x="2083.50" y="561.39" width="18.00" height="7.07" fill="#f5a625" />
<rect x="2083.50" y="557.71" width="18.00" height="3.67" fill="#108b3e" />
<rect x="1597.10" y="386.20" width="0.80" height="191.30" fill="#e4e7ea" />
<rect x="1615.10" y="386.20" width="0.80" height="191.30" fill="#e4e7ea" />
<rect x="1633.10" y="386.20" width="0.80" height="191.30" fill="#e4e7ea" />
<rect x="1651.10" y="386.20" width="0.80" height="191.30" fill="#e4e7ea" />
<rect x="1669.10" y="386.20" width="0.80" height="191.30" fill="#e4e7ea" />
<rect x="1687.10" y="386.20" width="0.80" height="191.30" fill="#e4e7ea" />
<rect x="1705.10" y="386.20" width="0.80" height="191.30" fill="#e4e7ea" />
<rect x="1723.10" y="386.20" width="0.80" height="191.30" fill="#e4e7ea" />
<rect x="1741.10" y="386.20" width="0.80" height="191.30" fill="#e4e7ea" />
<rect x="1759.10" y="386.20" width="0.80" height="191.30" fill="#e4e7ea" />
<rect x="1777.10" y="386.20" width="0.80" height="191.30" fill="#e4e7ea" />
<rect x="1795.10" y="386.20" width="0.80" height="191.30" fill="#e4e7ea" />
<rect x="1813.10" y="386.20" width="0.80" height="191.30" fill="#e4e7ea" />
<rect x="1831.10" y="386.20" width="0.80" height="191.30" fill="#e4e7ea" />
<rect x="1849.10" y="386.20" width="0.80" height="191.30" fill="#e4e7ea" />
<rect x="1867.10" y="386.20" width="0.80" height="191.30" fill="#e4e7ea" />
<rect x="1885.10" y="386.20" width="0.80" height="191.30" fill="#e4e7ea" />
<rect x="1903.10" y="386.20" width="0.80" height="191.30" fill="#e4e7ea" />
<rect x="1921.10" y="386.20" width="0.80" height="191.30" fill="#e4e7ea" />
<rect x="1939.10" y="386.20" width="0.80" height="191.30" fill="#e4e7ea" />
<rect x="1957.10" y="386.20" width="0.80" height="191.30" fill="#e4e7ea" />
<rect x="1975.10" y="386.20" width="0.80" height="191.30" fill="#e4e7ea" />
<rect x="1993.10" y="386.20" width="0.80" height="191.30" fill="#e4e7ea" />
<rect x="2011.10" y="386.20" width="0.80" height="191.30" fill="#e4e7ea" />
<rect x="2029.10" y="386.20" width="0.80" height="191.30" fill="#e4e7ea" />
<rect x="2047.10" y="386.20" width="0.80" height="191.30" fill="#e4e7ea" />
<rect x="2065.10" y="386.20" width="0.80" height="191.30" fill="#e4e7ea" />
<rect x="2083.10" y="386.20" width="0.80" height="191.30" fill="#e4e7ea" />
<rect x="2101.10" y="386.20" width="0.80" height="191.30" fill="#e4e7ea" />
<text x="1574.90" y="582.20" font-family="'DejaVu Sans', sans-serif" font-size="11.9" font-weight="normal" font-style="normal" text-anchor="end" fill="#1a1a1a" stroke="#1a1a1a" stroke-width="0.24" >0.0</text>
<text x="1574.90" y="543.94" font-family="'DejaVu Sans', sans-serif" font-size="11.9" font-weight="normal" font-style="normal" text-anchor="end" fill="#1a1a1a" stroke="#1a1a1a" stroke-width="0.24" >0.2</text>
<text x="1574.90" y="505.68" font-family="'DejaVu Sans', sans-serif" font-size="11.9" font-weight="normal" font-style="normal" text-anchor="end" fill="#1a1a1a" stroke="#1a1a1a" stroke-width="0.24" >0.4</text>
<text x="1574.90" y="467.42" font-family="'DejaVu Sans', sans-serif" font-size="11.9" font-weight="normal" font-style="normal" text-anchor="end" fill="#1a1a1a" stroke="#1a1a1a" stroke-width="0.24" >0.6</text>
<text x="1574.90" y="429.16" font-family="'DejaVu Sans', sans-serif" font-size="11.9" font-weight="normal" font-style="normal" text-anchor="end" fill="#1a1a1a" stroke="#1a1a1a" stroke-width="0.24" >0.8</text>
<text x="1574.90" y="390.90" font-family="'DejaVu Sans', sans-serif" font-size="11.9" font-weight="normal" font-style="normal" text-anchor="end" fill="#1a1a1a" stroke="#1a1a1a" stroke-width="0.24" >1.0</text>
<text x="1550.00" y="477.35" font-family="'DejaVu Sans', sans-serif" font-size="8.8" font-weight="normal" font-style="normal" text-anchor="middle" fill="#1a1a1a" stroke="#1a1a1a" stroke-width="0.18" transform="rotate(-90 1550.00 477.35)" >Proportion of clustered indels</text>
<text x="0" y="0" font-family="'DejaVu Sans', sans-serif" font-size="7.3" text-anchor="end" fill="#1a1a1a" stroke="#1a1a1a" stroke-width="0.28" transform="translate(1585.90 371.20) rotate(36)">Bone-Leiomyo</text>
<text x="0" y="0" font-family="'DejaVu Sans', sans-serif" font-size="7.3" text-anchor="end" fill="#1a1a1a" stroke="#1a1a1a" stroke-width="0.28" transform="translate(1603.90 371.20) rotate(36)">CNS-Medullo</text>
<text x="0" y="0" font-family="'DejaVu Sans', sans-serif" font-size="7.3" text-anchor="end" fill="#1a1a1a" stroke="#1a1a1a" stroke-width="0.28" transform="translate(1621.90 371.20) rotate(36)">CNS-GBM</text>
<text x="0" y="0" font-family="'DejaVu Sans', sans-serif" font-size="7.3" text-anchor="end" fill="#1a1a1a" stroke="#1a1a1a" stroke-width="0.28" transform="translate(1639.90 371.20) rotate(36)">Kidney-ChRCC</text>
<text x="0" y="0" font-family="'DejaVu Sans', sans-serif" font-size="7.3" text-anchor="end" fill="#1a1a1a" stroke="#1a1a1a" stroke-width="0.28" transform="translate(1657.90 371.20) rotate(36)">Lung-AdenoCA</text>
<text x="0" y="0" font-family="'DejaVu Sans', sans-serif" font-size="7.3" text-anchor="end" fill="#1a1a1a" stroke="#1a1a1a" stroke-width="0.28" transform="translate(1675.90 371.20) rotate(36)">Stomach-AdenoCA</text>
<text x="0" y="0" font-family="'DejaVu Sans', sans-serif" font-size="7.3" text-anchor="end" fill="#1a1a1a" stroke="#1a1a1a" stroke-width="0.28" transform="translate(1693.90 371.20) rotate(36)">Uterus-AdenoCA</text>
<text x="0" y="0" font-family="'DejaVu Sans', sans-serif" font-size="7.3" text-anchor="end" fill="#1a1a1a" stroke="#1a1a1a" stroke-width="0.28" transform="translate(1711.90 371.20) rotate(36)">Lung-SCC</text>
<text x="0" y="0" font-family="'DejaVu Sans', sans-serif" font-size="7.3" text-anchor="end" fill="#1a1a1a" stroke="#1a1a1a" stroke-width="0.28" transform="translate(1729.90 371.20) rotate(36)">Breast-AdenoCA</text>
<text x="0" y="0" font-family="'DejaVu Sans', sans-serif" font-size="7.3" text-anchor="end" fill="#1a1a1a" stroke="#1a1a1a" stroke-width="0.28" transform="translate(1747.90 371.20) rotate(36)">Bone-Osteosarc</text>
<text x="0" y="0" font-family="'DejaVu Sans', sans-serif" font-size="7.3" text-anchor="end" fill="#1a1a1a" stroke="#1a1a1a" stroke-width="0.28" transform="translate(1765.90 371.20) rotate(36)">Head-SCC</text>
<text x="0" y="0" font-family="'DejaVu Sans', sans-serif" font-size="7.3" text-anchor="end" fill="#1a1a1a" stroke="#1a1a1a" stroke-width="0.28" transform="translate(1783.90 371.20) rotate(36)">Skin-Melanoma</text>
<text x="0" y="0" font-family="'DejaVu Sans', sans-serif" font-size="7.3" text-anchor="end" fill="#1a1a1a" stroke="#1a1a1a" stroke-width="0.28" transform="translate(1801.90 371.20) rotate(36)">Panc-AdenoCA</text>
<text x="0" y="0" font-family="'DejaVu Sans', sans-serif" font-size="7.3" text-anchor="end" fill="#1a1a1a" stroke="#1a1a1a" stroke-width="0.28" transform="translate(1819.90 371.20) rotate(36)">Cervix-SCC</text>
<text x="0" y="0" font-family="'DejaVu Sans', sans-serif" font-size="7.3" text-anchor="end" fill="#1a1a1a" stroke="#1a1a1a" stroke-width="0.28" transform="translate(1837.90 371.20) rotate(36)">Ovary-AdenoCA</text>
<text x="0" y="0" font-family="'DejaVu Sans', sans-serif" font-size="7.3" text-anchor="end" fill="#1a1a1a" stroke="#1a1a1a" stroke-width="0.28" transform="translate(1855.90 371.20) rotate(36)">Eso-AdenoCA</text>
<text x="0" y="0" font-family="'DejaVu Sans', sans-serif" font-size="7.3" text-anchor="end" fill="#1a1a1a" stroke="#1a1a1a" stroke-width="0.28" transform="translate(1873.90 371.20) rotate(36)">Liver-HCC</text>
<text x="0" y="0" font-family="'DejaVu Sans', sans-serif" font-size="7.3" text-anchor="end" fill="#1a1a1a" stroke="#1a1a1a" stroke-width="0.28" transform="translate(1891.90 371.20) rotate(36)">Breast-LobularCA</text>
<text x="0" y="0" font-family="'DejaVu Sans', sans-serif" font-size="7.3" text-anchor="end" fill="#1a1a1a" stroke="#1a1a1a" stroke-width="0.28" transform="translate(1909.90 371.20) rotate(36)">Lymph-BNHL</text>
<text x="0" y="0" font-family="'DejaVu Sans', sans-serif" font-size="7.3" text-anchor="end" fill="#1a1a1a" stroke="#1a1a1a" stroke-width="0.28" transform="translate(1927.90 371.20) rotate(36)">Bladder-TCC</text>
<text x="0" y="0" font-family="'DejaVu Sans', sans-serif" font-size="7.3" text-anchor="end" fill="#1a1a1a" stroke="#1a1a1a" stroke-width="0.28" transform="translate(1945.90 371.20) rotate(36)">Biliary-AdenoCA</text>
<text x="0" y="0" font-family="'DejaVu Sans', sans-serif" font-size="7.3" text-anchor="end" fill="#1a1a1a" stroke="#1a1a1a" stroke-width="0.28" transform="translate(1963.90 371.20) rotate(36)">Prost-AdenoCA</text>
<text x="0" y="0" font-family="'DejaVu Sans', sans-serif" font-size="7.3" text-anchor="end" fill="#1a1a1a" stroke="#1a1a1a" stroke-width="0.28" transform="translate(1981.90 371.20) rotate(36)">Lymph-NOS</text>
<text x="0" y="0" font-family="'DejaVu Sans', sans-serif" font-size="7.3" text-anchor="end" fill="#1a1a1a" stroke="#1a1a1a" stroke-width="0.28" transform="translate(1999.90 371.20) rotate(36)">ColoRect-AdenoCA</text>
<text x="0" y="0" font-family="'DejaVu Sans', sans-serif" font-size="7.3" text-anchor="end" fill="#1a1a1a" stroke="#1a1a1a" stroke-width="0.28" transform="translate(2017.90 371.20) rotate(36)">Bone-Epith</text>
<text x="0" y="0" font-family="'DejaVu Sans', sans-serif" font-size="7.3" text-anchor="end" fill="#1a1a1a" stroke="#1a1a1a" stroke-width="0.28" transform="translate(2035.90 371.20) rotate(36)">Panc-Endocrine</text>
<text x="0" y="0" font-family="'DejaVu Sans', sans-serif" font-size="7.3" text-anchor="end" fill="#1a1a1a" stroke="#1a1a1a" stroke-width="0.28" transform="translate(2053.90 371.20) rotate(36)">Lymph-CLL</text>
<text x="0" y="0" font-family="'DejaVu Sans', sans-serif" font-size="7.3" text-anchor="end" fill="#1a1a1a" stroke="#1a1a1a" stroke-width="0.28" transform="translate(2071.90 371.20) rotate(36)">Cervix-AdenoCA</text>
<text x="0" y="0" font-family="'DejaVu Sans', sans-serif" font-size="7.3" text-anchor="end" fill="#1a1a1a" stroke="#1a1a1a" stroke-width="0.28" transform="translate(2089.90 371.20) rotate(36)">Kidney-RCC</text>
<text x="0" y="0" font-family="'DejaVu Sans', sans-serif" font-size="7.3" text-anchor="end" fill="#1a1a1a" stroke="#1a1a1a" stroke-width="0.28" transform="translate(2107.90 371.20) rotate(36)">CNS-Oligo</text>
<text x="0" y="0" font-family="'Liberation Serif', serif" font-size="41" font-weight="bold" font-style="normal" text-anchor="middle" fill="#151515" transform="translate(1829.40 323.70) scale(0.965 1)">INDELs</text>
<text x="0" y="0" font-family="'DejaVu Serif', serif" font-weight="bold" font-size="48.5" fill="#151515" stroke="#151515" stroke-width="0.6" transform="translate(7.96 39.90) scale(1.0 1)">a</text>
<defs><pattern id="hstripe" patternUnits="userSpaceOnUse" width="3.6" height="10"><rect x="0" y="0" width="3.6" height="10" fill="#86624f"/><rect x="1.9" y="0" width="1.7" height="10" fill="#6d7c71"/></pattern></defs>
<g>
<path d="M32.60,796.40 L32.60,796.40 L33.39,796.40 L33.39,796.40 L34.18,796.40 L34.18,796.40 L34.98,796.40 L34.98,796.40 L35.77,796.40 L35.77,796.40 L36.56,796.40 L36.56,796.40 L37.35,796.40 L37.35,796.40 L38.15,796.40 L38.15,796.40 L38.94,796.40 L38.94,796.40 L39.73,796.40 L39.73,796.40 L40.52,796.40 L40.52,796.40 L41.32,796.40 L41.32,796.40 L42.11,796.40 L42.11,796.40 L42.90,796.40 L42.90,796.40 L43.69,796.40 L43.69,796.40 L44.49,796.40 L44.49,796.40 L45.28,796.40 L45.28,796.40 L46.07,796.40 L46.07,796.40 L46.86,796.40 L46.86,796.40 L47.66,796.40 L47.66,796.40 L48.45,796.40 L48.45,796.40 L49.24,796.40 L49.24,796.40 L50.03,796.40 L50.03,796.40 L50.83,796.40 L50.83,796.40 L51.62,796.40 L51.62,796.40 L52.41,796.40 L52.41,796.40 L53.20,796.40 L53.20,796.40 L54.00,796.40 L54.00,796.40 L54.79,796.40 L54.79,796.40 L55.58,796.40 L55.58,796.40 L56.37,796.40 L56.37,796.40 L57.17,796.40 L57.17,796.40 L57.96,796.40 L57.96,796.40 L58.75,796.40 L58.75,796.40 L59.54,796.40 L59.54,796.40 L60.34,796.40 L60.34,796.40 L61.13,796.40 L61.13,796.40 L61.92,796.40 L61.92,796.40 L62.71,796.40 L62.71,796.40 L63.51,796.40 L63.51,796.40 L64.30,796.40 L64.30,796.40 L65.09,796.40 L65.09,796.40 L65.88,796.40 L65.88,796.40 L66.68,796.40 L66.68,796.40 L67.47,796.40 L67.47,796.40 L68.26,796.40 L68.26,796.40 L69.05,796.40 L69.05,796.40 L69.84,796.40 L69.84,796.40 L70.64,796.40 L70.64,796.40 L71.43,796.40 L71.43,796.40 L72.22,796.40 L72.22,796.40 L73.01,796.40 L73.01,796.40 L73.81,796.40 L73.81,796.40 L74.60,796.40 L74.60,796.40 L75.39,796.40 L75.39,796.40 L76.18,796.40 L76.18,796.40 L76.98,796.40 L76.98,796.40 L77.77,796.40 L77.77,796.40 L78.56,796.40 L78.56,796.40 L79.35,796.40 L79.35,796.39 L80.15,796.39 L80.15,796.39 L80.94,796.39 L80.94,796.39 L81.73,796.39 L81.73,796.39 L82.52,796.39 L82.52,796.39 L83.32,796.39 L83.32,796.39 L84.11,796.39 L84.11,796.39 L84.90,796.39 L84.90,796.39 L85.69,796.39 L85.69,796.38 L86.49,796.38 L86.49,796.38 L87.28,796.38 L87.28,796.38 L88.07,796.38 L88.07,796.38 L88.86,796.38 L88.86,796.37 L89.66,796.37 L89.66,796.37 L90.45,796.37 L90.45,796.37 L91.24,796.37 L91.24,796.37 L92.03,796.37 L92.03,796.36 L92.83,796.36 L92.83,796.36 L93.62,796.36 L93.62,796.35 L94.41,796.35 L94.41,796.34 L95.20,796.34 L95.20,796.34 L96.00,796.34 L96.00,796.33 L96.79,796.33 L96.79,796.32 L97.58,796.32 L97.58,796.31 L98.37,796.31 L98.37,796.30 L99.17,796.30 L99.17,796.30 L99.96,796.30 L99.96,796.28 L100.75,796.28 L100.75,796.26 L101.54,796.26 L101.54,796.26 L102.34,796.26 L102.34,796.23 L103.13,796.23 L103.13,796.22 L103.92,796.22 L103.92,796.20 L104.71,796.20 L104.71,796.17 L105.50,796.17 L105.50,796.17 L106.30,796.17 L106.30,796.12 L107.09,796.12 L107.09,796.11 L107.88,796.11 L107.88,796.06 L108.67,796.06 L108.67,796.04 L109.47,796.04 L109.47,796.01 L110.26,796.01 L110.26,795.99 L111.05,795.99 L111.05,795.95 L111.84,795.95 L111.84,795.89 L112.64,795.89 L112.64,795.83 L113.43,795.83 L113.43,795.77 L114.22,795.77 L114.22,795.71 L115.01,795.71 L115.01,795.65 L115.81,795.65 L115.81,795.66 L116.60,795.66 L116.60,795.58 L117.39,795.58 L117.39,795.46 L118.18,795.46 L118.18,795.40 L118.98,795.40 L118.98,795.29 L119.77,795.29 L119.77,795.25 L120.56,795.25 L120.56,795.12 L121.35,795.12 L121.35,795.04 L122.15,795.04 L122.15,794.89 L122.94,794.89 L122.94,794.84 L123.73,794.84 L123.73,794.56 L124.52,794.56 L124.52,794.44 L125.32,794.44 L125.32,794.34 L126.11,794.34 L126.11,794.33 L126.90,794.33 L126.90,794.12 L127.69,794.12 L127.69,793.90 L128.49,793.90 L128.49,793.60 L129.28,793.60 L129.28,793.65 L130.07,793.65 L130.07,793.43 L130.86,793.43 L130.86,792.88 L131.66,792.88 L131.66,793.02 L132.45,793.02 L132.45,792.68 L133.24,792.68 L133.24,792.42 L134.03,792.42 L134.03,792.03 L134.83,792.03 L134.83,791.96 L135.62,791.96 L135.62,791.72 L136.41,791.72 L136.41,791.05 L137.20,791.05 L137.20,791.14 L137.99,791.14 L137.99,790.61 L138.79,790.61 L138.79,789.96 L139.58,789.96 L139.58,789.56 L140.37,789.56 L140.37,789.47 L141.16,789.47 L141.16,789.01 L141.96,789.01 L141.96,788.66 L142.75,788.66 L142.75,788.19 L143.54,788.19 L143.54,787.67 L144.33,787.67 L144.33,787.71 L145.13,787.71 L145.13,786.84 L145.92,786.84 L145.92,785.72 L146.71,785.72 L146.71,785.23 L147.50,785.23 L147.50,785.52 L148.30,785.52 L148.30,785.18 L149.09,785.18 L149.09,783.84 L149.88,783.84 L149.88,783.04 L150.67,783.04 L150.67,782.51 L151.47,782.51 L151.47,782.94 L152.26,782.94 L152.26,782.50 L153.05,782.50 L153.05,780.46 L153.84,780.46 L153.84,781.07 L154.64,781.07 L154.64,778.81 L155.43,778.81 L155.43,779.85 L156.22,779.85 L156.22,778.91 L157.01,778.91 L157.01,776.89 L157.81,776.89 L157.81,775.38 L158.60,775.38 L158.60,774.85 L159.39,774.85 L159.39,773.99 L160.18,773.99 L160.18,773.14 L160.98,773.14 L160.98,771.99 L161.77,771.99 L161.77,772.92 L162.56,772.92 L162.56,770.25 L163.35,770.25 L163.35,770.04 L164.15,770.04 L164.15,768.71 L164.94,768.71 L164.94,765.48 L165.73,765.48 L165.73,765.32 L166.52,765.32 L166.52,763.71 L167.32,763.71 L167.32,763.02 L168.11,763.02 L168.11,757.15 L168.90,757.15 L168.90,755.93 L169.69,755.93 L169.69,753.80 L170.49,753.80 L170.49,751.31 L171.28,751.31 L171.28,749.61 L172.07,749.61 L172.07,744.25 L172.86,744.25 L172.86,746.11 L173.65,746.11 L173.65,737.48 L174.45,737.48 L174.45,737.27 L175.24,737.27 L175.24,735.67 L176.03,735.67 L176.03,732.00 L176.82,732.00 L176.82,727.34 L177.62,727.34 L177.62,720.18 L178.41,720.18 L178.41,719.89 L179.20,719.89 L179.20,714.91 L179.99,714.91 L179.99,709.30 L180.79,709.30 L180.79,709.45 L181.58,709.45 L181.58,702.99 L182.37,702.99 L182.37,703.14 L183.16,703.14 L183.16,698.26 L183.96,698.26 L183.96,697.62 L184.75,697.62 L184.75,690.90 L185.54,690.90 L185.54,688.86 L186.33,688.86 L186.33,682.43 L187.13,682.43 L187.13,685.58 L187.92,685.58 L187.92,679.67 L188.71,679.67 L188.71,680.93 L189.50,680.93 L189.50,684.70 L190.30,684.70 L190.30,688.75 L191.09,688.75 L191.09,684.63 L191.88,684.63 L191.88,684.83 L192.67,684.83 L192.67,696.37 L193.47,696.37 L193.47,700.01 L194.26,700.01 L194.26,696.41 L195.05,696.41 L195.05,707.95 L195.84,707.95 L195.84,712.32 L196.64,712.32 L196.64,713.58 L197.43,713.58 L197.43,725.05 L198.22,725.05 L198.22,728.80 L199.01,728.80 L199.01,732.17 L199.81,732.17 L199.81,741.86 L200.60,741.86 L200.60,744.35 L201.39,744.35 L201.39,750.91 L202.18,750.91 L202.18,752.05 L202.98,752.05 L202.98,758.95 L203.77,758.95 L203.77,764.51 L204.56,764.51 L204.56,769.10 L205.35,769.10 L205.35,770.35 L206.15,770.35 L206.15,773.88 L206.94,773.88 L206.94,777.51 L207.73,777.51 L207.73,781.24 L208.52,781.24 L208.52,783.05 L209.31,783.05 L209.31,785.74 L210.11,785.74 L210.11,786.77 L210.90,786.77 L210.90,788.83 L211.69,788.83 L211.69,796.40 L212.48,796.40 L212.48,796.40 L213.28,796.40 L213.28,796.40 L214.07,796.40 L214.07,796.40 L214.86,796.40 L214.86,796.40 Z" fill="#82b4ba" />
<path d="M32.60,796.40 L32.60,796.40 L33.39,796.40 L33.39,796.40 L34.18,796.40 L34.18,796.40 L34.98,796.40 L34.98,796.40 L35.77,796.40 L35.77,796.40 L36.56,796.40 L36.56,796.40 L37.35,796.40 L37.35,796.40 L38.15,796.40 L38.15,796.40 L38.94,796.40 L38.94,796.40 L39.73,796.40 L39.73,796.40 L40.52,796.40 L40.52,796.40 L41.32,796.40 L41.32,796.40 L42.11,796.40 L42.11,796.40 L42.90,796.40 L42.90,796.40 L43.69,796.40 L43.69,796.40 L44.49,796.40 L44.49,796.40 L45.28,796.40 L45.28,796.40 L46.07,796.40 L46.07,796.40 L46.86,796.40 L46.86,796.40 L47.66,796.40 L47.66,796.40 L48.45,796.40 L48.45,796.40 L49.24,796.40 L49.24,796.40 L50.03,796.40 L50.03,796.40 L50.83,796.40 L50.83,796.40 L51.62,796.40 L51.62,796.40 L52.41,796.40 L52.41,796.40 L53.20,796.40 L53.20,796.40 L54.00,796.40 L54.00,796.40 L54.79,796.40 L54.79,796.40 L55.58,796.40 L55.58,796.40 L56.37,796.40 L56.37,796.40 L57.17,796.40 L57.17,796.40 L57.96,796.40 L57.96,796.40 L58.75,796.40 L58.75,796.40 L59.54,796.40 L59.54,796.40 L60.34,796.40 L60.34,796.40 L61.13,796.40 L61.13,796.40 L61.92,796.40 L61.92,796.40 L62.71,796.40 L62.71,796.40 L63.51,796.40 L63.51,796.40 L64.30,796.40 L64.30,796.40 L65.09,796.40 L65.09,796.40 L65.88,796.40 L65.88,796.40 L66.68,796.40 L66.68,796.40 L67.47,796.40 L67.47,796.40 L68.26,796.40 L68.26,796.40 L69.05,796.40 L69.05,796.40 L69.84,796.40 L69.84,796.40 L70.64,796.40 L70.64,796.40 L71.43,796.40 L71.43,796.40 L72.22,796.40 L72.22,796.40 L73.01,796.40 L73.01,796.40 L73.81,796.40 L73.81,796.40 L74.60,796.40 L74.60,796.40 L75.39,796.40 L75.39,796.40 L76.18,796.40 L76.18,796.40 L76.98,796.40 L76.98,796.40 L77.77,796.40 L77.77,796.40 L78.56,796.40 L78.56,796.40 L79.35,796.40 L79.35,796.40 L80.15,796.40 L80.15,796.40 L80.94,796.40 L80.94,796.40 L81.73,796.40 L81.73,796.40 L82.52,796.40 L82.52,796.40 L83.32,796.40 L83.32,796.40 L84.11,796.40 L84.11,796.40 L84.90,796.40 L84.90,796.40 L85.69,796.40 L85.69,796.40 L86.49,796.40 L86.49,796.39 L87.28,796.39 L87.28,796.39 L88.07,796.39 L88.07,796.39 L88.86,796.39 L88.86,796.39 L89.66,796.39 L89.66,796.39 L90.45,796.39 L90.45,796.39 L91.24,796.39 L91.24,796.39 L92.03,796.39 L92.03,796.39 L92.83,796.39 L92.83,796.38 L93.62,796.38 L93.62,796.38 L94.41,796.38 L94.41,796.38 L95.20,796.38 L95.20,796.38 L96.00,796.38 L96.00,796.37 L96.79,796.37 L96.79,796.37 L97.58,796.37 L97.58,796.37 L98.37,796.37 L98.37,796.36 L99.17,796.36 L99.17,796.36 L99.96,796.36 L99.96,796.35 L100.75,796.35 L100.75,796.35 L101.54,796.35 L101.54,796.34 L102.34,796.34 L102.34,796.33 L103.13,796.33 L103.13,796.33 L103.92,796.33 L103.92,796.32 L104.71,796.32 L104.71,796.31 L105.50,796.31 L105.50,796.29 L106.30,796.29 L106.30,796.28 L107.09,796.28 L107.09,796.26 L107.88,796.26 L107.88,796.26 L108.67,796.26 L108.67,796.23 L109.47,796.23 L109.47,796.22 L110.26,796.22 L110.26,796.20 L111.05,796.20 L111.05,796.18 L111.84,796.18 L111.84,796.15 L112.64,796.15 L112.64,796.13 L113.43,796.13 L113.43,796.09 L114.22,796.09 L114.22,796.05 L115.01,796.05 L115.01,796.02 L115.81,796.02 L115.81,795.98 L116.60,795.98 L116.60,795.95 L117.39,795.95 L117.39,795.90 L118.18,795.90 L118.18,795.83 L118.98,795.83 L118.98,795.80 L119.77,795.80 L119.77,795.72 L120.56,795.72 L120.56,795.66 L121.35,795.66 L121.35,795.61 L122.15,795.61 L122.15,795.51 L122.94,795.51 L122.94,795.42 L123.73,795.42 L123.73,795.33 L124.52,795.33 L124.52,795.29 L125.32,795.29 L125.32,795.13 L126.11,795.13 L126.11,795.06 L126.90,795.06 L126.90,794.93 L127.69,794.93 L127.69,794.80 L128.49,794.80 L128.49,794.72 L129.28,794.72 L129.28,794.56 L130.07,794.56 L130.07,794.42 L130.86,794.42 L130.86,794.15 L131.66,794.15 L131.66,794.02 L132.45,794.02 L132.45,793.86 L133.24,793.86 L133.24,793.61 L134.03,793.61 L134.03,793.45 L134.83,793.45 L134.83,793.23 L135.62,793.23 L135.62,792.95 L136.41,792.95 L136.41,792.73 L137.20,792.73 L137.20,792.51 L137.99,792.51 L137.99,792.13 L138.79,792.13 L138.79,791.89 L139.58,791.89 L139.58,791.51 L140.37,791.51 L140.37,791.26 L141.16,791.26 L141.16,790.81 L141.96,790.81 L141.96,790.44 L142.75,790.44 L142.75,790.23 L143.54,790.23 L143.54,789.66 L144.33,789.66 L144.33,789.35 L145.13,789.35 L145.13,788.71 L145.92,788.71 L145.92,788.49 L146.71,788.49 L146.71,787.80 L147.50,787.80 L147.50,787.48 L148.30,787.48 L148.30,786.76 L149.09,786.76 L149.09,786.17 L149.88,786.17 L149.88,785.73 L150.67,785.73 L150.67,785.20 L151.47,785.20 L151.47,784.57 L152.26,784.57 L152.26,784.25 L153.05,784.25 L153.05,783.67 L153.84,783.67 L153.84,782.94 L154.64,782.94 L154.64,782.15 L155.43,782.15 L155.43,780.78 L156.22,780.78 L156.22,779.94 L157.01,779.94 L157.01,779.07 L157.81,779.07 L157.81,778.41 L158.60,778.41 L158.60,778.06 L159.39,778.06 L159.39,776.49 L160.18,776.49 L160.18,775.91 L160.98,775.91 L160.98,773.68 L161.77,773.68 L161.77,773.27 L162.56,773.27 L162.56,771.22 L163.35,771.22 L163.35,770.80 L164.15,770.80 L164.15,768.61 L164.94,768.61 L164.94,767.39 L165.73,767.39 L165.73,765.70 L166.52,765.70 L166.52,763.85 L167.32,763.85 L167.32,761.77 L168.11,761.77 L168.11,759.93 L168.90,759.93 L168.90,758.38 L169.69,758.38 L169.69,754.69 L170.49,754.69 L170.49,752.90 L171.28,752.90 L171.28,750.07 L172.07,750.07 L172.07,748.91 L172.86,748.91 L172.86,744.46 L173.65,744.46 L173.65,742.43 L174.45,742.43 L174.45,738.94 L175.24,738.94 L175.24,737.68 L176.03,737.68 L176.03,733.67 L176.82,733.67 L176.82,732.18 L177.62,732.18 L177.62,726.44 L178.41,726.44 L178.41,724.64 L179.20,724.64 L179.20,721.25 L179.99,721.25 L179.99,721.28 L180.79,721.28 L180.79,720.01 L181.58,720.01 L181.58,716.04 L182.37,716.04 L182.37,714.07 L183.16,714.07 L183.16,710.10 L183.96,710.10 L183.96,707.32 L184.75,707.32 L184.75,707.98 L185.54,707.98 L185.54,705.63 L186.33,705.63 L186.33,706.32 L187.13,706.32 L187.13,704.95 L187.92,704.95 L187.92,706.52 L188.71,706.52 L188.71,703.76 L189.50,703.76 L189.50,708.53 L190.30,708.53 L190.30,707.30 L191.09,707.30 L191.09,707.96 L191.88,707.96 L191.88,713.99 L192.67,713.99 L192.67,716.67 L193.47,716.67 L193.47,717.74 L194.26,717.74 L194.26,720.44 L195.05,720.44 L195.05,724.49 L195.84,724.49 L195.84,730.37 L196.64,730.37 L196.64,735.79 L197.43,735.79 L197.43,737.37 L198.22,737.37 L198.22,743.31 L199.01,743.31 L199.01,746.64 L199.81,746.64 L199.81,751.84 L200.60,751.84 L200.60,755.56 L201.39,755.56 L201.39,759.32 L202.18,759.32 L202.18,763.52 L202.98,763.52 L202.98,767.57 L203.77,767.57 L203.77,770.00 L204.56,770.00 L204.56,772.85 L205.35,772.85 L205.35,776.75 L206.15,776.75 L206.15,779.02 L206.94,779.02 L206.94,781.04 L207.73,781.04 L207.73,783.27 L208.52,783.27 L208.52,785.11 L209.31,785.11 L209.31,786.85 L210.11,786.85 L210.11,788.39 L210.90,788.39 L210.90,789.91 L211.69,789.91 L211.69,796.40 L212.48,796.40 L212.48,796.40 L213.28,796.40 L213.28,796.40 L214.07,796.40 L214.07,796.40 L214.86,796.40 L214.86,796.40 Z" fill="url(#hstripe)" />
<path d="M38.63,796.40 L39.71,796.40 L40.79,796.40 L41.87,796.40 L42.95,796.40 L44.03,796.40 L45.11,796.40 L46.19,796.40 L47.27,796.40 L48.35,796.40 L49.43,796.40 L50.51,796.40 L51.59,796.40 L52.67,796.40 L53.75,796.40 L54.83,796.40 L55.91,796.40 L56.99,796.40 L58.07,796.40 L59.15,796.40 L60.23,796.40 L61.31,796.40 L62.39,796.40 L63.47,796.40 L64.55,796.40 L65.63,796.40 L66.71,796.40 L67.79,796.40 L68.87,796.40 L69.95,796.40 L71.03,796.40 L72.11,796.40 L73.19,796.40 L74.27,796.40 L75.35,796.40 L76.43,796.40 L77.51,796.40 L78.59,796.40 L79.67,796.40 L80.75,796.40 L81.83,796.40 L82.91,796.40 L83.99,796.40 L85.07,796.40 L86.15,796.40 L87.23,796.39 L88.31,796.39 L89.39,796.39 L90.47,796.39 L91.55,796.39 L92.63,796.39 L93.71,796.38 L94.79,796.38 L95.87,796.38 L96.96,796.37 L98.04,796.37 L99.12,796.36 L100.20,796.35 L101.28,796.35 L102.36,796.34 L103.44,796.33 L104.52,796.31 L105.60,796.30 L106.68,796.28 L107.76,796.26 L108.84,796.24 L109.92,796.22 L111.00,796.19 L112.08,796.16 L113.16,796.12 L114.24,796.08 L115.32,796.03 L116.40,795.98 L117.48,795.92 L118.56,795.85 L119.64,795.77 L120.72,795.69 L121.80,795.59 L122.88,795.49 L123.96,795.37 L125.04,795.24 L126.12,795.10 L127.20,794.94 L128.28,794.77 L129.36,794.58 L130.44,794.37 L131.52,794.14 L132.60,793.89 L133.68,793.62 L134.76,793.33 L135.84,793.01 L136.92,792.67 L138.00,792.30 L139.08,791.90 L140.16,791.47 L141.24,791.02 L142.32,790.53 L143.40,790.01 L144.48,789.45 L145.56,788.86 L146.64,788.24 L147.72,787.57 L148.80,786.87 L149.88,786.12 L150.96,785.33 L152.04,784.49 L153.12,783.60 L154.20,782.65 L155.28,781.63 L156.36,780.55 L157.44,779.38 L158.52,778.12 L159.60,776.75 L160.68,775.27 L161.76,773.66 L162.84,771.90 L163.92,769.99 L165.00,767.89 L166.08,765.61 L167.16,763.12 L168.24,760.42 L169.32,757.52 L170.40,754.40 L171.48,751.08 L172.56,747.57 L173.64,743.91 L174.72,740.12 L175.80,736.25 L176.88,732.35 L177.96,728.48 L179.04,724.70 L180.12,721.08 L181.20,717.71 L182.28,714.64 L183.36,711.95 L184.44,709.70 L185.52,707.95 L186.60,706.73 L187.68,706.09 L188.76,706.06 L189.84,707.00 L190.92,708.94 L192.00,711.82 L193.08,715.55 L194.16,720.00 L195.24,725.03 L196.32,730.50 L197.40,736.25 L198.48,742.12 L199.56,747.99 L200.64,753.72 L201.72,759.20 L202.80,764.35 L203.88,769.10 L204.96,773.42 L206.04,777.27 L207.12,780.67 L208.20,783.61 L209.28,786.11 L210.36,788.23 L211.44,789.98" fill="none" stroke="#6b4a4a" stroke-width="0.9" stroke-linejoin="round"/>
<path d="M38.63,796.40 L39.71,796.40 L40.79,796.40 L41.87,796.40 L42.95,796.40 L44.03,796.40 L45.11,796.40 L46.19,796.40 L47.27,796.40 L48.35,796.40 L49.43,796.40 L50.51,796.40 L51.59,796.40 L52.67,796.40 L53.75,796.40 L54.83,796.40 L55.91,796.40 L56.99,796.40 L58.07,796.40 L59.15,796.40 L60.23,796.40 L61.31,796.40 L62.39,796.40 L63.47,796.40 L64.55,796.40 L65.63,796.40 L66.71,796.40 L67.79,796.40 L68.87,796.40 L69.95,796.40 L71.03,796.40 L72.11,796.40 L73.19,796.40 L74.27,796.40 L75.35,796.40 L76.43,796.40 L77.51,796.40 L78.59,796.39 L79.67,796.39 L80.75,796.39 L81.83,796.39 L82.91,796.39 L83.99,796.39 L85.07,796.38 L86.15,796.38 L87.23,796.38 L88.31,796.37 L89.39,796.37 L90.47,796.36 L91.55,796.36 L92.63,796.35 L93.71,796.34 L94.79,796.33 L95.87,796.32 L96.96,796.31 L98.04,796.30 L99.12,796.28 L100.20,796.26 L101.28,796.24 L102.36,796.22 L103.44,796.19 L104.52,796.16 L105.60,796.13 L106.68,796.09 L107.76,796.05 L108.84,796.00 L109.92,795.95 L111.00,795.89 L112.08,795.82 L113.16,795.74 L114.24,795.66 L115.32,795.57 L116.40,795.46 L117.48,795.35 L118.56,795.23 L119.64,795.09 L120.72,794.94 L121.80,794.77 L122.88,794.59 L123.96,794.39 L125.04,794.17 L126.12,793.93 L127.20,793.68 L128.28,793.40 L129.36,793.10 L130.44,792.77 L131.52,792.42 L132.60,792.04 L133.68,791.64 L134.76,791.20 L135.84,790.74 L136.92,790.24 L138.00,789.72 L139.08,789.16 L140.16,788.57 L141.24,787.94 L142.32,787.28 L143.40,786.58 L144.48,785.85 L145.56,785.08 L146.64,784.28 L147.72,783.43 L148.80,782.56 L149.88,781.64 L150.96,780.68 L152.04,779.69 L153.12,778.65 L154.20,777.57 L155.28,776.44 L156.36,775.25 L157.44,773.99 L158.52,772.66 L159.60,771.23 L160.68,769.70 L161.76,768.04 L162.84,766.22 L163.92,764.22 L165.00,762.01 L166.08,759.54 L167.16,756.79 L168.24,753.72 L169.32,750.30 L170.40,746.50 L171.48,742.31 L172.56,737.70 L173.64,732.70 L174.72,727.33 L175.80,721.62 L176.88,715.64 L177.96,709.46 L179.04,703.21 L180.12,696.98 L181.20,690.93 L182.28,685.18 L183.36,679.90 L184.44,675.23 L185.52,671.30 L186.60,668.23 L187.68,666.12 L188.76,665.03 L189.84,665.05 L190.92,666.51 L192.00,669.43 L193.08,673.72 L194.16,679.22 L195.24,685.75 L196.32,693.13 L197.40,701.12 L198.48,709.50 L199.56,718.05 L200.64,726.57 L201.72,734.88 L202.80,742.83 L203.88,750.28 L204.96,757.15 L206.04,763.38 L207.12,768.95 L208.20,773.83 L209.28,778.06 L210.36,781.67 L211.44,784.71" fill="none" stroke="#3d7ba3" stroke-width="1.3" stroke-linejoin="round"/>
</g>
<rect x="32.60" y="658.40" width="186.20" height="138.00" fill="none" stroke="#a9a9a9" stroke-width="0.9"/>
<line x1="30.60" y1="796.40" x2="32.60" y2="796.40" stroke="#888" stroke-width="0.6"/>
<text x="29.40" y="798.30" font-family="'DejaVu Sans', sans-serif" font-size="5.4" font-weight="normal" font-style="normal" text-anchor="end" fill="#111" stroke="#111" stroke-width="0.11" >0.000</text>
<line x1="30.60" y1="769.00" x2="32.60" y2="769.00" stroke="#888" stroke-width="0.6"/>
<text x="29.40" y="770.90" font-family="'DejaVu Sans', sans-serif" font-size="5.4" font-weight="normal" font-style="normal" text-anchor="end" fill="#111" stroke="#111" stroke-width="0.11" >0.005</text>
<line x1="30.60" y1="741.60" x2="32.60" y2="741.60" stroke="#888" stroke-width="0.6"/>
<text x="29.40" y="743.50" font-family="'DejaVu Sans', sans-serif" font-size="5.4" font-weight="normal" font-style="normal" text-anchor="end" fill="#111" stroke="#111" stroke-width="0.11" >0.010</text>
<line x1="30.60" y1="714.20" x2="32.60" y2="714.20" stroke="#888" stroke-width="0.6"/>
<text x="29.40" y="716.10" font-family="'DejaVu Sans', sans-serif" font-size="5.4" font-weight="normal" font-style="normal" text-anchor="end" fill="#111" stroke="#111" stroke-width="0.11" >0.015</text>
<line x1="30.60" y1="686.80" x2="32.60" y2="686.80" stroke="#888" stroke-width="0.6"/>
<text x="29.40" y="688.70" font-family="'DejaVu Sans', sans-serif" font-size="5.4" font-weight="normal" font-style="normal" text-anchor="end" fill="#111" stroke="#111" stroke-width="0.11" >0.020</text>
<line x1="30.60" y1="659.40" x2="32.60" y2="659.40" stroke="#888" stroke-width="0.6"/>
<text x="29.40" y="661.30" font-family="'DejaVu Sans', sans-serif" font-size="5.4" font-weight="normal" font-style="normal" text-anchor="end" fill="#111" stroke="#111" stroke-width="0.11" >0.025</text>
<line x1="81.80" y1="796.40" x2="81.80" y2="798.40" stroke="#888" stroke-width="0.6"/>
<text x="81.80" y="804.70" font-family="'DejaVu Sans', sans-serif" font-size="5.4" font-weight="normal" font-style="normal" text-anchor="middle" fill="#111" stroke="#111" stroke-width="0.11" >0.1kb</text>
<line x1="122.00" y1="796.40" x2="122.00" y2="798.40" stroke="#888" stroke-width="0.6"/>
<text x="122.00" y="804.70" font-family="'DejaVu Sans', sans-serif" font-size="5.4" font-weight="normal" font-style="normal" text-anchor="middle" fill="#111" stroke="#111" stroke-width="0.11" >10kb</text>
<line x1="162.20" y1="796.40" x2="162.20" y2="798.40" stroke="#888" stroke-width="0.6"/>
<text x="162.20" y="804.70" font-family="'DejaVu Sans', sans-serif" font-size="5.4" font-weight="normal" font-style="normal" text-anchor="middle" fill="#111" stroke="#111" stroke-width="0.11" >1Mb</text>
<line x1="202.40" y1="796.40" x2="202.40" y2="798.40" stroke="#888" stroke-width="0.6"/>
<text x="202.40" y="804.70" font-family="'DejaVu Sans', sans-serif" font-size="5.4" font-weight="normal" font-style="normal" text-anchor="middle" fill="#111" stroke="#111" stroke-width="0.11" >100Mb</text>
<text x="125.70" y="811.00" font-family="'DejaVu Sans', sans-serif" font-size="5.3" font-weight="normal" font-style="normal" text-anchor="middle" fill="#111" stroke="#111" stroke-width="0.11" >Distance to nearest SV breakpoint (log10(bp))</text>
<text x="11.60" y="728.40" font-family="'DejaVu Sans', sans-serif" font-size="5.3" font-weight="normal" font-style="normal" text-anchor="middle" fill="#111" stroke="#111" stroke-width="0.11" transform="rotate(-90 11.60 728.40)" >Density</text>
<rect x="35.20" y="661.20" width="56.5" height="17" fill="#fff" fill-opacity="0.85" stroke="#e0e0e0" stroke-width="0.6" rx="1"/>
<rect x="37.50" y="663.30" width="10.50" height="3.30" fill="#7a1414" />
<rect x="37.50" y="671.00" width="10.50" height="3.30" fill="#6fa4a9" />
<text x="52.20" y="667.00" font-family="'DejaVu Sans', sans-serif" font-size="5.2" font-weight="normal" font-style="normal" text-anchor="start" fill="#111" stroke="#111" stroke-width="0.10" >Non-clustered</text>
<text x="52.20" y="674.60" font-family="'DejaVu Sans', sans-serif" font-size="5.2" font-weight="normal" font-style="normal" text-anchor="start" fill="#111" stroke="#111" stroke-width="0.10" >DBS</text>
<g>
<path d="M251.60,796.10 L251.60,796.10 L252.39,796.10 L252.39,796.10 L253.18,796.10 L253.18,796.10 L253.97,796.10 L253.97,796.10 L254.76,796.10 L254.76,796.10 L255.55,796.10 L255.55,796.10 L256.33,796.10 L256.33,796.10 L257.12,796.10 L257.12,796.10 L257.91,796.10 L257.91,796.10 L258.70,796.10 L258.70,796.10 L259.49,796.10 L259.49,796.10 L260.28,796.10 L260.28,796.10 L261.07,796.10 L261.07,796.10 L261.86,796.10 L261.86,796.10 L262.65,796.10 L262.65,796.10 L263.44,796.10 L263.44,796.10 L264.23,796.10 L264.23,796.10 L265.01,796.10 L265.01,796.10 L265.80,796.10 L265.80,796.10 L266.59,796.10 L266.59,796.10 L267.38,796.10 L267.38,796.10 L268.17,796.10 L268.17,796.10 L268.96,796.10 L268.96,796.10 L269.75,796.10 L269.75,796.10 L270.54,796.10 L270.54,796.10 L271.33,796.10 L271.33,796.10 L272.12,796.10 L272.12,796.10 L272.91,796.10 L272.91,796.10 L273.69,796.10 L273.69,796.10 L274.48,796.10 L274.48,796.10 L275.27,796.10 L275.27,796.10 L276.06,796.10 L276.06,796.10 L276.85,796.10 L276.85,796.10 L277.64,796.10 L277.64,796.10 L278.43,796.10 L278.43,796.10 L279.22,796.10 L279.22,796.10 L280.01,796.10 L280.01,796.10 L280.80,796.10 L280.80,796.10 L281.59,796.10 L281.59,796.10 L282.37,796.10 L282.37,796.10 L283.16,796.10 L283.16,796.10 L283.95,796.10 L283.95,796.10 L284.74,796.10 L284.74,796.10 L285.53,796.10 L285.53,796.10 L286.32,796.10 L286.32,796.10 L287.11,796.10 L287.11,796.10 L287.90,796.10 L287.90,796.10 L288.69,796.10 L288.69,796.10 L289.48,796.10 L289.48,796.10 L290.27,796.10 L290.27,796.10 L291.05,796.10 L291.05,796.10 L291.84,796.10 L291.84,796.10 L292.63,796.10 L292.63,796.10 L293.42,796.10 L293.42,796.10 L294.21,796.10 L294.21,796.10 L295.00,796.10 L295.00,796.10 L295.79,796.10 L295.79,796.09 L296.58,796.09 L296.58,796.09 L297.37,796.09 L297.37,796.09 L298.16,796.09 L298.16,796.09 L298.95,796.09 L298.95,796.09 L299.74,796.09 L299.74,796.09 L300.52,796.09 L300.52,796.08 L301.31,796.08 L301.31,796.08 L302.10,796.08 L302.10,796.08 L302.89,796.08 L302.89,796.08 L303.68,796.08 L303.68,796.08 L304.47,796.08 L304.47,796.08 L305.26,796.08 L305.26,796.07 L306.05,796.07 L306.05,796.07 L306.84,796.07 L306.84,796.07 L307.63,796.07 L307.63,796.06 L308.42,796.06 L308.42,796.06 L309.20,796.06 L309.20,796.05 L309.99,796.05 L309.99,796.04 L310.78,796.04 L310.78,796.04 L311.57,796.04 L311.57,796.04 L312.36,796.04 L312.36,796.02 L313.15,796.02 L313.15,796.02 L313.94,796.02 L313.94,796.00 L314.73,796.00 L314.73,796.02 L315.52,796.02 L315.52,796.00 L316.31,796.00 L316.31,795.98 L317.10,795.98 L317.10,795.95 L317.88,795.95 L317.88,795.95 L318.67,795.95 L318.67,795.92 L319.46,795.92 L319.46,795.92 L320.25,795.92 L320.25,795.87 L321.04,795.87 L321.04,795.83 L321.83,795.83 L321.83,795.85 L322.62,795.85 L322.62,795.86 L323.41,795.86 L323.41,795.75 L324.20,795.75 L324.20,795.74 L324.99,795.74 L324.99,795.70 L325.78,795.70 L325.78,795.66 L326.56,795.66 L326.56,795.63 L327.35,795.63 L327.35,795.60 L328.14,795.60 L328.14,795.55 L328.93,795.55 L328.93,795.62 L329.72,795.62 L329.72,795.48 L330.51,795.48 L330.51,795.48 L331.30,795.48 L331.30,795.32 L332.09,795.32 L332.09,795.29 L332.88,795.29 L332.88,795.35 L333.67,795.35 L333.67,795.20 L334.46,795.20 L334.46,795.16 L335.24,795.16 L335.24,794.98 L336.03,794.98 L336.03,794.82 L336.82,794.82 L336.82,794.89 L337.61,794.89 L337.61,794.91 L338.40,794.91 L338.40,794.66 L339.19,794.66 L339.19,794.64 L339.98,794.64 L339.98,794.36 L340.77,794.36 L340.77,794.06 L341.56,794.06 L341.56,793.95 L342.35,793.95 L342.35,793.76 L343.14,793.76 L343.14,793.38 L343.92,793.38 L343.92,793.19 L344.71,793.19 L344.71,793.41 L345.50,793.41 L345.50,792.98 L346.29,792.98 L346.29,792.35 L347.08,792.35 L347.08,792.51 L347.87,792.51 L347.87,791.89 L348.66,791.89 L348.66,792.69 L349.45,792.69 L349.45,791.71 L350.24,791.71 L350.24,791.39 L351.03,791.39 L351.03,791.51 L351.82,791.51 L351.82,791.48 L352.60,791.48 L352.60,789.77 L353.39,789.77 L353.39,789.40 L354.18,789.40 L354.18,789.77 L354.97,789.77 L354.97,788.51 L355.76,788.51 L355.76,789.42 L356.55,789.42 L356.55,787.58 L357.34,787.58 L357.34,788.97 L358.13,788.97 L358.13,789.03 L358.92,789.03 L358.92,787.67 L359.71,787.67 L359.71,786.13 L360.50,786.13 L360.50,788.16 L361.28,788.16 L361.28,786.82 L362.07,786.82 L362.07,784.45 L362.86,784.45 L362.86,785.85 L363.65,785.85 L363.65,782.37 L364.44,782.37 L364.44,783.32 L365.23,783.32 L365.23,782.53 L366.02,782.53 L366.02,781.40 L366.81,781.40 L366.81,780.61 L367.60,780.61 L367.60,781.05 L368.39,781.05 L368.39,781.64 L369.18,781.64 L369.18,780.01 L369.96,780.01 L369.96,777.59 L370.75,777.59 L370.75,781.16 L371.54,781.16 L371.54,777.74 L372.33,777.74 L372.33,773.96 L373.12,773.96 L373.12,779.18 L373.91,779.18 L373.91,775.33 L374.70,775.33 L374.70,772.19 L375.49,772.19 L375.49,772.93 L376.28,772.93 L376.28,772.67 L377.07,772.67 L377.07,767.40 L377.86,767.40 L377.86,771.23 L378.65,771.23 L378.65,772.30 L379.43,772.30 L379.43,764.65 L380.22,764.65 L380.22,767.50 L381.01,767.50 L381.01,758.96 L381.80,758.96 L381.80,762.22 L382.59,762.22 L382.59,760.21 L383.38,760.21 L383.38,762.88 L384.17,762.88 L384.17,751.93 L384.96,751.93 L384.96,758.10 L385.75,758.10 L385.75,747.34 L386.54,747.34 L386.54,757.20 L387.33,757.20 L387.33,738.69 L388.11,738.69 L388.11,740.61 L388.90,740.61 L388.90,734.95 L389.69,734.95 L389.69,735.66 L390.48,735.66 L390.48,731.09 L391.27,731.09 L391.27,737.12 L392.06,737.12 L392.06,737.53 L392.85,737.53 L392.85,728.24 L393.64,728.24 L393.64,719.75 L394.43,719.75 L394.43,730.13 L395.22,730.13 L395.22,728.35 L396.01,728.35 L396.01,711.06 L396.79,711.06 L396.79,698.77 L397.58,698.77 L397.58,709.30 L398.37,709.30 L398.37,701.13 L399.16,701.13 L399.16,687.20 L399.95,687.20 L399.95,714.31 L400.74,714.31 L400.74,709.15 L401.53,709.15 L401.53,694.92 L402.32,694.92 L402.32,691.52 L403.11,691.52 L403.11,700.79 L403.90,700.79 L403.90,700.22 L404.69,700.22 L404.69,689.93 L405.47,689.93 L405.47,700.11 L406.26,700.11 L406.26,681.69 L407.05,681.69 L407.05,683.52 L407.84,683.52 L407.84,707.91 L408.63,707.91 L408.63,709.65 L409.42,709.65 L409.42,694.91 L410.21,694.91 L410.21,689.15 L411.00,689.15 L411.00,711.20 L411.79,711.20 L411.79,724.20 L412.58,724.20 L412.58,727.50 L413.37,727.50 L413.37,707.78 L414.15,707.78 L414.15,731.95 L414.94,731.95 L414.94,719.51 L415.73,719.51 L415.73,728.95 L416.52,728.95 L416.52,738.62 L417.31,738.62 L417.31,750.83 L418.10,750.83 L418.10,749.41 L418.89,749.41 L418.89,757.59 L419.68,757.59 L419.68,756.38 L420.47,756.38 L420.47,761.39 L421.26,761.39 L421.26,765.27 L422.05,765.27 L422.05,771.47 L422.83,771.47 L422.83,773.78 L423.62,773.78 L423.62,780.94 L424.41,780.94 L424.41,782.65 L425.20,782.65 L425.20,781.68 L425.99,781.68 L425.99,784.47 L426.78,784.47 L426.78,787.31 L427.57,787.31 L427.57,788.44 L428.36,788.44 L428.36,790.13 L429.15,790.13 L429.15,791.76 L429.94,791.76 L429.94,796.10 L430.73,796.10 L430.73,796.10 L431.51,796.10 L431.51,796.10 L432.30,796.10 L432.30,796.10 L433.09,796.10 L433.09,796.10 Z" fill="#82b4ba" />
<path d="M251.60,796.10 L251.60,796.10 L252.39,796.10 L252.39,796.10 L253.18,796.10 L253.18,796.10 L253.97,796.10 L253.97,796.10 L254.76,796.10 L254.76,796.10 L255.55,796.10 L255.55,796.10 L256.33,796.10 L256.33,796.10 L257.12,796.10 L257.12,796.10 L257.91,796.10 L257.91,796.10 L258.70,796.10 L258.70,796.10 L259.49,796.10 L259.49,796.10 L260.28,796.10 L260.28,796.10 L261.07,796.10 L261.07,796.10 L261.86,796.10 L261.86,796.10 L262.65,796.10 L262.65,796.10 L263.44,796.10 L263.44,796.10 L264.23,796.10 L264.23,796.10 L265.01,796.10 L265.01,796.10 L265.80,796.10 L265.80,796.10 L266.59,796.10 L266.59,796.10 L267.38,796.10 L267.38,796.10 L268.17,796.10 L268.17,796.10 L268.96,796.10 L268.96,796.10 L269.75,796.10 L269.75,796.10 L270.54,796.10 L270.54,796.10 L271.33,796.10 L271.33,796.10 L272.12,796.10 L272.12,796.10 L272.91,796.10 L272.91,796.10 L273.69,796.10 L273.69,796.10 L274.48,796.10 L274.48,796.10 L275.27,796.10 L275.27,796.10 L276.06,796.10 L276.06,796.10 L276.85,796.10 L276.85,796.10 L277.64,796.10 L277.64,796.10 L278.43,796.10 L278.43,796.10 L279.22,796.10 L279.22,796.10 L280.01,796.10 L280.01,796.10 L280.80,796.10 L280.80,796.10 L281.59,796.10 L281.59,796.10 L282.37,796.10 L282.37,796.10 L283.16,796.10 L283.16,796.10 L283.95,796.10 L283.95,796.10 L284.74,796.10 L284.74,796.10 L285.53,796.10 L285.53,796.10 L286.32,796.10 L286.32,796.10 L287.11,796.10 L287.11,796.10 L287.90,796.10 L287.90,796.10 L288.69,796.10 L288.69,796.10 L289.48,796.10 L289.48,796.10 L290.27,796.10 L290.27,796.10 L291.05,796.10 L291.05,796.10 L291.84,796.10 L291.84,796.10 L292.63,796.10 L292.63,796.10 L293.42,796.10 L293.42,796.10 L294.21,796.10 L294.21,796.10 L295.00,796.10 L295.00,796.10 L295.79,796.10 L295.79,796.10 L296.58,796.10 L296.58,796.10 L297.37,796.10 L297.37,796.10 L298.16,796.10 L298.16,796.10 L298.95,796.10 L298.95,796.10 L299.74,796.10 L299.74,796.10 L300.52,796.10 L300.52,796.10 L301.31,796.10 L301.31,796.10 L302.10,796.10 L302.10,796.10 L302.89,796.10 L302.89,796.10 L303.68,796.10 L303.68,796.10 L304.47,796.10 L304.47,796.09 L305.26,796.09 L305.26,796.09 L306.05,796.09 L306.05,796.09 L306.84,796.09 L306.84,796.09 L307.63,796.09 L307.63,796.09 L308.42,796.09 L308.42,796.09 L309.20,796.09 L309.20,796.09 L309.99,796.09 L309.99,796.09 L310.78,796.09 L310.78,796.08 L311.57,796.08 L311.57,796.08 L312.36,796.08 L312.36,796.08 L313.15,796.08 L313.15,796.08 L313.94,796.08 L313.94,796.07 L314.73,796.07 L314.73,796.07 L315.52,796.07 L315.52,796.06 L316.31,796.06 L316.31,796.06 L317.10,796.06 L317.10,796.05 L317.88,796.05 L317.88,796.05 L318.67,796.05 L318.67,796.04 L319.46,796.04 L319.46,796.04 L320.25,796.04 L320.25,796.03 L321.04,796.03 L321.04,796.02 L321.83,796.02 L321.83,796.01 L322.62,796.01 L322.62,796.00 L323.41,796.00 L323.41,795.99 L324.20,795.99 L324.20,795.97 L324.99,795.97 L324.99,795.96 L325.78,795.96 L325.78,795.94 L326.56,795.94 L326.56,795.93 L327.35,795.93 L327.35,795.90 L328.14,795.90 L328.14,795.88 L328.93,795.88 L328.93,795.87 L329.72,795.87 L329.72,795.83 L330.51,795.83 L330.51,795.80 L331.30,795.80 L331.30,795.78 L332.09,795.78 L332.09,795.75 L332.88,795.75 L332.88,795.71 L333.67,795.71 L333.67,795.67 L334.46,795.67 L334.46,795.63 L335.24,795.63 L335.24,795.57 L336.03,795.57 L336.03,795.51 L336.82,795.51 L336.82,795.44 L337.61,795.44 L337.61,795.40 L338.40,795.40 L338.40,795.33 L339.19,795.33 L339.19,795.24 L339.98,795.24 L339.98,795.20 L340.77,795.20 L340.77,795.12 L341.56,795.12 L341.56,795.01 L342.35,795.01 L342.35,794.87 L343.14,794.87 L343.14,794.80 L343.92,794.80 L343.92,794.67 L344.71,794.67 L344.71,794.59 L345.50,794.59 L345.50,794.41 L346.29,794.41 L346.29,794.23 L347.08,794.23 L347.08,794.14 L347.87,794.14 L347.87,794.03 L348.66,794.03 L348.66,793.78 L349.45,793.78 L349.45,793.66 L350.24,793.66 L350.24,793.35 L351.03,793.35 L351.03,793.21 L351.82,793.21 L351.82,793.02 L352.60,793.02 L352.60,792.77 L353.39,792.77 L353.39,792.40 L354.18,792.40 L354.18,792.28 L354.97,792.28 L354.97,791.95 L355.76,791.95 L355.76,791.70 L356.55,791.70 L356.55,791.35 L357.34,791.35 L357.34,791.02 L358.13,791.02 L358.13,790.63 L358.92,790.63 L358.92,790.38 L359.71,790.38 L359.71,789.81 L360.50,789.81 L360.50,789.52 L361.28,789.52 L361.28,788.94 L362.07,788.94 L362.07,788.79 L362.86,788.79 L362.86,788.39 L363.65,788.39 L363.65,787.85 L364.44,787.85 L364.44,787.27 L365.23,787.27 L365.23,786.68 L366.02,786.68 L366.02,786.42 L366.81,786.42 L366.81,785.75 L367.60,785.75 L367.60,785.15 L368.39,785.15 L368.39,784.40 L369.18,784.40 L369.18,783.88 L369.96,783.88 L369.96,783.04 L370.75,783.04 L370.75,782.61 L371.54,782.61 L371.54,781.31 L372.33,781.31 L372.33,780.86 L373.12,780.86 L373.12,779.83 L373.91,779.83 L373.91,779.17 L374.70,779.17 L374.70,778.21 L375.49,778.21 L375.49,776.94 L376.28,776.94 L376.28,776.53 L377.07,776.53 L377.07,775.72 L377.86,775.72 L377.86,773.79 L378.65,773.79 L378.65,772.56 L379.43,772.56 L379.43,771.85 L380.22,771.85 L380.22,769.97 L381.01,769.97 L381.01,769.54 L381.80,769.54 L381.80,767.33 L382.59,767.33 L382.59,766.08 L383.38,766.08 L383.38,763.86 L384.17,763.86 L384.17,763.04 L384.96,763.04 L384.96,759.50 L385.75,759.50 L385.75,757.72 L386.54,757.72 L386.54,755.33 L387.33,755.33 L387.33,752.26 L388.11,752.26 L388.11,752.29 L388.90,752.29 L388.90,749.30 L389.69,749.30 L389.69,744.45 L390.48,744.45 L390.48,744.20 L391.27,744.20 L391.27,738.76 L392.06,738.76 L392.06,736.83 L392.85,736.83 L392.85,735.48 L393.64,735.48 L393.64,732.96 L394.43,732.96 L394.43,728.63 L395.22,728.63 L395.22,726.98 L396.01,726.98 L396.01,721.01 L396.79,721.01 L396.79,720.83 L397.58,720.83 L397.58,717.19 L398.37,717.19 L398.37,713.63 L399.16,713.63 L399.16,711.65 L399.95,711.65 L399.95,707.59 L400.74,707.59 L400.74,705.74 L401.53,705.74 L401.53,702.26 L402.32,702.26 L402.32,702.17 L403.11,702.17 L403.11,701.17 L403.90,701.17 L403.90,698.94 L404.69,698.94 L404.69,701.74 L405.47,701.74 L405.47,699.93 L406.26,699.93 L406.26,700.96 L407.05,700.96 L407.05,698.61 L407.84,698.61 L407.84,699.56 L408.63,699.56 L408.63,704.21 L409.42,704.21 L409.42,705.65 L410.21,705.65 L410.21,706.93 L411.00,706.93 L411.00,708.36 L411.79,708.36 L411.79,712.25 L412.58,712.25 L412.58,718.84 L413.37,718.84 L413.37,720.48 L414.15,720.48 L414.15,727.24 L414.94,727.24 L414.94,729.44 L415.73,729.44 L415.73,736.00 L416.52,736.00 L416.52,739.77 L417.31,739.77 L417.31,744.38 L418.10,744.38 L418.10,748.80 L418.89,748.80 L418.89,753.70 L419.68,753.70 L419.68,756.63 L420.47,756.63 L420.47,761.14 L421.26,761.14 L421.26,764.77 L422.05,764.77 L422.05,768.25 L422.83,768.25 L422.83,771.83 L423.62,771.83 L423.62,775.32 L424.41,775.32 L424.41,778.02 L425.20,778.02 L425.20,780.04 L425.99,780.04 L425.99,782.69 L426.78,782.69 L426.78,784.02 L427.57,784.02 L427.57,786.12 L428.36,786.12 L428.36,787.85 L429.15,787.85 L429.15,789.16 L429.94,789.16 L429.94,796.10 L430.73,796.10 L430.73,796.10 L431.51,796.10 L431.51,796.10 L432.30,796.10 L432.30,796.10 L433.09,796.10 L433.09,796.10 Z" fill="url(#hstripe)" />
<path d="M257.64,796.10 L258.72,796.10 L259.80,796.10 L260.87,796.10 L261.95,796.10 L263.02,796.10 L264.10,796.10 L265.17,796.10 L266.25,796.10 L267.32,796.10 L268.40,796.10 L269.47,796.10 L270.55,796.10 L271.62,796.10 L272.70,796.10 L273.77,796.10 L274.85,796.10 L275.92,796.10 L277.00,796.10 L278.07,796.10 L279.15,796.10 L280.22,796.10 L281.30,796.10 L282.37,796.10 L283.45,796.10 L284.52,796.10 L285.60,796.10 L286.67,796.10 L287.75,796.10 L288.82,796.10 L289.90,796.10 L290.97,796.10 L292.05,796.10 L293.12,796.10 L294.20,796.10 L295.27,796.10 L296.35,796.10 L297.43,796.10 L298.50,796.10 L299.58,796.10 L300.65,796.10 L301.73,796.10 L302.80,796.10 L303.88,796.10 L304.95,796.09 L306.03,796.09 L307.10,796.09 L308.18,796.09 L309.25,796.09 L310.33,796.09 L311.40,796.08 L312.48,796.08 L313.55,796.08 L314.63,796.07 L315.70,796.07 L316.78,796.06 L317.85,796.05 L318.93,796.04 L320.00,796.04 L321.08,796.02 L322.15,796.01 L323.23,796.00 L324.30,795.98 L325.38,795.96 L326.45,795.94 L327.53,795.91 L328.60,795.88 L329.68,795.85 L330.75,795.81 L331.83,795.77 L332.90,795.72 L333.98,795.67 L335.06,795.61 L336.13,795.54 L337.21,795.46 L338.28,795.37 L339.36,795.28 L340.43,795.17 L341.51,795.05 L342.58,794.92 L343.66,794.77 L344.73,794.61 L345.81,794.44 L346.88,794.24 L347.96,794.03 L349.03,793.80 L350.11,793.54 L351.18,793.26 L352.26,792.96 L353.33,792.64 L354.41,792.29 L355.48,791.91 L356.56,791.50 L357.63,791.06 L358.71,790.59 L359.78,790.09 L360.86,789.55 L361.93,788.98 L363.01,788.37 L364.08,787.73 L365.16,787.04 L366.23,786.32 L367.31,785.55 L368.38,784.74 L369.46,783.87 L370.53,782.96 L371.61,781.98 L372.69,780.94 L373.76,779.84 L374.84,778.65 L375.91,777.37 L376.99,775.99 L378.06,774.50 L379.14,772.87 L380.21,771.11 L381.29,769.18 L382.36,767.08 L383.44,764.79 L384.51,762.29 L385.59,759.58 L386.66,756.64 L387.74,753.48 L388.81,750.10 L389.89,746.51 L390.96,742.73 L392.04,738.79 L393.11,734.72 L394.19,730.59 L395.26,726.43 L396.34,722.32 L397.41,718.33 L398.49,714.52 L399.56,710.98 L400.64,707.79 L401.71,705.00 L402.79,702.70 L403.86,700.93 L404.94,699.73 L406.01,699.14 L407.09,699.25 L408.16,700.40 L409.24,702.61 L410.31,705.81 L411.39,709.88 L412.47,714.70 L413.54,720.12 L414.62,725.99 L415.69,732.13 L416.77,738.40 L417.84,744.64 L418.92,750.73 L419.99,756.55 L421.07,762.01 L422.14,767.05 L423.22,771.63 L424.29,775.72 L425.37,779.31 L426.44,782.43 L427.52,785.10 L428.59,787.34 L429.67,789.21" fill="none" stroke="#6b4a4a" stroke-width="0.9" stroke-linejoin="round"/>
<path d="M257.64,796.10 L258.72,796.10 L259.80,796.10 L260.87,796.10 L261.95,796.10 L263.02,796.10 L264.10,796.10 L265.17,796.10 L266.25,796.10 L267.32,796.10 L268.40,796.10 L269.47,796.10 L270.55,796.10 L271.62,796.10 L272.70,796.10 L273.77,796.10 L274.85,796.10 L275.92,796.10 L277.00,796.10 L278.07,796.10 L279.15,796.10 L280.22,796.10 L281.30,796.10 L282.37,796.10 L283.45,796.10 L284.52,796.10 L285.60,796.10 L286.67,796.10 L287.75,796.10 L288.82,796.10 L289.90,796.10 L290.97,796.10 L292.05,796.10 L293.12,796.10 L294.20,796.10 L295.27,796.09 L296.35,796.09 L297.43,796.09 L298.50,796.09 L299.58,796.09 L300.65,796.09 L301.73,796.08 L302.80,796.08 L303.88,796.08 L304.95,796.08 L306.03,796.07 L307.10,796.07 L308.18,796.06 L309.25,796.05 L310.33,796.05 L311.40,796.04 L312.48,796.03 L313.55,796.02 L314.63,796.01 L315.70,795.99 L316.78,795.97 L317.85,795.96 L318.93,795.94 L320.00,795.91 L321.08,795.88 L322.15,795.85 L323.23,795.82 L324.30,795.78 L325.38,795.74 L326.45,795.69 L327.53,795.64 L328.60,795.58 L329.68,795.51 L330.75,795.44 L331.83,795.35 L332.90,795.26 L333.98,795.16 L335.06,795.05 L336.13,794.93 L337.21,794.80 L338.28,794.65 L339.36,794.49 L340.43,794.32 L341.51,794.13 L342.58,793.92 L343.66,793.70 L344.73,793.45 L345.81,793.19 L346.88,792.91 L347.96,792.60 L349.03,792.27 L350.11,791.92 L351.18,791.55 L352.26,791.14 L353.33,790.71 L354.41,790.26 L355.48,789.78 L356.56,789.26 L357.63,788.72 L358.71,788.15 L359.78,787.55 L360.86,786.92 L361.93,786.26 L363.01,785.57 L364.08,784.85 L365.16,784.10 L366.23,783.31 L367.31,782.50 L368.38,781.65 L369.46,780.77 L370.53,779.85 L371.61,778.89 L372.69,777.88 L373.76,776.82 L374.84,775.69 L375.91,774.49 L376.99,773.19 L378.06,771.78 L379.14,770.22 L380.21,768.48 L381.29,766.54 L382.36,764.35 L383.44,761.87 L384.51,759.05 L385.59,755.85 L386.66,752.24 L387.74,748.18 L388.81,743.64 L389.89,738.63 L390.96,733.16 L392.04,727.25 L393.11,720.96 L394.19,714.39 L395.26,707.63 L396.34,700.82 L397.41,694.12 L398.49,687.69 L399.56,681.70 L400.64,676.33 L401.71,671.75 L402.79,668.11 L403.86,665.53 L404.94,664.09 L406.01,663.87 L407.09,665.07 L408.16,667.73 L409.24,671.77 L410.31,677.04 L411.39,683.37 L412.47,690.58 L413.54,698.45 L414.62,706.75 L415.69,715.27 L416.77,723.81 L417.84,732.18 L418.92,740.22 L419.99,747.80 L421.07,754.82 L422.14,761.23 L423.22,766.97 L424.29,772.04 L425.37,776.46 L426.44,780.24 L427.52,783.44 L428.59,786.11 L429.67,788.31" fill="none" stroke="#3d7ba3" stroke-width="1.3" stroke-linejoin="round"/>
</g>
<rect x="251.60" y="657.70" width="185.90" height="138.40" fill="none" stroke="#a9a9a9" stroke-width="0.9"/>
<line x1="249.60" y1="796.10" x2="251.60" y2="796.10" stroke="#888" stroke-width="0.6"/>
<text x="248.40" y="798.00" font-family="'DejaVu Sans', sans-serif" font-size="5.4" font-weight="normal" font-style="normal" text-anchor="end" fill="#111" stroke="#111" stroke-width="0.11" >0.000</text>
<line x1="249.60" y1="766.70" x2="251.60" y2="766.70" stroke="#888" stroke-width="0.6"/>
<text x="248.40" y="768.60" font-family="'DejaVu Sans', sans-serif" font-size="5.4" font-weight="normal" font-style="normal" text-anchor="end" fill="#111" stroke="#111" stroke-width="0.11" >0.005</text>
<line x1="249.60" y1="737.30" x2="251.60" y2="737.30" stroke="#888" stroke-width="0.6"/>
<text x="248.40" y="739.20" font-family="'DejaVu Sans', sans-serif" font-size="5.4" font-weight="normal" font-style="normal" text-anchor="end" fill="#111" stroke="#111" stroke-width="0.11" >0.010</text>
<line x1="249.60" y1="707.90" x2="251.60" y2="707.90" stroke="#888" stroke-width="0.6"/>
<text x="248.40" y="709.80" font-family="'DejaVu Sans', sans-serif" font-size="5.4" font-weight="normal" font-style="normal" text-anchor="end" fill="#111" stroke="#111" stroke-width="0.11" >0.015</text>
<line x1="249.60" y1="678.50" x2="251.60" y2="678.50" stroke="#888" stroke-width="0.6"/>
<text x="248.40" y="680.40" font-family="'DejaVu Sans', sans-serif" font-size="5.4" font-weight="normal" font-style="normal" text-anchor="end" fill="#111" stroke="#111" stroke-width="0.11" >0.020</text>
<line x1="299.70" y1="796.10" x2="299.70" y2="798.10" stroke="#888" stroke-width="0.6"/>
<text x="299.70" y="804.40" font-family="'DejaVu Sans', sans-serif" font-size="5.4" font-weight="normal" font-style="normal" text-anchor="middle" fill="#111" stroke="#111" stroke-width="0.11" >0.1kb</text>
<line x1="340.00" y1="796.10" x2="340.00" y2="798.10" stroke="#888" stroke-width="0.6"/>
<text x="340.00" y="804.40" font-family="'DejaVu Sans', sans-serif" font-size="5.4" font-weight="normal" font-style="normal" text-anchor="middle" fill="#111" stroke="#111" stroke-width="0.11" >10kb</text>
<line x1="380.30" y1="796.10" x2="380.30" y2="798.10" stroke="#888" stroke-width="0.6"/>
<text x="380.30" y="804.40" font-family="'DejaVu Sans', sans-serif" font-size="5.4" font-weight="normal" font-style="normal" text-anchor="middle" fill="#111" stroke="#111" stroke-width="0.11" >1Mb</text>
<line x1="420.60" y1="796.10" x2="420.60" y2="798.10" stroke="#888" stroke-width="0.6"/>
<text x="420.60" y="804.40" font-family="'DejaVu Sans', sans-serif" font-size="5.4" font-weight="normal" font-style="normal" text-anchor="middle" fill="#111" stroke="#111" stroke-width="0.11" >100Mb</text>
<text x="344.55" y="810.70" font-family="'DejaVu Sans', sans-serif" font-size="5.3" font-weight="normal" font-style="normal" text-anchor="middle" fill="#111" stroke="#111" stroke-width="0.11" >Distance to nearest SV breakpoint (log10(bp))</text>
<text x="230.60" y="727.90" font-family="'DejaVu Sans', sans-serif" font-size="5.3" font-weight="normal" font-style="normal" text-anchor="middle" fill="#111" stroke="#111" stroke-width="0.11" transform="rotate(-90 230.60 727.90)" >Density</text>
<rect x="254.20" y="660.50" width="56.5" height="17" fill="#fff" fill-opacity="0.85" stroke="#e0e0e0" stroke-width="0.6" rx="1"/>
<rect x="256.50" y="662.60" width="10.50" height="3.30" fill="#7a1414" />
<rect x="256.50" y="670.30" width="10.50" height="3.30" fill="#6fa4a9" />
<text x="271.20" y="666.30" font-family="'DejaVu Sans', sans-serif" font-size="5.2" font-weight="normal" font-style="normal" text-anchor="start" fill="#111" stroke="#111" stroke-width="0.10" >Non-clustered</text>
<text x="271.20" y="673.90" font-family="'DejaVu Sans', sans-serif" font-size="5.2" font-weight="normal" font-style="normal" text-anchor="start" fill="#111" stroke="#111" stroke-width="0.10" >MBS</text>
<g>
<path d="M32.60,958.00 L32.60,958.00 L33.39,958.00 L33.39,958.00 L34.18,958.00 L34.18,958.00 L34.98,958.00 L34.98,958.00 L35.77,958.00 L35.77,958.00 L36.56,958.00 L36.56,958.00 L37.35,958.00 L37.35,958.00 L38.15,958.00 L38.15,958.00 L38.94,958.00 L38.94,958.00 L39.73,958.00 L39.73,958.00 L40.52,958.00 L40.52,958.00 L41.32,958.00 L41.32,958.00 L42.11,958.00 L42.11,958.00 L42.90,958.00 L42.90,958.00 L43.69,958.00 L43.69,958.00 L44.49,958.00 L44.49,958.00 L45.28,958.00 L45.28,958.00 L46.07,958.00 L46.07,958.00 L46.86,958.00 L46.86,958.00 L47.66,958.00 L47.66,958.00 L48.45,958.00 L48.45,958.00 L49.24,958.00 L49.24,958.00 L50.03,958.00 L50.03,958.00 L50.83,958.00 L50.83,957.99 L51.62,957.99 L51.62,957.99 L52.41,957.99 L52.41,957.99 L53.20,957.99 L53.20,957.99 L54.00,957.99 L54.00,957.99 L54.79,957.99 L54.79,957.99 L55.58,957.99 L55.58,957.99 L56.37,957.99 L56.37,957.98 L57.17,957.98 L57.17,957.98 L57.96,957.98 L57.96,957.98 L58.75,957.98 L58.75,957.97 L59.54,957.97 L59.54,957.97 L60.34,957.97 L60.34,957.97 L61.13,957.97 L61.13,957.96 L61.92,957.96 L61.92,957.95 L62.71,957.95 L62.71,957.95 L63.51,957.95 L63.51,957.95 L64.30,957.95 L64.30,957.94 L65.09,957.94 L65.09,957.93 L65.88,957.93 L65.88,957.92 L66.68,957.92 L66.68,957.91 L67.47,957.91 L67.47,957.90 L68.26,957.90 L68.26,957.88 L69.05,957.88 L69.05,957.86 L69.84,957.86 L69.84,957.85 L70.64,957.85 L70.64,957.83 L71.43,957.83 L71.43,957.79 L72.22,957.79 L72.22,957.79 L73.01,957.79 L73.01,957.77 L73.81,957.77 L73.81,957.73 L74.60,957.73 L74.60,957.72 L75.39,957.72 L75.39,957.68 L76.18,957.68 L76.18,957.61 L76.98,957.61 L76.98,957.60 L77.77,957.60 L77.77,957.54 L78.56,957.54 L78.56,957.48 L79.35,957.48 L79.35,957.43 L80.15,957.43 L80.15,957.42 L80.94,957.42 L80.94,957.40 L81.73,957.40 L81.73,957.34 L82.52,957.34 L82.52,957.27 L83.32,957.27 L83.32,957.19 L84.11,957.19 L84.11,957.16 L84.90,957.16 L84.90,957.08 L85.69,957.08 L85.69,957.02 L86.49,957.02 L86.49,956.84 L87.28,956.84 L87.28,956.82 L88.07,956.82 L88.07,956.70 L88.86,956.70 L88.86,956.51 L89.66,956.51 L89.66,956.49 L90.45,956.49 L90.45,956.48 L91.24,956.48 L91.24,956.31 L92.03,956.31 L92.03,956.06 L92.83,956.06 L92.83,956.18 L93.62,956.18 L93.62,955.91 L94.41,955.91 L94.41,955.78 L95.20,955.78 L95.20,955.66 L96.00,955.66 L96.00,955.41 L96.79,955.41 L96.79,955.51 L97.58,955.51 L97.58,955.42 L98.37,955.42 L98.37,955.14 L99.17,955.14 L99.17,955.10 L99.96,955.10 L99.96,954.74 L100.75,954.74 L100.75,954.58 L101.54,954.58 L101.54,954.46 L102.34,954.46 L102.34,954.64 L103.13,954.64 L103.13,954.44 L103.92,954.44 L103.92,954.50 L104.71,954.50 L104.71,954.26 L105.50,954.26 L105.50,953.72 L106.30,953.72 L106.30,953.61 L107.09,953.61 L107.09,953.48 L107.88,953.48 L107.88,953.85 L108.67,953.85 L108.67,953.77 L109.47,953.77 L109.47,953.39 L110.26,953.39 L110.26,953.15 L111.05,953.15 L111.05,953.20 L111.84,953.20 L111.84,953.54 L112.64,953.54 L112.64,952.88 L113.43,952.88 L113.43,952.94 L114.22,952.94 L114.22,953.32 L115.01,953.32 L115.01,953.17 L115.81,953.17 L115.81,952.67 L116.60,952.67 L116.60,953.08 L117.39,953.08 L117.39,952.83 L118.18,952.83 L118.18,953.28 L118.98,953.28 L118.98,952.71 L119.77,952.71 L119.77,953.30 L120.56,953.30 L120.56,952.71 L121.35,952.71 L121.35,953.21 L122.15,953.21 L122.15,953.42 L122.94,953.42 L122.94,952.87 L123.73,952.87 L123.73,953.26 L124.52,953.26 L124.52,953.40 L125.32,953.40 L125.32,953.21 L126.11,953.21 L126.11,953.69 L126.90,953.69 L126.90,953.79 L127.69,953.79 L127.69,953.87 L128.49,953.87 L128.49,954.06 L129.28,954.06 L129.28,954.03 L130.07,954.03 L130.07,954.01 L130.86,954.01 L130.86,954.22 L131.66,954.22 L131.66,954.30 L132.45,954.30 L132.45,954.35 L133.24,954.35 L133.24,954.13 L134.03,954.13 L134.03,954.13 L134.83,954.13 L134.83,953.74 L135.62,953.74 L135.62,953.05 L136.41,953.05 L136.41,953.02 L137.20,953.02 L137.20,952.50 L137.99,952.50 L137.99,952.53 L138.79,952.53 L138.79,952.04 L139.58,952.04 L139.58,951.14 L140.37,951.14 L140.37,950.93 L141.16,950.93 L141.16,950.10 L141.96,950.10 L141.96,949.98 L142.75,949.98 L142.75,949.62 L143.54,949.62 L143.54,949.21 L144.33,949.21 L144.33,948.67 L145.13,948.67 L145.13,947.81 L145.92,947.81 L145.92,946.86 L146.71,946.86 L146.71,946.88 L147.50,946.88 L147.50,945.79 L148.30,945.79 L148.30,946.46 L149.09,946.46 L149.09,945.95 L149.88,945.95 L149.88,945.33 L150.67,945.33 L150.67,943.17 L151.47,943.17 L151.47,943.83 L152.26,943.83 L152.26,941.94 L153.05,941.94 L153.05,940.61 L153.84,940.61 L153.84,941.48 L154.64,941.48 L154.64,940.21 L155.43,940.21 L155.43,937.68 L156.22,937.68 L156.22,939.18 L157.01,939.18 L157.01,937.18 L157.81,937.18 L157.81,937.23 L158.60,937.23 L158.60,934.43 L159.39,934.43 L159.39,933.90 L160.18,933.90 L160.18,934.74 L160.98,934.74 L160.98,931.20 L161.77,931.20 L161.77,932.18 L162.56,932.18 L162.56,927.71 L163.35,927.71 L163.35,929.27 L164.15,929.27 L164.15,928.06 L164.94,928.06 L164.94,925.27 L165.73,925.27 L165.73,922.66 L166.52,922.66 L166.52,918.43 L167.32,918.43 L167.32,920.19 L168.11,920.19 L168.11,915.34 L168.90,915.34 L168.90,916.07 L169.69,916.07 L169.69,909.35 L170.49,909.35 L170.49,911.10 L171.28,911.10 L171.28,903.85 L172.07,903.85 L172.07,905.30 L172.86,905.30 L172.86,902.37 L173.65,902.37 L173.65,895.50 L174.45,895.50 L174.45,890.98 L175.24,890.98 L175.24,890.28 L176.03,890.28 L176.03,883.78 L176.82,883.78 L176.82,884.81 L177.62,884.81 L177.62,881.92 L178.41,881.92 L178.41,875.00 L179.20,875.00 L179.20,865.34 L179.99,865.34 L179.99,865.12 L180.79,865.12 L180.79,863.78 L181.58,863.78 L181.58,861.93 L182.37,861.93 L182.37,851.44 L183.16,851.44 L183.16,857.09 L183.96,857.09 L183.96,842.51 L184.75,842.51 L184.75,842.05 L185.54,842.05 L185.54,845.56 L186.33,845.56 L186.33,845.85 L187.13,845.85 L187.13,839.76 L187.92,839.76 L187.92,845.15 L188.71,845.15 L188.71,838.72 L189.50,838.72 L189.50,844.56 L190.30,844.56 L190.30,851.95 L191.09,851.95 L191.09,853.78 L191.88,853.78 L191.88,853.58 L192.67,853.58 L192.67,859.83 L193.47,859.83 L193.47,852.03 L194.26,852.03 L194.26,865.57 L195.05,865.57 L195.05,870.52 L195.84,870.52 L195.84,877.67 L196.64,877.67 L196.64,881.95 L197.43,881.95 L197.43,879.96 L198.22,879.96 L198.22,893.70 L199.01,893.70 L199.01,898.84 L199.81,898.84 L199.81,907.06 L200.60,907.06 L200.60,908.77 L201.39,908.77 L201.39,915.95 L202.18,915.95 L202.18,921.95 L202.98,921.95 L202.98,925.92 L203.77,925.92 L203.77,930.25 L204.56,930.25 L204.56,932.98 L205.35,932.98 L205.35,935.58 L206.15,935.58 L206.15,938.42 L206.94,938.42 L206.94,941.51 L207.73,941.51 L207.73,944.80 L208.52,944.80 L208.52,946.00 L209.31,946.00 L209.31,948.43 L210.11,948.43 L210.11,950.91 L210.90,950.91 L210.90,951.42 L211.69,951.42 L211.69,958.00 L212.48,958.00 L212.48,958.00 L213.28,958.00 L213.28,958.00 L214.07,958.00 L214.07,958.00 L214.86,958.00 L214.86,958.00 Z" fill="#82b4ba" />
<path d="M32.60,958.00 L32.60,958.00 L33.39,958.00 L33.39,958.00 L34.18,958.00 L34.18,958.00 L34.98,958.00 L34.98,958.00 L35.77,958.00 L35.77,958.00 L36.56,958.00 L36.56,958.00 L37.35,958.00 L37.35,958.00 L38.15,958.00 L38.15,958.00 L38.94,958.00 L38.94,958.00 L39.73,958.00 L39.73,958.00 L40.52,958.00 L40.52,958.00 L41.32,958.00 L41.32,958.00 L42.11,958.00 L42.11,958.00 L42.90,958.00 L42.90,958.00 L43.69,958.00 L43.69,958.00 L44.49,958.00 L44.49,958.00 L45.28,958.00 L45.28,958.00 L46.07,958.00 L46.07,958.00 L46.86,958.00 L46.86,958.00 L47.66,958.00 L47.66,958.00 L48.45,958.00 L48.45,958.00 L49.24,958.00 L49.24,958.00 L50.03,958.00 L50.03,958.00 L50.83,958.00 L50.83,958.00 L51.62,958.00 L51.62,958.00 L52.41,958.00 L52.41,958.00 L53.20,958.00 L53.20,958.00 L54.00,958.00 L54.00,958.00 L54.79,958.00 L54.79,958.00 L55.58,958.00 L55.58,958.00 L56.37,958.00 L56.37,958.00 L57.17,958.00 L57.17,958.00 L57.96,958.00 L57.96,958.00 L58.75,958.00 L58.75,958.00 L59.54,958.00 L59.54,958.00 L60.34,958.00 L60.34,958.00 L61.13,958.00 L61.13,958.00 L61.92,958.00 L61.92,958.00 L62.71,958.00 L62.71,958.00 L63.51,958.00 L63.51,958.00 L64.30,958.00 L64.30,958.00 L65.09,958.00 L65.09,958.00 L65.88,958.00 L65.88,958.00 L66.68,958.00 L66.68,958.00 L67.47,958.00 L67.47,958.00 L68.26,958.00 L68.26,958.00 L69.05,958.00 L69.05,958.00 L69.84,958.00 L69.84,958.00 L70.64,958.00 L70.64,958.00 L71.43,958.00 L71.43,958.00 L72.22,958.00 L72.22,958.00 L73.01,958.00 L73.01,958.00 L73.81,958.00 L73.81,958.00 L74.60,958.00 L74.60,958.00 L75.39,958.00 L75.39,958.00 L76.18,958.00 L76.18,958.00 L76.98,958.00 L76.98,958.00 L77.77,958.00 L77.77,958.00 L78.56,958.00 L78.56,958.00 L79.35,958.00 L79.35,958.00 L80.15,958.00 L80.15,958.00 L80.94,958.00 L80.94,958.00 L81.73,958.00 L81.73,958.00 L82.52,958.00 L82.52,958.00 L83.32,958.00 L83.32,958.00 L84.11,958.00 L84.11,958.00 L84.90,958.00 L84.90,958.00 L85.69,958.00 L85.69,957.99 L86.49,957.99 L86.49,957.99 L87.28,957.99 L87.28,957.99 L88.07,957.99 L88.07,957.99 L88.86,957.99 L88.86,957.99 L89.66,957.99 L89.66,957.99 L90.45,957.99 L90.45,957.99 L91.24,957.99 L91.24,957.99 L92.03,957.99 L92.03,957.99 L92.83,957.99 L92.83,957.98 L93.62,957.98 L93.62,957.98 L94.41,957.98 L94.41,957.98 L95.20,957.98 L95.20,957.97 L96.00,957.97 L96.00,957.97 L96.79,957.97 L96.79,957.97 L97.58,957.97 L97.58,957.96 L98.37,957.96 L98.37,957.96 L99.17,957.96 L99.17,957.95 L99.96,957.95 L99.96,957.95 L100.75,957.95 L100.75,957.94 L101.54,957.94 L101.54,957.93 L102.34,957.93 L102.34,957.92 L103.13,957.92 L103.13,957.92 L103.92,957.92 L103.92,957.91 L104.71,957.91 L104.71,957.89 L105.50,957.89 L105.50,957.88 L106.30,957.88 L106.30,957.86 L107.09,957.86 L107.09,957.85 L107.88,957.85 L107.88,957.84 L108.67,957.84 L108.67,957.82 L109.47,957.82 L109.47,957.79 L110.26,957.79 L110.26,957.77 L111.05,957.77 L111.05,957.74 L111.84,957.74 L111.84,957.72 L112.64,957.72 L112.64,957.68 L113.43,957.68 L113.43,957.65 L114.22,957.65 L114.22,957.61 L115.01,957.61 L115.01,957.57 L115.81,957.57 L115.81,957.54 L116.60,957.54 L116.60,957.47 L117.39,957.47 L117.39,957.44 L118.18,957.44 L118.18,957.39 L118.98,957.39 L118.98,957.30 L119.77,957.30 L119.77,957.23 L120.56,957.23 L120.56,957.17 L121.35,957.17 L121.35,957.09 L122.15,957.09 L122.15,957.04 L122.94,957.04 L122.94,956.91 L123.73,956.91 L123.73,956.79 L124.52,956.79 L124.52,956.68 L125.32,956.68 L125.32,956.62 L126.11,956.62 L126.11,956.49 L126.90,956.49 L126.90,956.33 L127.69,956.33 L127.69,956.21 L128.49,956.21 L128.49,956.00 L129.28,956.00 L129.28,955.89 L130.07,955.89 L130.07,955.65 L130.86,955.65 L130.86,955.46 L131.66,955.46 L131.66,955.31 L132.45,955.31 L132.45,955.19 L133.24,955.19 L133.24,954.94 L134.03,954.94 L134.03,954.58 L134.83,954.58 L134.83,954.39 L135.62,954.39 L135.62,954.11 L136.41,954.11 L136.41,953.83 L137.20,953.83 L137.20,953.46 L137.99,953.46 L137.99,953.20 L138.79,953.20 L138.79,952.95 L139.58,952.95 L139.58,952.53 L140.37,952.53 L140.37,952.07 L141.16,952.07 L141.16,951.79 L141.96,951.79 L141.96,951.36 L142.75,951.36 L142.75,950.85 L143.54,950.85 L143.54,950.47 L144.33,950.47 L144.33,949.80 L145.13,949.80 L145.13,949.33 L145.92,949.33 L145.92,949.14 L146.71,949.14 L146.71,948.22 L147.50,948.22 L147.50,948.13 L148.30,948.13 L148.30,947.37 L149.09,947.37 L149.09,946.90 L149.88,946.90 L149.88,945.97 L150.67,945.97 L150.67,945.12 L151.47,945.12 L151.47,944.56 L152.26,944.56 L152.26,944.30 L153.05,944.30 L153.05,942.83 L153.84,942.83 L153.84,942.03 L154.64,942.03 L154.64,941.63 L155.43,941.63 L155.43,940.40 L156.22,940.40 L156.22,939.89 L157.01,939.89 L157.01,939.03 L157.81,939.03 L157.81,938.03 L158.60,938.03 L158.60,937.34 L159.39,937.34 L159.39,935.65 L160.18,935.65 L160.18,934.58 L160.98,934.58 L160.98,933.01 L161.77,933.01 L161.77,930.87 L162.56,930.87 L162.56,929.37 L163.35,929.37 L163.35,928.99 L164.15,928.99 L164.15,926.36 L164.94,926.36 L164.94,925.81 L165.73,925.81 L165.73,922.30 L166.52,922.30 L166.52,921.66 L167.32,921.66 L167.32,917.97 L168.11,917.97 L168.11,916.16 L168.90,916.16 L168.90,915.39 L169.69,915.39 L169.69,911.89 L170.49,911.89 L170.49,907.71 L171.28,907.71 L171.28,905.27 L172.07,905.27 L172.07,902.13 L172.86,902.13 L172.86,899.04 L173.65,899.04 L173.65,897.79 L174.45,897.79 L174.45,892.42 L175.24,892.42 L175.24,892.34 L176.03,892.34 L176.03,888.73 L176.82,888.73 L176.82,885.89 L177.62,885.89 L177.62,882.58 L178.41,882.58 L178.41,879.00 L179.20,879.00 L179.20,876.07 L179.99,876.07 L179.99,873.76 L180.79,873.76 L180.79,871.89 L181.58,871.89 L181.58,869.40 L182.37,869.40 L182.37,864.10 L183.16,864.10 L183.16,862.41 L183.96,862.41 L183.96,862.73 L184.75,862.73 L184.75,859.29 L185.54,859.29 L185.54,855.64 L186.33,855.64 L186.33,856.73 L187.13,856.73 L187.13,853.28 L187.92,853.28 L187.92,854.01 L188.71,854.01 L188.71,855.52 L189.50,855.52 L189.50,858.20 L190.30,858.20 L190.30,861.02 L191.09,861.02 L191.09,859.54 L191.88,859.54 L191.88,865.52 L192.67,865.52 L192.67,864.91 L193.47,864.91 L193.47,869.48 L194.26,869.48 L194.26,875.65 L195.05,875.65 L195.05,878.85 L195.84,878.85 L195.84,883.44 L196.64,883.44 L196.64,885.98 L197.43,885.98 L197.43,892.56 L198.22,892.56 L198.22,895.93 L199.01,895.93 L199.01,902.95 L199.81,902.95 L199.81,907.61 L200.60,907.61 L200.60,911.90 L201.39,911.90 L201.39,916.39 L202.18,916.39 L202.18,921.21 L202.98,921.21 L202.98,924.93 L203.77,924.93 L203.77,929.37 L204.56,929.37 L204.56,932.47 L205.35,932.47 L205.35,935.26 L206.15,935.26 L206.15,938.07 L206.94,938.07 L206.94,940.55 L207.73,940.55 L207.73,943.50 L208.52,943.50 L208.52,945.76 L209.31,945.76 L209.31,947.30 L210.11,947.30 L210.11,948.88 L210.90,948.88 L210.90,950.45 L211.69,950.45 L211.69,958.00 L212.48,958.00 L212.48,958.00 L213.28,958.00 L213.28,958.00 L214.07,958.00 L214.07,958.00 L214.86,958.00 L214.86,958.00 Z" fill="url(#hstripe)" />
<path d="M38.63,958.00 L39.71,958.00 L40.79,958.00 L41.87,958.00 L42.95,958.00 L44.03,958.00 L45.11,958.00 L46.19,958.00 L47.27,958.00 L48.35,958.00 L49.43,958.00 L50.51,958.00 L51.59,958.00 L52.67,958.00 L53.75,958.00 L54.83,958.00 L55.91,958.00 L56.99,958.00 L58.07,958.00 L59.15,958.00 L60.23,958.00 L61.31,958.00 L62.39,958.00 L63.47,958.00 L64.55,958.00 L65.63,958.00 L66.71,958.00 L67.79,958.00 L68.87,958.00 L69.95,958.00 L71.03,958.00 L72.11,958.00 L73.19,958.00 L74.27,958.00 L75.35,958.00 L76.43,958.00 L77.51,958.00 L78.59,958.00 L79.67,958.00 L80.75,958.00 L81.83,958.00 L82.91,958.00 L83.99,958.00 L85.07,958.00 L86.15,957.99 L87.23,957.99 L88.31,957.99 L89.39,957.99 L90.47,957.99 L91.55,957.99 L92.63,957.98 L93.71,957.98 L94.79,957.98 L95.87,957.97 L96.96,957.97 L98.04,957.96 L99.12,957.96 L100.20,957.95 L101.28,957.94 L102.36,957.93 L103.44,957.92 L104.52,957.90 L105.60,957.89 L106.68,957.87 L107.76,957.85 L108.84,957.82 L109.92,957.79 L111.00,957.76 L112.08,957.72 L113.16,957.68 L114.24,957.64 L115.32,957.58 L116.40,957.52 L117.48,957.45 L118.56,957.38 L119.64,957.29 L120.72,957.20 L121.80,957.09 L122.88,956.97 L123.96,956.84 L125.04,956.70 L126.12,956.53 L127.20,956.36 L128.28,956.16 L129.36,955.95 L130.44,955.71 L131.52,955.45 L132.60,955.17 L133.68,954.87 L134.76,954.54 L135.84,954.18 L136.92,953.79 L138.00,953.37 L139.08,952.93 L140.16,952.44 L141.24,951.93 L142.32,951.38 L143.40,950.79 L144.48,950.16 L145.56,949.50 L146.64,948.79 L147.72,948.04 L148.80,947.25 L149.88,946.41 L150.96,945.52 L152.04,944.57 L153.12,943.56 L154.20,942.49 L155.28,941.35 L156.36,940.12 L157.44,938.81 L158.52,937.38 L159.60,935.85 L160.68,934.18 L161.76,932.36 L162.84,930.38 L163.92,928.22 L165.00,925.85 L166.08,923.28 L167.16,920.47 L168.24,917.43 L169.32,914.15 L170.40,910.64 L171.48,906.90 L172.56,902.94 L173.64,898.81 L174.72,894.54 L175.80,890.18 L176.88,885.78 L177.96,881.41 L179.04,877.15 L180.12,873.07 L181.20,869.27 L182.28,865.81 L183.36,862.77 L184.44,860.24 L185.52,858.26 L186.60,856.89 L187.68,856.16 L188.76,856.14 L189.84,857.19 L190.92,859.38 L192.00,862.63 L193.08,866.83 L194.16,871.85 L195.24,877.53 L196.32,883.69 L197.40,890.17 L198.48,896.80 L199.56,903.41 L200.64,909.87 L201.72,916.05 L202.80,921.86 L203.88,927.22 L204.96,932.09 L206.04,936.43 L207.12,940.26 L208.20,943.57 L209.28,946.40 L210.36,948.78 L211.44,950.76" fill="none" stroke="#6b4a4a" stroke-width="0.9" stroke-linejoin="round"/>
<path d="M38.63,958.00 L39.71,958.00 L40.79,958.00 L41.87,958.00 L42.95,958.00 L44.03,958.00 L45.11,958.00 L46.19,958.00 L47.27,958.00 L48.35,958.00 L49.43,958.00 L50.51,958.00 L51.59,957.99 L52.67,957.99 L53.75,957.99 L54.83,957.99 L55.91,957.99 L56.99,957.98 L58.07,957.98 L59.15,957.97 L60.23,957.97 L61.31,957.96 L62.39,957.96 L63.47,957.95 L64.55,957.94 L65.63,957.92 L66.71,957.91 L67.79,957.89 L68.87,957.87 L69.95,957.85 L71.03,957.83 L72.11,957.80 L73.19,957.77 L74.27,957.73 L75.35,957.69 L76.43,957.64 L77.51,957.59 L78.59,957.53 L79.67,957.47 L80.75,957.40 L81.83,957.32 L82.91,957.24 L83.99,957.14 L85.07,957.04 L86.15,956.94 L87.23,956.82 L88.31,956.70 L89.39,956.56 L90.47,956.42 L91.55,956.28 L92.63,956.12 L93.71,955.96 L94.79,955.80 L95.87,955.63 L96.96,955.45 L98.04,955.28 L99.12,955.09 L100.20,954.91 L101.28,954.73 L102.36,954.55 L103.44,954.38 L104.52,954.21 L105.60,954.04 L106.68,953.88 L107.76,953.73 L108.84,953.60 L109.92,953.47 L111.00,953.36 L112.08,953.26 L113.16,953.17 L114.24,953.10 L115.32,953.05 L116.40,953.02 L117.48,953.00 L118.56,953.00 L119.64,953.02 L120.72,953.05 L121.80,953.11 L122.88,953.18 L123.96,953.26 L125.04,953.36 L126.12,953.48 L127.20,953.61 L128.28,953.74 L129.36,953.89 L130.44,954.05 L131.52,953.68 L132.60,953.27 L133.68,952.84 L134.76,952.36 L135.84,951.86 L136.92,951.33 L138.00,950.75 L139.08,950.15 L140.16,949.51 L141.24,948.83 L142.32,948.11 L143.40,947.35 L144.48,946.56 L145.56,945.73 L146.64,944.85 L147.72,943.94 L148.80,942.99 L149.88,942.00 L150.96,940.97 L152.04,939.89 L153.12,938.77 L154.20,937.61 L155.28,936.39 L156.36,935.11 L157.44,933.77 L158.52,932.36 L159.60,930.85 L160.68,929.24 L161.76,927.51 L162.84,925.63 L163.92,923.57 L165.00,921.30 L166.08,918.81 L167.16,916.04 L168.24,912.97 L169.32,909.56 L170.40,905.80 L171.48,901.67 L172.56,897.15 L173.64,892.26 L174.72,887.01 L175.80,881.46 L176.88,875.65 L177.96,869.67 L179.04,863.61 L180.12,857.59 L181.20,851.74 L182.28,846.20 L183.36,841.11 L184.44,836.61 L185.52,832.83 L186.60,829.87 L187.68,827.84 L188.76,826.79 L189.84,826.83 L190.92,828.49 L192.00,831.78 L193.08,836.59 L194.16,842.73 L195.24,849.98 L196.32,858.09 L197.40,866.79 L198.48,875.82 L199.56,884.91 L200.64,893.84 L201.72,902.41 L202.80,910.46 L203.88,917.88 L204.96,924.57 L206.04,930.52 L207.12,935.69 L208.20,940.13 L209.28,943.87 L210.36,946.98 L211.44,949.51" fill="none" stroke="#3d7ba3" stroke-width="1.3" stroke-linejoin="round"/>
</g>
<rect x="32.60" y="819.50" width="186.20" height="138.50" fill="none" stroke="#a9a9a9" stroke-width="0.9"/>
<line x1="30.60" y1="958.00" x2="32.60" y2="958.00" stroke="#888" stroke-width="0.6"/>
<text x="29.40" y="959.90" font-family="'DejaVu Sans', sans-serif" font-size="5.4" font-weight="normal" font-style="normal" text-anchor="end" fill="#111" stroke="#111" stroke-width="0.11" >0.0000</text>
<line x1="30.60" y1="942.36" x2="32.60" y2="942.36" stroke="#888" stroke-width="0.6"/>
<text x="29.40" y="944.26" font-family="'DejaVu Sans', sans-serif" font-size="5.4" font-weight="normal" font-style="normal" text-anchor="end" fill="#111" stroke="#111" stroke-width="0.11" >0.0025</text>
<line x1="30.60" y1="926.73" x2="32.60" y2="926.73" stroke="#888" stroke-width="0.6"/>
<text x="29.40" y="928.62" font-family="'DejaVu Sans', sans-serif" font-size="5.4" font-weight="normal" font-style="normal" text-anchor="end" fill="#111" stroke="#111" stroke-width="0.11" >0.0050</text>
<line x1="30.60" y1="911.09" x2="32.60" y2="911.09" stroke="#888" stroke-width="0.6"/>
<text x="29.40" y="912.99" font-family="'DejaVu Sans', sans-serif" font-size="5.4" font-weight="normal" font-style="normal" text-anchor="end" fill="#111" stroke="#111" stroke-width="0.11" >0.0075</text>
<line x1="30.60" y1="895.45" x2="32.60" y2="895.45" stroke="#888" stroke-width="0.6"/>
<text x="29.40" y="897.35" font-family="'DejaVu Sans', sans-serif" font-size="5.4" font-weight="normal" font-style="normal" text-anchor="end" fill="#111" stroke="#111" stroke-width="0.11" >0.0100</text>
<line x1="30.60" y1="879.81" x2="32.60" y2="879.81" stroke="#888" stroke-width="0.6"/>
<text x="29.40" y="881.71" font-family="'DejaVu Sans', sans-serif" font-size="5.4" font-weight="normal" font-style="normal" text-anchor="end" fill="#111" stroke="#111" stroke-width="0.11" >0.0125</text>
<line x1="30.60" y1="864.17" x2="32.60" y2="864.17" stroke="#888" stroke-width="0.6"/>
<text x="29.40" y="866.07" font-family="'DejaVu Sans', sans-serif" font-size="5.4" font-weight="normal" font-style="normal" text-anchor="end" fill="#111" stroke="#111" stroke-width="0.11" >0.0150</text>
<line x1="30.60" y1="848.54" x2="32.60" y2="848.54" stroke="#888" stroke-width="0.6"/>
<text x="29.40" y="850.44" font-family="'DejaVu Sans', sans-serif" font-size="5.4" font-weight="normal" font-style="normal" text-anchor="end" fill="#111" stroke="#111" stroke-width="0.11" >0.0175</text>
<line x1="30.60" y1="832.90" x2="32.60" y2="832.90" stroke="#888" stroke-width="0.6"/>
<text x="29.40" y="834.80" font-family="'DejaVu Sans', sans-serif" font-size="5.4" font-weight="normal" font-style="normal" text-anchor="end" fill="#111" stroke="#111" stroke-width="0.11" >0.0200</text>
<line x1="81.80" y1="958.00" x2="81.80" y2="960.00" stroke="#888" stroke-width="0.6"/>
<text x="81.80" y="966.30" font-family="'DejaVu Sans', sans-serif" font-size="5.4" font-weight="normal" font-style="normal" text-anchor="middle" fill="#111" stroke="#111" stroke-width="0.11" >0.1kb</text>
<line x1="122.00" y1="958.00" x2="122.00" y2="960.00" stroke="#888" stroke-width="0.6"/>
<text x="122.00" y="966.30" font-family="'DejaVu Sans', sans-serif" font-size="5.4" font-weight="normal" font-style="normal" text-anchor="middle" fill="#111" stroke="#111" stroke-width="0.11" >10kb</text>
<line x1="162.20" y1="958.00" x2="162.20" y2="960.00" stroke="#888" stroke-width="0.6"/>
<text x="162.20" y="966.30" font-family="'DejaVu Sans', sans-serif" font-size="5.4" font-weight="normal" font-style="normal" text-anchor="middle" fill="#111" stroke="#111" stroke-width="0.11" >1Mb</text>
<line x1="202.40" y1="958.00" x2="202.40" y2="960.00" stroke="#888" stroke-width="0.6"/>
<text x="202.40" y="966.30" font-family="'DejaVu Sans', sans-serif" font-size="5.4" font-weight="normal" font-style="normal" text-anchor="middle" fill="#111" stroke="#111" stroke-width="0.11" >100Mb</text>
<text x="125.70" y="972.60" font-family="'DejaVu Sans', sans-serif" font-size="5.3" font-weight="normal" font-style="normal" text-anchor="middle" fill="#111" stroke="#111" stroke-width="0.11" >Distance to nearest SV breakpoint (log10(bp))</text>
<text x="8.20" y="889.75" font-family="'DejaVu Sans', sans-serif" font-size="5.3" font-weight="normal" font-style="normal" text-anchor="middle" fill="#111" stroke="#111" stroke-width="0.11" transform="rotate(-90 8.20 889.75)" >Density</text>
<rect x="35.20" y="822.30" width="56.5" height="17" fill="#fff" fill-opacity="0.85" stroke="#e0e0e0" stroke-width="0.6" rx="1"/>
<rect x="37.50" y="824.40" width="10.50" height="3.30" fill="#7a1414" />
<rect x="37.50" y="832.10" width="10.50" height="3.30" fill="#6fa4a9" />
<text x="52.20" y="828.10" font-family="'DejaVu Sans', sans-serif" font-size="5.2" font-weight="normal" font-style="normal" text-anchor="start" fill="#111" stroke="#111" stroke-width="0.10" >Non-clustered</text>
<text x="52.20" y="835.70" font-family="'DejaVu Sans', sans-serif" font-size="5.2" font-weight="normal" font-style="normal" text-anchor="start" fill="#111" stroke="#111" stroke-width="0.10" >OMIKLI</text>
<g>
<path d="M251.60,958.00 L251.60,958.00 L252.39,958.00 L252.39,958.00 L253.18,958.00 L253.18,958.00 L253.97,958.00 L253.97,958.00 L254.76,958.00 L254.76,958.00 L255.55,958.00 L255.55,958.00 L256.33,958.00 L256.33,958.00 L257.12,958.00 L257.12,958.00 L257.91,958.00 L257.91,958.00 L258.70,958.00 L258.70,958.00 L259.49,958.00 L259.49,958.00 L260.28,958.00 L260.28,958.00 L261.07,958.00 L261.07,958.00 L261.86,958.00 L261.86,958.00 L262.65,958.00 L262.65,958.00 L263.44,958.00 L263.44,958.00 L264.23,958.00 L264.23,958.00 L265.01,958.00 L265.01,958.00 L265.80,958.00 L265.80,957.99 L266.59,957.99 L266.59,957.99 L267.38,957.99 L267.38,957.99 L268.17,957.99 L268.17,957.99 L268.96,957.99 L268.96,957.99 L269.75,957.99 L269.75,957.99 L270.54,957.99 L270.54,957.99 L271.33,957.99 L271.33,957.98 L272.12,957.98 L272.12,957.98 L272.91,957.98 L272.91,957.98 L273.69,957.98 L273.69,957.97 L274.48,957.97 L274.48,957.97 L275.27,957.97 L275.27,957.96 L276.06,957.96 L276.06,957.96 L276.85,957.96 L276.85,957.96 L277.64,957.96 L277.64,957.95 L278.43,957.95 L278.43,957.94 L279.22,957.94 L279.22,957.93 L280.01,957.93 L280.01,957.92 L280.80,957.92 L280.80,957.92 L281.59,957.92 L281.59,957.91 L282.37,957.91 L282.37,957.89 L283.16,957.89 L283.16,957.87 L283.95,957.87 L283.95,957.86 L284.74,957.86 L284.74,957.84 L285.53,957.84 L285.53,957.83 L286.32,957.83 L286.32,957.80 L287.11,957.80 L287.11,957.77 L287.90,957.77 L287.90,957.76 L288.69,957.76 L288.69,957.73 L289.48,957.73 L289.48,957.72 L290.27,957.72 L290.27,957.69 L291.05,957.69 L291.05,957.66 L291.84,957.66 L291.84,957.58 L292.63,957.58 L292.63,957.55 L293.42,957.55 L293.42,957.50 L294.21,957.50 L294.21,957.50 L295.00,957.50 L295.00,957.43 L295.79,957.43 L295.79,957.34 L296.58,957.34 L296.58,957.30 L297.37,957.30 L297.37,957.22 L298.16,957.22 L298.16,957.25 L298.95,957.25 L298.95,957.17 L299.74,957.17 L299.74,956.99 L300.52,956.99 L300.52,957.06 L301.31,957.06 L301.31,956.96 L302.10,956.96 L302.10,956.81 L302.89,956.81 L302.89,956.77 L303.68,956.77 L303.68,956.64 L304.47,956.64 L304.47,956.65 L305.26,956.65 L305.26,956.42 L306.05,956.42 L306.05,956.38 L306.84,956.38 L306.84,956.20 L307.63,956.20 L307.63,956.06 L308.42,956.06 L308.42,956.00 L309.20,956.00 L309.20,955.83 L309.99,955.83 L309.99,955.97 L310.78,955.97 L310.78,955.72 L311.57,955.72 L311.57,955.57 L312.36,955.57 L312.36,955.39 L313.15,955.39 L313.15,955.57 L313.94,955.57 L313.94,955.28 L314.73,955.28 L314.73,955.20 L315.52,955.20 L315.52,955.05 L316.31,955.05 L316.31,954.91 L317.10,954.91 L317.10,955.04 L317.88,955.04 L317.88,954.51 L318.67,954.51 L318.67,954.58 L319.46,954.58 L319.46,954.28 L320.25,954.28 L320.25,954.32 L321.04,954.32 L321.04,954.41 L321.83,954.41 L321.83,954.08 L322.62,954.08 L322.62,954.00 L323.41,954.00 L323.41,954.05 L324.20,954.05 L324.20,954.24 L324.99,954.24 L324.99,953.98 L325.78,953.98 L325.78,954.01 L326.56,954.01 L326.56,953.64 L327.35,953.64 L327.35,953.50 L328.14,953.50 L328.14,953.64 L328.93,953.64 L328.93,953.55 L329.72,953.55 L329.72,953.93 L330.51,953.93 L330.51,953.56 L331.30,953.56 L331.30,953.91 L332.09,953.91 L332.09,953.64 L332.88,953.64 L332.88,953.94 L333.67,953.94 L333.67,953.76 L334.46,953.76 L334.46,954.00 L335.24,954.00 L335.24,953.65 L336.03,953.65 L336.03,953.44 L336.82,953.44 L336.82,954.05 L337.61,954.05 L337.61,954.03 L338.40,954.03 L338.40,954.11 L339.19,954.11 L339.19,954.23 L339.98,954.23 L339.98,953.81 L340.77,953.81 L340.77,954.23 L341.56,954.23 L341.56,954.26 L342.35,954.26 L342.35,954.40 L343.14,954.40 L343.14,954.57 L343.92,954.57 L343.92,954.52 L344.71,954.52 L344.71,954.67 L345.50,954.67 L345.50,954.98 L346.29,954.98 L346.29,954.71 L347.08,954.71 L347.08,955.08 L347.87,955.08 L347.87,954.91 L348.66,954.91 L348.66,954.95 L349.45,954.95 L349.45,954.60 L350.24,954.60 L350.24,953.97 L351.03,953.97 L351.03,953.73 L351.82,953.73 L351.82,953.45 L352.60,953.45 L352.60,953.07 L353.39,953.07 L353.39,953.21 L354.18,953.21 L354.18,952.66 L354.97,952.66 L354.97,952.53 L355.76,952.53 L355.76,952.12 L356.55,952.12 L356.55,951.86 L357.34,951.86 L357.34,951.14 L358.13,951.14 L358.13,950.89 L358.92,950.89 L358.92,950.50 L359.71,950.50 L359.71,950.33 L360.50,950.33 L360.50,949.86 L361.28,949.86 L361.28,948.75 L362.07,948.75 L362.07,948.27 L362.86,948.27 L362.86,947.99 L363.65,947.99 L363.65,946.93 L364.44,946.93 L364.44,946.38 L365.23,946.38 L365.23,946.10 L366.02,946.10 L366.02,946.45 L366.81,946.45 L366.81,944.97 L367.60,944.97 L367.60,944.61 L368.39,944.61 L368.39,943.53 L369.18,943.53 L369.18,942.35 L369.96,942.35 L369.96,942.02 L370.75,942.02 L370.75,942.55 L371.54,942.55 L371.54,941.73 L372.33,941.73 L372.33,940.62 L373.12,940.62 L373.12,937.90 L373.91,937.90 L373.91,937.48 L374.70,937.48 L374.70,935.75 L375.49,935.75 L375.49,937.19 L376.28,937.19 L376.28,935.42 L377.07,935.42 L377.07,934.48 L377.86,934.48 L377.86,933.86 L378.65,933.86 L378.65,929.94 L379.43,929.94 L379.43,932.13 L380.22,932.13 L380.22,930.77 L381.01,930.77 L381.01,925.45 L381.80,925.45 L381.80,923.52 L382.59,923.52 L382.59,924.93 L383.38,924.93 L383.38,922.15 L384.17,922.15 L384.17,921.41 L384.96,921.41 L384.96,916.22 L385.75,916.22 L385.75,914.76 L386.54,914.76 L386.54,910.03 L387.33,910.03 L387.33,912.53 L388.11,912.53 L388.11,906.20 L388.90,906.20 L388.90,907.44 L389.69,907.44 L389.69,901.02 L390.48,901.02 L390.48,900.64 L391.27,900.64 L391.27,892.91 L392.06,892.91 L392.06,887.64 L392.85,887.64 L392.85,882.85 L393.64,882.85 L393.64,883.77 L394.43,883.77 L394.43,876.32 L395.22,876.32 L395.22,876.57 L396.01,876.57 L396.01,866.35 L396.79,866.35 L396.79,862.96 L397.58,862.96 L397.58,870.71 L398.37,870.71 L398.37,855.76 L399.16,855.76 L399.16,851.01 L399.95,851.01 L399.95,854.44 L400.74,854.44 L400.74,851.44 L401.53,851.44 L401.53,841.79 L402.32,841.79 L402.32,854.67 L403.11,854.67 L403.11,844.09 L403.90,844.09 L403.90,838.34 L404.69,838.34 L404.69,849.39 L405.47,849.39 L405.47,850.47 L406.26,850.47 L406.26,837.45 L407.05,837.45 L407.05,834.87 L407.84,834.87 L407.84,849.88 L408.63,849.88 L408.63,845.27 L409.42,845.27 L409.42,846.75 L410.21,846.75 L410.21,851.84 L411.00,851.84 L411.00,852.98 L411.79,852.98 L411.79,867.14 L412.58,867.14 L412.58,861.08 L413.37,861.08 L413.37,875.62 L414.15,875.62 L414.15,882.47 L414.94,882.47 L414.94,883.09 L415.73,883.09 L415.73,885.87 L416.52,885.87 L416.52,898.77 L417.31,898.77 L417.31,898.56 L418.10,898.56 L418.10,911.59 L418.89,911.59 L418.89,916.29 L419.68,916.29 L419.68,919.54 L420.47,919.54 L420.47,924.72 L421.26,924.72 L421.26,927.76 L422.05,927.76 L422.05,932.40 L422.83,932.40 L422.83,936.42 L423.62,936.42 L423.62,937.35 L424.41,937.35 L424.41,941.22 L425.20,941.22 L425.20,943.30 L425.99,943.30 L425.99,947.24 L426.78,947.24 L426.78,948.81 L427.57,948.81 L427.57,950.66 L428.36,950.66 L428.36,951.32 L429.15,951.32 L429.15,952.70 L429.94,952.70 L429.94,958.00 L430.73,958.00 L430.73,958.00 L431.51,958.00 L431.51,958.00 L432.30,958.00 L432.30,958.00 L433.09,958.00 L433.09,958.00 Z" fill="#82b4ba" />
<path d="M251.60,958.00 L251.60,958.00 L252.39,958.00 L252.39,958.00 L253.18,958.00 L253.18,958.00 L253.97,958.00 L253.97,958.00 L254.76,958.00 L254.76,958.00 L255.55,958.00 L255.55,958.00 L256.33,958.00 L256.33,958.00 L257.12,958.00 L257.12,958.00 L257.91,958.00 L257.91,958.00 L258.70,958.00 L258.70,958.00 L259.49,958.00 L259.49,958.00 L260.28,958.00 L260.28,958.00 L261.07,958.00 L261.07,958.00 L261.86,958.00 L261.86,958.00 L262.65,958.00 L262.65,958.00 L263.44,958.00 L263.44,958.00 L264.23,958.00 L264.23,958.00 L265.01,958.00 L265.01,958.00 L265.80,958.00 L265.80,958.00 L266.59,958.00 L266.59,958.00 L267.38,958.00 L267.38,958.00 L268.17,958.00 L268.17,958.00 L268.96,958.00 L268.96,958.00 L269.75,958.00 L269.75,958.00 L270.54,958.00 L270.54,958.00 L271.33,958.00 L271.33,958.00 L272.12,958.00 L272.12,958.00 L272.91,958.00 L272.91,958.00 L273.69,958.00 L273.69,958.00 L274.48,958.00 L274.48,958.00 L275.27,958.00 L275.27,958.00 L276.06,958.00 L276.06,958.00 L276.85,958.00 L276.85,958.00 L277.64,958.00 L277.64,958.00 L278.43,958.00 L278.43,958.00 L279.22,958.00 L279.22,958.00 L280.01,958.00 L280.01,958.00 L280.80,958.00 L280.80,958.00 L281.59,958.00 L281.59,958.00 L282.37,958.00 L282.37,958.00 L283.16,958.00 L283.16,958.00 L283.95,958.00 L283.95,958.00 L284.74,958.00 L284.74,958.00 L285.53,958.00 L285.53,958.00 L286.32,958.00 L286.32,958.00 L287.11,958.00 L287.11,958.00 L287.90,958.00 L287.90,958.00 L288.69,958.00 L288.69,958.00 L289.48,958.00 L289.48,958.00 L290.27,958.00 L290.27,958.00 L291.05,958.00 L291.05,958.00 L291.84,958.00 L291.84,958.00 L292.63,958.00 L292.63,958.00 L293.42,958.00 L293.42,958.00 L294.21,958.00 L294.21,958.00 L295.00,958.00 L295.00,958.00 L295.79,958.00 L295.79,958.00 L296.58,958.00 L296.58,958.00 L297.37,958.00 L297.37,958.00 L298.16,958.00 L298.16,958.00 L298.95,958.00 L298.95,958.00 L299.74,958.00 L299.74,958.00 L300.52,958.00 L300.52,958.00 L301.31,958.00 L301.31,958.00 L302.10,958.00 L302.10,958.00 L302.89,958.00 L302.89,958.00 L303.68,958.00 L303.68,957.99 L304.47,957.99 L304.47,957.99 L305.26,957.99 L305.26,957.99 L306.05,957.99 L306.05,957.99 L306.84,957.99 L306.84,957.99 L307.63,957.99 L307.63,957.99 L308.42,957.99 L308.42,957.99 L309.20,957.99 L309.20,957.99 L309.99,957.99 L309.99,957.99 L310.78,957.99 L310.78,957.98 L311.57,957.98 L311.57,957.98 L312.36,957.98 L312.36,957.98 L313.15,957.98 L313.15,957.98 L313.94,957.98 L313.94,957.97 L314.73,957.97 L314.73,957.97 L315.52,957.97 L315.52,957.96 L316.31,957.96 L316.31,957.96 L317.10,957.96 L317.10,957.95 L317.88,957.95 L317.88,957.95 L318.67,957.95 L318.67,957.94 L319.46,957.94 L319.46,957.94 L320.25,957.94 L320.25,957.93 L321.04,957.93 L321.04,957.92 L321.83,957.92 L321.83,957.91 L322.62,957.91 L322.62,957.90 L323.41,957.90 L323.41,957.88 L324.20,957.88 L324.20,957.87 L324.99,957.87 L324.99,957.85 L325.78,957.85 L325.78,957.83 L326.56,957.83 L326.56,957.82 L327.35,957.82 L327.35,957.80 L328.14,957.80 L328.14,957.77 L328.93,957.77 L328.93,957.75 L329.72,957.75 L329.72,957.73 L330.51,957.73 L330.51,957.70 L331.30,957.70 L331.30,957.66 L332.09,957.66 L332.09,957.62 L332.88,957.62 L332.88,957.58 L333.67,957.58 L333.67,957.53 L334.46,957.53 L334.46,957.48 L335.24,957.48 L335.24,957.43 L336.03,957.43 L336.03,957.38 L336.82,957.38 L336.82,957.33 L337.61,957.33 L337.61,957.25 L338.40,957.25 L338.40,957.20 L339.19,957.20 L339.19,957.13 L339.98,957.13 L339.98,957.00 L340.77,957.00 L340.77,956.92 L341.56,956.92 L341.56,956.84 L342.35,956.84 L342.35,956.73 L343.14,956.73 L343.14,956.65 L343.92,956.65 L343.92,956.53 L344.71,956.53 L344.71,956.33 L345.50,956.33 L345.50,956.28 L346.29,956.28 L346.29,956.14 L347.08,956.14 L347.08,955.88 L347.87,955.88 L347.87,955.79 L348.66,955.79 L348.66,955.61 L349.45,955.61 L349.45,955.33 L350.24,955.33 L350.24,955.12 L351.03,955.12 L351.03,954.87 L351.82,954.87 L351.82,954.64 L352.60,954.64 L352.60,954.56 L353.39,954.56 L353.39,954.27 L354.18,954.27 L354.18,953.93 L354.97,953.93 L354.97,953.55 L355.76,953.55 L355.76,953.41 L356.55,953.41 L356.55,953.01 L357.34,953.01 L357.34,952.64 L358.13,952.64 L358.13,952.40 L358.92,952.40 L358.92,951.98 L359.71,951.98 L359.71,951.50 L360.50,951.50 L360.50,951.01 L361.28,951.01 L361.28,950.82 L362.07,950.82 L362.07,950.28 L362.86,950.28 L362.86,949.67 L363.65,949.67 L363.65,949.02 L364.44,949.02 L364.44,948.86 L365.23,948.86 L365.23,948.25 L366.02,948.25 L366.02,947.56 L366.81,947.56 L366.81,946.75 L367.60,946.75 L367.60,946.14 L368.39,946.14 L368.39,946.02 L369.18,946.02 L369.18,945.22 L369.96,945.22 L369.96,944.70 L370.75,944.70 L370.75,943.25 L371.54,943.25 L371.54,943.16 L372.33,943.16 L372.33,942.42 L373.12,942.42 L373.12,940.68 L373.91,940.68 L373.91,940.40 L374.70,940.40 L374.70,939.34 L375.49,939.34 L375.49,938.13 L376.28,938.13 L376.28,937.59 L377.07,937.59 L377.07,936.34 L377.86,936.34 L377.86,934.85 L378.65,934.85 L378.65,933.65 L379.43,933.65 L379.43,932.13 L380.22,932.13 L380.22,931.03 L381.01,931.03 L381.01,929.17 L381.80,929.17 L381.80,927.40 L382.59,927.40 L382.59,926.81 L383.38,926.81 L383.38,923.93 L384.17,923.93 L384.17,922.70 L384.96,922.70 L384.96,920.60 L385.75,920.60 L385.75,917.95 L386.54,917.95 L386.54,916.93 L387.33,916.93 L387.33,912.52 L388.11,912.52 L388.11,911.83 L388.90,911.83 L388.90,908.85 L389.69,908.85 L389.69,903.88 L390.48,903.88 L390.48,903.23 L391.27,903.23 L391.27,899.49 L392.06,899.49 L392.06,894.27 L392.85,894.27 L392.85,892.13 L393.64,892.13 L393.64,891.58 L394.43,891.58 L394.43,887.01 L395.22,887.01 L395.22,882.79 L396.01,882.79 L396.01,879.96 L396.79,879.96 L396.79,874.88 L397.58,874.88 L397.58,874.87 L398.37,874.87 L398.37,869.89 L399.16,869.89 L399.16,870.26 L399.95,870.26 L399.95,863.68 L400.74,863.68 L400.74,862.82 L401.53,862.82 L401.53,863.64 L402.32,863.64 L402.32,857.92 L403.11,857.92 L403.11,860.33 L403.90,860.33 L403.90,858.72 L404.69,858.72 L404.69,857.84 L405.47,857.84 L405.47,856.73 L406.26,856.73 L406.26,856.34 L407.05,856.34 L407.05,859.29 L407.84,859.29 L407.84,859.70 L408.63,859.70 L408.63,860.99 L409.42,860.99 L409.42,861.30 L410.21,861.30 L410.21,862.24 L411.00,862.24 L411.00,865.11 L411.79,865.11 L411.79,871.69 L412.58,871.69 L412.58,875.59 L413.37,875.59 L413.37,879.47 L414.15,879.47 L414.15,882.38 L414.94,882.38 L414.94,890.33 L415.73,890.33 L415.73,893.37 L416.52,893.37 L416.52,897.88 L417.31,897.88 L417.31,903.61 L418.10,903.61 L418.10,908.75 L418.89,908.75 L418.89,912.37 L419.68,912.37 L419.68,916.02 L420.47,916.02 L420.47,922.19 L421.26,922.19 L421.26,925.86 L422.05,925.86 L422.05,929.34 L422.83,929.34 L422.83,932.12 L423.62,932.12 L423.62,935.71 L424.41,935.71 L424.41,938.66 L425.20,938.66 L425.20,941.05 L425.99,941.05 L425.99,943.27 L426.78,943.27 L426.78,945.93 L427.57,945.93 L427.57,947.26 L428.36,947.26 L428.36,949.19 L429.15,949.19 L429.15,950.46 L429.94,950.46 L429.94,958.00 L430.73,958.00 L430.73,958.00 L431.51,958.00 L431.51,958.00 L432.30,958.00 L432.30,958.00 L433.09,958.00 L433.09,958.00 Z" fill="url(#hstripe)" />
<path d="M257.64,958.00 L258.72,958.00 L259.80,958.00 L260.87,958.00 L261.95,958.00 L263.02,958.00 L264.10,958.00 L265.17,958.00 L266.25,958.00 L267.32,958.00 L268.40,958.00 L269.47,958.00 L270.55,958.00 L271.62,958.00 L272.70,958.00 L273.77,958.00 L274.85,958.00 L275.92,958.00 L277.00,958.00 L278.07,958.00 L279.15,958.00 L280.22,958.00 L281.30,958.00 L282.37,958.00 L283.45,958.00 L284.52,958.00 L285.60,958.00 L286.67,958.00 L287.75,958.00 L288.82,958.00 L289.90,958.00 L290.97,958.00 L292.05,958.00 L293.12,958.00 L294.20,958.00 L295.27,958.00 L296.35,958.00 L297.43,958.00 L298.50,958.00 L299.58,958.00 L300.65,958.00 L301.73,958.00 L302.80,958.00 L303.88,957.99 L304.95,957.99 L306.03,957.99 L307.10,957.99 L308.18,957.99 L309.25,957.99 L310.33,957.99 L311.40,957.98 L312.48,957.98 L313.55,957.97 L314.63,957.97 L315.70,957.96 L316.78,957.96 L317.85,957.95 L318.93,957.94 L320.00,957.93 L321.08,957.92 L322.15,957.91 L323.23,957.89 L324.30,957.87 L325.38,957.85 L326.45,957.83 L327.53,957.80 L328.60,957.77 L329.68,957.74 L330.75,957.70 L331.83,957.65 L332.90,957.60 L333.98,957.55 L335.06,957.48 L336.13,957.41 L337.21,957.33 L338.28,957.24 L339.36,957.14 L340.43,957.02 L341.51,956.90 L342.58,956.76 L343.66,956.61 L344.73,956.44 L345.81,956.25 L346.88,956.05 L347.96,955.82 L349.03,955.58 L350.11,955.31 L351.18,955.02 L352.26,954.70 L353.33,954.36 L354.41,953.99 L355.48,953.59 L356.56,953.16 L357.63,952.70 L358.71,952.21 L359.78,951.68 L360.86,951.12 L361.93,950.52 L363.01,949.88 L364.08,949.20 L365.16,948.48 L366.23,947.72 L367.31,946.91 L368.38,946.06 L369.46,945.15 L370.53,944.19 L371.61,943.16 L372.69,942.07 L373.76,940.91 L374.84,939.66 L375.91,938.32 L376.99,936.87 L378.06,935.30 L379.14,933.59 L380.21,931.74 L381.29,929.71 L382.36,927.50 L383.44,925.09 L384.51,922.47 L385.59,919.62 L386.66,916.53 L387.74,913.21 L388.81,909.66 L389.89,905.88 L390.96,901.91 L392.04,897.77 L393.11,893.50 L394.19,889.15 L395.26,884.78 L396.34,880.47 L397.41,876.27 L398.49,872.27 L399.56,868.55 L400.64,865.19 L401.71,862.27 L402.79,859.85 L403.86,857.98 L404.94,856.73 L406.01,856.11 L407.09,856.22 L408.16,857.43 L409.24,859.76 L410.31,863.11 L411.39,867.39 L412.47,872.46 L413.54,878.16 L414.62,884.32 L415.69,890.78 L416.77,897.36 L417.84,903.92 L418.92,910.32 L419.99,916.43 L421.07,922.17 L422.14,927.47 L423.22,932.28 L424.29,936.58 L425.37,940.36 L426.44,943.64 L427.52,946.44 L428.59,948.80 L429.67,950.76" fill="none" stroke="#6b4a4a" stroke-width="0.9" stroke-linejoin="round"/>
<path d="M257.64,958.00 L258.72,958.00 L259.80,958.00 L260.87,958.00 L261.95,958.00 L263.02,958.00 L264.10,958.00 L265.17,958.00 L266.25,957.99 L267.32,957.99 L268.40,957.99 L269.47,957.99 L270.55,957.99 L271.62,957.98 L272.70,957.98 L273.77,957.97 L274.85,957.97 L275.92,957.96 L277.00,957.96 L278.07,957.95 L279.15,957.94 L280.22,957.92 L281.30,957.91 L282.37,957.90 L283.45,957.88 L284.52,957.86 L285.60,957.83 L286.67,957.81 L287.75,957.78 L288.82,957.74 L289.90,957.70 L290.97,957.66 L292.05,957.61 L293.12,957.56 L294.20,957.50 L295.27,957.43 L296.35,957.36 L297.43,957.28 L298.50,957.20 L299.58,957.11 L300.65,957.01 L301.73,956.91 L302.80,956.80 L303.88,956.68 L304.95,956.55 L306.03,956.42 L307.10,956.29 L308.18,956.14 L309.25,956.00 L310.33,955.85 L311.40,955.69 L312.48,955.54 L313.55,955.38 L314.63,955.22 L315.70,955.07 L316.78,954.91 L317.85,954.76 L318.93,954.62 L320.00,954.47 L321.08,954.34 L322.15,954.21 L323.23,954.10 L324.30,953.99 L325.38,953.90 L326.45,953.82 L327.53,953.75 L328.60,953.69 L329.68,953.66 L330.75,953.63 L331.83,953.62 L332.90,953.63 L333.98,953.65 L335.06,953.69 L336.13,953.74 L337.21,953.80 L338.28,953.88 L339.36,953.97 L340.43,954.08 L341.51,954.19 L342.58,954.31 L343.66,954.45 L344.73,954.59 L345.81,954.71 L346.88,954.38 L347.96,954.03 L349.03,953.65 L350.11,953.24 L351.18,952.80 L352.26,952.33 L353.33,951.83 L354.41,951.30 L355.48,950.73 L356.56,950.12 L357.63,949.48 L358.71,948.81 L359.78,948.10 L360.86,947.35 L361.93,946.56 L363.01,945.73 L364.08,944.86 L365.16,943.96 L366.23,943.02 L367.31,942.03 L368.38,941.01 L369.46,939.94 L370.53,938.83 L371.61,937.68 L372.69,936.47 L373.76,935.21 L374.84,933.89 L375.91,932.49 L376.99,931.00 L378.06,929.41 L379.14,927.71 L380.21,925.85 L381.29,923.83 L382.36,921.61 L383.44,919.17 L384.51,916.46 L385.59,913.45 L386.66,910.13 L387.74,906.45 L388.81,902.41 L389.89,897.99 L390.96,893.20 L392.04,888.06 L393.11,882.60 L394.19,876.88 L395.26,870.97 L396.34,864.96 L397.41,858.97 L398.49,853.11 L399.56,847.52 L400.64,842.34 L401.71,837.71 L402.79,833.75 L403.86,830.59 L404.94,828.31 L406.01,826.99 L407.09,826.67 L408.16,827.81 L409.24,830.60 L410.31,834.92 L411.39,840.62 L412.47,847.49 L413.54,855.29 L414.62,863.76 L415.69,872.64 L416.77,881.67 L417.84,890.62 L418.92,899.28 L419.99,907.49 L421.07,915.10 L422.14,922.04 L423.22,928.23 L424.29,933.68 L425.37,938.38 L426.44,942.38 L427.52,945.72 L428.59,948.47 L429.67,950.70" fill="none" stroke="#3d7ba3" stroke-width="1.3" stroke-linejoin="round"/>
</g>
<rect x="251.60" y="819.50" width="185.90" height="138.50" fill="none" stroke="#a9a9a9" stroke-width="0.9"/>
<line x1="249.60" y1="958.00" x2="251.60" y2="958.00" stroke="#888" stroke-width="0.6"/>
<text x="248.40" y="959.90" font-family="'DejaVu Sans', sans-serif" font-size="5.4" font-weight="normal" font-style="normal" text-anchor="end" fill="#111" stroke="#111" stroke-width="0.11" >0.0000</text>
<line x1="249.60" y1="942.36" x2="251.60" y2="942.36" stroke="#888" stroke-width="0.6"/>
<text x="248.40" y="944.26" font-family="'DejaVu Sans', sans-serif" font-size="5.4" font-weight="normal" font-style="normal" text-anchor="end" fill="#111" stroke="#111" stroke-width="0.11" >0.0025</text>
<line x1="249.60" y1="926.73" x2="251.60" y2="926.73" stroke="#888" stroke-width="0.6"/>
<text x="248.40" y="928.62" font-family="'DejaVu Sans', sans-serif" font-size="5.4" font-weight="normal" font-style="normal" text-anchor="end" fill="#111" stroke="#111" stroke-width="0.11" >0.0050</text>
<line x1="249.60" y1="911.09" x2="251.60" y2="911.09" stroke="#888" stroke-width="0.6"/>
<text x="248.40" y="912.99" font-family="'DejaVu Sans', sans-serif" font-size="5.4" font-weight="normal" font-style="normal" text-anchor="end" fill="#111" stroke="#111" stroke-width="0.11" >0.0075</text>
<line x1="249.60" y1="895.45" x2="251.60" y2="895.45" stroke="#888" stroke-width="0.6"/>
<text x="248.40" y="897.35" font-family="'DejaVu Sans', sans-serif" font-size="5.4" font-weight="normal" font-style="normal" text-anchor="end" fill="#111" stroke="#111" stroke-width="0.11" >0.0100</text>
<line x1="249.60" y1="879.81" x2="251.60" y2="879.81" stroke="#888" stroke-width="0.6"/>
<text x="248.40" y="881.71" font-family="'DejaVu Sans', sans-serif" font-size="5.4" font-weight="normal" font-style="normal" text-anchor="end" fill="#111" stroke="#111" stroke-width="0.11" >0.0125</text>
<line x1="249.60" y1="864.17" x2="251.60" y2="864.17" stroke="#888" stroke-width="0.6"/>
<text x="248.40" y="866.07" font-family="'DejaVu Sans', sans-serif" font-size="5.4" font-weight="normal" font-style="normal" text-anchor="end" fill="#111" stroke="#111" stroke-width="0.11" >0.0150</text>
<line x1="249.60" y1="848.54" x2="251.60" y2="848.54" stroke="#888" stroke-width="0.6"/>
<text x="248.40" y="850.44" font-family="'DejaVu Sans', sans-serif" font-size="5.4" font-weight="normal" font-style="normal" text-anchor="end" fill="#111" stroke="#111" stroke-width="0.11" >0.0175</text>
<line x1="249.60" y1="832.90" x2="251.60" y2="832.90" stroke="#888" stroke-width="0.6"/>
<text x="248.40" y="834.80" font-family="'DejaVu Sans', sans-serif" font-size="5.4" font-weight="normal" font-style="normal" text-anchor="end" fill="#111" stroke="#111" stroke-width="0.11" >0.0200</text>
<line x1="299.70" y1="958.00" x2="299.70" y2="960.00" stroke="#888" stroke-width="0.6"/>
<text x="299.70" y="966.30" font-family="'DejaVu Sans', sans-serif" font-size="5.4" font-weight="normal" font-style="normal" text-anchor="middle" fill="#111" stroke="#111" stroke-width="0.11" >0.1kb</text>
<line x1="340.00" y1="958.00" x2="340.00" y2="960.00" stroke="#888" stroke-width="0.6"/>
<text x="340.00" y="966.30" font-family="'DejaVu Sans', sans-serif" font-size="5.4" font-weight="normal" font-style="normal" text-anchor="middle" fill="#111" stroke="#111" stroke-width="0.11" >10kb</text>
<line x1="380.30" y1="958.00" x2="380.30" y2="960.00" stroke="#888" stroke-width="0.6"/>
<text x="380.30" y="966.30" font-family="'DejaVu Sans', sans-serif" font-size="5.4" font-weight="normal" font-style="normal" text-anchor="middle" fill="#111" stroke="#111" stroke-width="0.11" >1Mb</text>
<line x1="420.60" y1="958.00" x2="420.60" y2="960.00" stroke="#888" stroke-width="0.6"/>
<text x="420.60" y="966.30" font-family="'DejaVu Sans', sans-serif" font-size="5.4" font-weight="normal" font-style="normal" text-anchor="middle" fill="#111" stroke="#111" stroke-width="0.11" >100Mb</text>
<text x="344.55" y="972.60" font-family="'DejaVu Sans', sans-serif" font-size="5.3" font-weight="normal" font-style="normal" text-anchor="middle" fill="#111" stroke="#111" stroke-width="0.11" >Distance to nearest SV breakpoint (log10(bp))</text>
<text x="227.40" y="889.75" font-family="'DejaVu Sans', sans-serif" font-size="5.3" font-weight="normal" font-style="normal" text-anchor="middle" fill="#111" stroke="#111" stroke-width="0.11" transform="rotate(-90 227.40 889.75)" >Density</text>
<rect x="254.20" y="822.30" width="56.5" height="17" fill="#fff" fill-opacity="0.85" stroke="#e0e0e0" stroke-width="0.6" rx="1"/>
<rect x="256.50" y="824.40" width="10.50" height="3.30" fill="#7a1414" />
<rect x="256.50" y="832.10" width="10.50" height="3.30" fill="#6fa4a9" />
<text x="271.20" y="828.10" font-family="'DejaVu Sans', sans-serif" font-size="5.2" font-weight="normal" font-style="normal" text-anchor="start" fill="#111" stroke="#111" stroke-width="0.10" >Non-clustered</text>
<text x="271.20" y="835.70" font-family="'DejaVu Sans', sans-serif" font-size="5.2" font-weight="normal" font-style="normal" text-anchor="start" fill="#111" stroke="#111" stroke-width="0.10" >OTHER</text>
<g>
<path d="M32.60,1120.30 L32.60,1120.30 L33.39,1120.30 L33.39,1120.30 L34.18,1120.30 L34.18,1120.30 L34.98,1120.30 L34.98,1120.30 L35.77,1120.30 L35.77,1120.30 L36.56,1120.30 L36.56,1120.30 L37.35,1120.30 L37.35,1120.30 L38.15,1120.30 L38.15,1120.29 L38.94,1120.29 L38.94,1120.29 L39.73,1120.29 L39.73,1120.29 L40.52,1120.29 L40.52,1120.29 L41.32,1120.29 L41.32,1120.29 L42.11,1120.29 L42.11,1120.29 L42.90,1120.29 L42.90,1120.29 L43.69,1120.29 L43.69,1120.29 L44.49,1120.29 L44.49,1120.29 L45.28,1120.29 L45.28,1120.28 L46.07,1120.28 L46.07,1120.28 L46.86,1120.28 L46.86,1120.27 L47.66,1120.27 L47.66,1120.27 L48.45,1120.27 L48.45,1120.27 L49.24,1120.27 L49.24,1120.27 L50.03,1120.27 L50.03,1120.26 L50.83,1120.26 L50.83,1120.25 L51.62,1120.25 L51.62,1120.24 L52.41,1120.24 L52.41,1120.26 L53.20,1120.26 L53.20,1120.23 L54.00,1120.23 L54.00,1120.22 L54.79,1120.22 L54.79,1120.24 L55.58,1120.24 L55.58,1120.21 L56.37,1120.21 L56.37,1120.22 L57.17,1120.22 L57.17,1120.17 L57.96,1120.17 L57.96,1120.20 L58.75,1120.20 L58.75,1120.19 L59.54,1120.19 L59.54,1120.14 L60.34,1120.14 L60.34,1120.14 L61.13,1120.14 L61.13,1120.15 L61.92,1120.15 L61.92,1120.14 L62.71,1120.14 L62.71,1120.12 L63.51,1120.12 L63.51,1120.09 L64.30,1120.09 L64.30,1119.98 L65.09,1119.98 L65.09,1120.03 L65.88,1120.03 L65.88,1120.02 L66.68,1120.02 L66.68,1119.89 L67.47,1119.89 L67.47,1119.98 L68.26,1119.98 L68.26,1119.93 L69.05,1119.93 L69.05,1119.78 L69.84,1119.78 L69.84,1119.84 L70.64,1119.84 L70.64,1119.85 L71.43,1119.85 L71.43,1119.77 L72.22,1119.77 L72.22,1119.69 L73.01,1119.69 L73.01,1119.46 L73.81,1119.46 L73.81,1119.52 L74.60,1119.52 L74.60,1119.60 L75.39,1119.60 L75.39,1119.26 L76.18,1119.26 L76.18,1119.46 L76.98,1119.46 L76.98,1119.17 L77.77,1119.17 L77.77,1119.35 L78.56,1119.35 L78.56,1118.93 L79.35,1118.93 L79.35,1119.09 L80.15,1119.09 L80.15,1119.24 L80.94,1119.24 L80.94,1119.04 L81.73,1119.04 L81.73,1118.94 L82.52,1118.94 L82.52,1118.61 L83.32,1118.61 L83.32,1118.83 L84.11,1118.83 L84.11,1118.83 L84.90,1118.83 L84.90,1118.32 L85.69,1118.32 L85.69,1118.15 L86.49,1118.15 L86.49,1117.74 L87.28,1117.74 L87.28,1118.52 L88.07,1118.52 L88.07,1117.97 L88.86,1117.97 L88.86,1118.15 L89.66,1118.15 L89.66,1117.58 L90.45,1117.58 L90.45,1117.71 L91.24,1117.71 L91.24,1116.79 L92.03,1116.79 L92.03,1117.03 L92.83,1117.03 L92.83,1117.67 L93.62,1117.67 L93.62,1117.74 L94.41,1117.74 L94.41,1116.60 L95.20,1116.60 L95.20,1117.54 L96.00,1117.54 L96.00,1116.68 L96.79,1116.68 L96.79,1116.84 L97.58,1116.84 L97.58,1117.15 L98.37,1117.15 L98.37,1115.86 L99.17,1115.86 L99.17,1115.72 L99.96,1115.72 L99.96,1115.49 L100.75,1115.49 L100.75,1116.23 L101.54,1116.23 L101.54,1115.03 L102.34,1115.03 L102.34,1115.90 L103.13,1115.90 L103.13,1114.87 L103.92,1114.87 L103.92,1115.27 L104.71,1115.27 L104.71,1115.27 L105.50,1115.27 L105.50,1116.30 L106.30,1116.30 L106.30,1114.18 L107.09,1114.18 L107.09,1114.71 L107.88,1114.71 L107.88,1114.62 L108.67,1114.62 L108.67,1115.25 L109.47,1115.25 L109.47,1116.05 L110.26,1116.05 L110.26,1116.14 L111.05,1116.14 L111.05,1115.04 L111.84,1115.04 L111.84,1114.50 L112.64,1114.50 L112.64,1114.69 L113.43,1114.69 L113.43,1115.54 L114.22,1115.54 L114.22,1115.44 L115.01,1115.44 L115.01,1115.68 L115.81,1115.68 L115.81,1114.02 L116.60,1114.02 L116.60,1115.15 L117.39,1115.15 L117.39,1115.46 L118.18,1115.46 L118.18,1115.80 L118.98,1115.80 L118.98,1114.44 L119.77,1114.44 L119.77,1114.33 L120.56,1114.33 L120.56,1115.08 L121.35,1115.08 L121.35,1116.15 L122.15,1116.15 L122.15,1114.68 L122.94,1114.68 L122.94,1115.05 L123.73,1115.05 L123.73,1116.07 L124.52,1116.07 L124.52,1115.80 L125.32,1115.80 L125.32,1116.38 L126.11,1116.38 L126.11,1115.65 L126.90,1115.65 L126.90,1116.37 L127.69,1116.37 L127.69,1115.22 L128.49,1115.22 L128.49,1117.02 L129.28,1117.02 L129.28,1115.63 L130.07,1115.63 L130.07,1115.63 L130.86,1115.63 L130.86,1116.14 L131.66,1116.14 L131.66,1116.50 L132.45,1116.50 L132.45,1115.24 L133.24,1115.24 L133.24,1113.99 L134.03,1113.99 L134.03,1115.41 L134.83,1115.41 L134.83,1113.74 L135.62,1113.74 L135.62,1113.34 L136.41,1113.34 L136.41,1112.37 L137.20,1112.37 L137.20,1112.30 L137.99,1112.30 L137.99,1112.57 L138.79,1112.57 L138.79,1113.86 L139.58,1113.86 L139.58,1110.73 L140.37,1110.73 L140.37,1112.02 L141.16,1112.02 L141.16,1109.71 L141.96,1109.71 L141.96,1109.51 L142.75,1109.51 L142.75,1110.01 L143.54,1110.01 L143.54,1106.84 L144.33,1106.84 L144.33,1105.99 L145.13,1105.99 L145.13,1109.80 L145.92,1109.80 L145.92,1106.30 L146.71,1106.30 L146.71,1107.14 L147.50,1107.14 L147.50,1103.16 L148.30,1103.16 L148.30,1101.85 L149.09,1101.85 L149.09,1103.05 L149.88,1103.05 L149.88,1101.64 L150.67,1101.64 L150.67,1101.35 L151.47,1101.35 L151.47,1104.00 L152.26,1104.00 L152.26,1096.40 L153.05,1096.40 L153.05,1099.31 L153.84,1099.31 L153.84,1100.35 L154.64,1100.35 L154.64,1093.84 L155.43,1093.84 L155.43,1100.81 L156.22,1100.81 L156.22,1094.49 L157.01,1094.49 L157.01,1093.88 L157.81,1093.88 L157.81,1088.42 L158.60,1088.42 L158.60,1086.83 L159.39,1086.83 L159.39,1091.52 L160.18,1091.52 L160.18,1092.82 L160.98,1092.82 L160.98,1085.45 L161.77,1085.45 L161.77,1078.20 L162.56,1078.20 L162.56,1074.02 L163.35,1074.02 L163.35,1071.37 L164.15,1071.37 L164.15,1082.71 L164.94,1082.71 L164.94,1079.21 L165.73,1079.21 L165.73,1069.41 L166.52,1069.41 L166.52,1061.96 L167.32,1061.96 L167.32,1071.53 L168.11,1071.53 L168.11,1055.43 L168.90,1055.43 L168.90,1068.95 L169.69,1068.95 L169.69,1045.04 L170.49,1045.04 L170.49,1052.86 L171.28,1052.86 L171.28,1050.71 L172.07,1050.71 L172.07,1045.18 L172.86,1045.18 L172.86,1029.48 L173.65,1029.48 L173.65,1045.56 L174.45,1045.56 L174.45,1036.51 L175.24,1036.51 L175.24,1028.34 L176.03,1028.34 L176.03,1030.97 L176.82,1030.97 L176.82,1010.80 L177.62,1010.80 L177.62,1036.31 L178.41,1036.31 L178.41,1040.03 L179.20,1040.03 L179.20,1007.21 L179.99,1007.21 L179.99,1019.99 L180.79,1019.99 L180.79,1031.18 L181.58,1031.18 L181.58,994.79 L182.37,994.79 L182.37,999.93 L183.16,999.93 L183.16,1026.98 L183.96,1026.98 L183.96,1001.91 L184.75,1001.91 L184.75,1017.60 L185.54,1017.60 L185.54,1029.71 L186.33,1029.71 L186.33,1028.87 L187.13,1028.87 L187.13,1023.15 L187.92,1023.15 L187.92,1010.75 L188.71,1010.75 L188.71,1020.17 L189.50,1020.17 L189.50,1015.49 L190.30,1015.49 L190.30,1033.38 L191.09,1033.38 L191.09,1017.70 L191.88,1017.70 L191.88,1013.22 L192.67,1013.22 L192.67,1018.21 L193.47,1018.21 L193.47,1028.12 L194.26,1028.12 L194.26,1027.99 L195.05,1027.99 L195.05,1053.40 L195.84,1053.40 L195.84,1061.17 L196.64,1061.17 L196.64,1046.95 L197.43,1046.95 L197.43,1069.77 L198.22,1069.77 L198.22,1073.80 L199.01,1073.80 L199.01,1066.05 L199.81,1066.05 L199.81,1072.30 L200.60,1072.30 L200.60,1084.00 L201.39,1084.00 L201.39,1093.89 L202.18,1093.89 L202.18,1088.08 L202.98,1088.08 L202.98,1088.66 L203.77,1088.66 L203.77,1097.45 L204.56,1097.45 L204.56,1100.53 L205.35,1100.53 L205.35,1105.67 L206.15,1105.67 L206.15,1108.32 L206.94,1108.32 L206.94,1107.63 L207.73,1107.63 L207.73,1109.51 L208.52,1109.51 L208.52,1112.75 L209.31,1112.75 L209.31,1111.83 L210.11,1111.83 L210.11,1113.04 L210.90,1113.04 L210.90,1116.27 L211.69,1116.27 L211.69,1120.30 L212.48,1120.30 L212.48,1120.30 L213.28,1120.30 L213.28,1120.30 L214.07,1120.30 L214.07,1120.30 L214.86,1120.30 L214.86,1120.30 Z" fill="#82b4ba" />
<path d="M32.60,1120.30 L32.60,1120.30 L33.39,1120.30 L33.39,1120.30 L34.18,1120.30 L34.18,1120.30 L34.98,1120.30 L34.98,1120.30 L35.77,1120.30 L35.77,1120.30 L36.56,1120.30 L36.56,1120.30 L37.35,1120.30 L37.35,1120.30 L38.15,1120.30 L38.15,1120.30 L38.94,1120.30 L38.94,1120.30 L39.73,1120.30 L39.73,1120.30 L40.52,1120.30 L40.52,1120.30 L41.32,1120.30 L41.32,1120.30 L42.11,1120.30 L42.11,1120.30 L42.90,1120.30 L42.90,1120.30 L43.69,1120.30 L43.69,1120.30 L44.49,1120.30 L44.49,1120.30 L45.28,1120.30 L45.28,1120.30 L46.07,1120.30 L46.07,1120.30 L46.86,1120.30 L46.86,1120.30 L47.66,1120.30 L47.66,1120.30 L48.45,1120.30 L48.45,1120.30 L49.24,1120.30 L49.24,1120.30 L50.03,1120.30 L50.03,1120.30 L50.83,1120.30 L50.83,1120.30 L51.62,1120.30 L51.62,1120.30 L52.41,1120.30 L52.41,1120.30 L53.20,1120.30 L53.20,1120.30 L54.00,1120.30 L54.00,1120.30 L54.79,1120.30 L54.79,1120.30 L55.58,1120.30 L55.58,1120.30 L56.37,1120.30 L56.37,1120.30 L57.17,1120.30 L57.17,1120.30 L57.96,1120.30 L57.96,1120.30 L58.75,1120.30 L58.75,1120.30 L59.54,1120.30 L59.54,1120.30 L60.34,1120.30 L60.34,1120.30 L61.13,1120.30 L61.13,1120.30 L61.92,1120.30 L61.92,1120.30 L62.71,1120.30 L62.71,1120.30 L63.51,1120.30 L63.51,1120.30 L64.30,1120.30 L64.30,1120.30 L65.09,1120.30 L65.09,1120.30 L65.88,1120.30 L65.88,1120.30 L66.68,1120.30 L66.68,1120.30 L67.47,1120.30 L67.47,1120.30 L68.26,1120.30 L68.26,1120.30 L69.05,1120.30 L69.05,1120.30 L69.84,1120.30 L69.84,1120.30 L70.64,1120.30 L70.64,1120.30 L71.43,1120.30 L71.43,1120.30 L72.22,1120.30 L72.22,1120.30 L73.01,1120.30 L73.01,1120.30 L73.81,1120.30 L73.81,1120.30 L74.60,1120.30 L74.60,1120.30 L75.39,1120.30 L75.39,1120.30 L76.18,1120.30 L76.18,1120.30 L76.98,1120.30 L76.98,1120.30 L77.77,1120.30 L77.77,1120.30 L78.56,1120.30 L78.56,1120.30 L79.35,1120.30 L79.35,1120.30 L80.15,1120.30 L80.15,1120.30 L80.94,1120.30 L80.94,1120.30 L81.73,1120.30 L81.73,1120.30 L82.52,1120.30 L82.52,1120.30 L83.32,1120.30 L83.32,1120.30 L84.11,1120.30 L84.11,1120.30 L84.90,1120.30 L84.90,1120.29 L85.69,1120.29 L85.69,1120.29 L86.49,1120.29 L86.49,1120.29 L87.28,1120.29 L87.28,1120.29 L88.07,1120.29 L88.07,1120.29 L88.86,1120.29 L88.86,1120.29 L89.66,1120.29 L89.66,1120.29 L90.45,1120.29 L90.45,1120.29 L91.24,1120.29 L91.24,1120.28 L92.03,1120.28 L92.03,1120.28 L92.83,1120.28 L92.83,1120.28 L93.62,1120.28 L93.62,1120.28 L94.41,1120.28 L94.41,1120.27 L95.20,1120.27 L95.20,1120.27 L96.00,1120.27 L96.00,1120.26 L96.79,1120.26 L96.79,1120.26 L97.58,1120.26 L97.58,1120.26 L98.37,1120.26 L98.37,1120.25 L99.17,1120.25 L99.17,1120.24 L99.96,1120.24 L99.96,1120.23 L100.75,1120.23 L100.75,1120.23 L101.54,1120.23 L101.54,1120.22 L102.34,1120.22 L102.34,1120.21 L103.13,1120.21 L103.13,1120.20 L103.92,1120.20 L103.92,1120.19 L104.71,1120.19 L104.71,1120.17 L105.50,1120.17 L105.50,1120.16 L106.30,1120.16 L106.30,1120.14 L107.09,1120.14 L107.09,1120.12 L107.88,1120.12 L107.88,1120.10 L108.67,1120.10 L108.67,1120.07 L109.47,1120.07 L109.47,1120.05 L110.26,1120.05 L110.26,1120.02 L111.05,1120.02 L111.05,1120.00 L111.84,1120.00 L111.84,1119.96 L112.64,1119.96 L112.64,1119.92 L113.43,1119.92 L113.43,1119.90 L114.22,1119.90 L114.22,1119.84 L115.01,1119.84 L115.01,1119.81 L115.81,1119.81 L115.81,1119.74 L116.60,1119.74 L116.60,1119.68 L117.39,1119.68 L117.39,1119.62 L118.18,1119.62 L118.18,1119.57 L118.98,1119.57 L118.98,1119.47 L119.77,1119.47 L119.77,1119.42 L120.56,1119.42 L120.56,1119.34 L121.35,1119.34 L121.35,1119.24 L122.15,1119.24 L122.15,1119.12 L122.94,1119.12 L122.94,1119.00 L123.73,1119.00 L123.73,1118.95 L124.52,1118.95 L124.52,1118.82 L125.32,1118.82 L125.32,1118.67 L126.11,1118.67 L126.11,1118.52 L126.90,1118.52 L126.90,1118.33 L127.69,1118.33 L127.69,1118.21 L128.49,1118.21 L128.49,1118.09 L129.28,1118.09 L129.28,1117.91 L130.07,1117.91 L130.07,1117.63 L130.86,1117.63 L130.86,1117.38 L131.66,1117.38 L131.66,1117.27 L132.45,1117.27 L132.45,1117.06 L133.24,1117.06 L133.24,1116.77 L134.03,1116.77 L134.03,1116.54 L134.83,1116.54 L134.83,1116.16 L135.62,1116.16 L135.62,1115.81 L136.41,1115.81 L136.41,1115.39 L137.20,1115.39 L137.20,1115.28 L137.99,1115.28 L137.99,1114.94 L138.79,1114.94 L138.79,1114.46 L139.58,1114.46 L139.58,1114.18 L140.37,1114.18 L140.37,1113.70 L141.16,1113.70 L141.16,1113.20 L141.96,1113.20 L141.96,1112.63 L142.75,1112.63 L142.75,1112.12 L143.54,1112.12 L143.54,1111.97 L144.33,1111.97 L144.33,1111.11 L145.13,1111.11 L145.13,1110.70 L145.92,1110.70 L145.92,1109.84 L146.71,1109.84 L146.71,1109.44 L147.50,1109.44 L147.50,1108.64 L148.30,1108.64 L148.30,1108.21 L149.09,1108.21 L149.09,1107.71 L149.88,1107.71 L149.88,1106.49 L150.67,1106.49 L150.67,1105.79 L151.47,1105.79 L151.47,1104.80 L152.26,1104.80 L152.26,1103.86 L153.05,1103.86 L153.05,1103.12 L153.84,1103.12 L153.84,1102.03 L154.64,1102.03 L154.64,1101.64 L155.43,1101.64 L155.43,1100.48 L156.22,1100.48 L156.22,1098.95 L157.01,1098.95 L157.01,1098.73 L157.81,1098.73 L157.81,1097.46 L158.60,1097.46 L158.60,1095.99 L159.39,1095.99 L159.39,1093.63 L160.18,1093.63 L160.18,1093.15 L160.98,1093.15 L160.98,1090.56 L161.77,1090.56 L161.77,1088.89 L162.56,1088.89 L162.56,1087.43 L163.35,1087.43 L163.35,1086.35 L164.15,1086.35 L164.15,1083.38 L164.94,1083.38 L164.94,1080.73 L165.73,1080.73 L165.73,1078.91 L166.52,1078.91 L166.52,1076.39 L167.32,1076.39 L167.32,1074.34 L168.11,1074.34 L168.11,1070.17 L168.90,1070.17 L168.90,1067.48 L169.69,1067.48 L169.69,1065.60 L170.49,1065.60 L170.49,1063.73 L171.28,1063.73 L171.28,1059.61 L172.07,1059.61 L172.07,1058.28 L172.86,1058.28 L172.86,1053.20 L173.65,1053.20 L173.65,1048.75 L174.45,1048.75 L174.45,1046.79 L175.24,1046.79 L175.24,1045.49 L176.03,1045.49 L176.03,1040.68 L176.82,1040.68 L176.82,1034.98 L177.62,1034.98 L177.62,1034.14 L178.41,1034.14 L178.41,1031.39 L179.20,1031.39 L179.20,1025.99 L179.99,1025.99 L179.99,1026.59 L180.79,1026.59 L180.79,1022.41 L181.58,1022.41 L181.58,1023.08 L182.37,1023.08 L182.37,1021.80 L183.16,1021.80 L183.16,1018.88 L183.96,1018.88 L183.96,1016.91 L184.75,1016.91 L184.75,1013.94 L185.54,1013.94 L185.54,1012.46 L186.33,1012.46 L186.33,1013.43 L187.13,1013.43 L187.13,1015.31 L187.92,1015.31 L187.92,1014.12 L188.71,1014.12 L188.71,1015.05 L189.50,1015.05 L189.50,1017.71 L190.30,1017.71 L190.30,1015.98 L191.09,1015.98 L191.09,1017.72 L191.88,1017.72 L191.88,1018.24 L192.67,1018.24 L192.67,1021.38 L193.47,1021.38 L193.47,1019.77 L194.26,1019.77 L194.26,1024.85 L195.05,1024.85 L195.05,1025.92 L195.84,1025.92 L195.84,1031.28 L196.64,1031.28 L196.64,1041.86 L197.43,1041.86 L197.43,1046.95 L198.22,1046.95 L198.22,1056.73 L199.01,1056.73 L199.01,1062.50 L199.81,1062.50 L199.81,1069.59 L200.60,1069.59 L200.60,1073.47 L201.39,1073.47 L201.39,1079.61 L202.18,1079.61 L202.18,1082.39 L202.98,1082.39 L202.98,1088.11 L203.77,1088.11 L203.77,1090.64 L204.56,1090.64 L204.56,1094.25 L205.35,1094.25 L205.35,1098.28 L206.15,1098.28 L206.15,1101.13 L206.94,1101.13 L206.94,1103.18 L207.73,1103.18 L207.73,1105.86 L208.52,1105.86 L208.52,1107.88 L209.31,1107.88 L209.31,1109.20 L210.11,1109.20 L210.11,1111.38 L210.90,1111.38 L210.90,1112.39 L211.69,1112.39 L211.69,1120.30 L212.48,1120.30 L212.48,1120.30 L213.28,1120.30 L213.28,1120.30 L214.07,1120.30 L214.07,1120.30 L214.86,1120.30 L214.86,1120.30 Z" fill="url(#hstripe)" />
<path d="M38.63,1120.30 L39.71,1120.30 L40.79,1120.30 L41.87,1120.30 L42.95,1120.30 L44.03,1120.30 L45.11,1120.30 L46.19,1120.30 L47.27,1120.30 L48.35,1120.30 L49.43,1120.30 L50.51,1120.30 L51.59,1120.30 L52.67,1120.30 L53.75,1120.30 L54.83,1120.30 L55.91,1120.30 L56.99,1120.30 L58.07,1120.30 L59.15,1120.30 L60.23,1120.30 L61.31,1120.30 L62.39,1120.30 L63.47,1120.30 L64.55,1120.30 L65.63,1120.30 L66.71,1120.30 L67.79,1120.30 L68.87,1120.30 L69.95,1120.30 L71.03,1120.30 L72.11,1120.30 L73.19,1120.30 L74.27,1120.30 L75.35,1120.30 L76.43,1120.30 L77.51,1120.30 L78.59,1120.30 L79.67,1120.30 L80.75,1120.30 L81.83,1120.30 L82.91,1120.30 L83.99,1120.30 L85.07,1120.29 L86.15,1120.29 L87.23,1120.29 L88.31,1120.29 L89.39,1120.29 L90.47,1120.29 L91.55,1120.28 L92.63,1120.28 L93.71,1120.28 L94.79,1120.27 L95.87,1120.27 L96.96,1120.26 L98.04,1120.25 L99.12,1120.25 L100.20,1120.24 L101.28,1120.23 L102.36,1120.21 L103.44,1120.20 L104.52,1120.18 L105.60,1120.16 L106.68,1120.14 L107.76,1120.11 L108.84,1120.09 L109.92,1120.05 L111.00,1120.01 L112.08,1119.97 L113.16,1119.92 L114.24,1119.87 L115.32,1119.80 L116.40,1119.73 L117.48,1119.65 L118.56,1119.57 L119.64,1119.47 L120.72,1119.36 L121.80,1119.23 L122.88,1119.10 L123.96,1118.94 L125.04,1118.78 L126.12,1118.59 L127.20,1118.39 L128.28,1118.16 L129.36,1117.92 L130.44,1117.65 L131.52,1117.36 L132.60,1117.04 L133.68,1116.69 L134.76,1116.32 L135.84,1115.92 L136.92,1115.48 L138.00,1115.01 L139.08,1114.50 L140.16,1113.96 L141.24,1113.38 L142.32,1112.77 L143.40,1112.10 L144.48,1111.40 L145.56,1110.65 L146.64,1109.85 L147.72,1109.00 L148.80,1108.09 L149.88,1107.12 L150.96,1106.09 L152.04,1104.98 L153.12,1103.79 L154.20,1102.52 L155.28,1101.15 L156.36,1099.66 L157.44,1098.06 L158.52,1096.32 L159.60,1094.42 L160.68,1092.37 L161.76,1090.13 L162.84,1087.69 L163.92,1085.05 L165.00,1082.19 L166.08,1079.10 L167.16,1075.79 L168.24,1072.24 L169.32,1068.48 L170.40,1064.52 L171.48,1060.38 L172.56,1056.09 L173.64,1051.70 L174.72,1047.25 L175.80,1042.81 L176.88,1038.44 L177.96,1034.20 L179.04,1030.17 L180.12,1026.43 L181.20,1023.04 L182.28,1020.07 L183.36,1017.59 L184.44,1015.65 L185.52,1014.30 L186.60,1013.56 L187.68,1013.48 L188.76,1014.43 L189.84,1016.48 L190.92,1019.57 L192.00,1023.61 L193.08,1028.47 L194.16,1034.01 L195.24,1040.08 L196.32,1046.52 L197.40,1053.16 L198.48,1059.85 L199.56,1066.45 L200.64,1072.85 L201.72,1078.92 L202.80,1084.60 L203.88,1089.83 L204.96,1094.57 L206.04,1098.80 L207.12,1102.53 L208.20,1105.77 L209.28,1108.54 L210.36,1110.89 L211.44,1112.84" fill="none" stroke="#6b4a4a" stroke-width="0.9" stroke-linejoin="round"/>
<path d="M38.63,1120.30 L39.71,1120.29 L40.79,1120.29 L41.87,1120.29 L42.95,1120.29 L44.03,1120.29 L45.11,1120.28 L46.19,1120.28 L47.27,1120.28 L48.35,1120.27 L49.43,1120.27 L50.51,1120.26 L51.59,1120.26 L52.67,1120.25 L53.75,1120.24 L54.83,1120.23 L55.91,1120.22 L56.99,1120.20 L58.07,1120.19 L59.15,1120.17 L60.23,1120.15 L61.31,1120.13 L62.39,1120.10 L63.47,1120.07 L64.55,1120.04 L65.63,1120.00 L66.71,1119.96 L67.79,1119.92 L68.87,1119.87 L69.95,1119.81 L71.03,1119.75 L72.11,1119.69 L73.19,1119.62 L74.27,1119.54 L75.35,1119.46 L76.43,1119.36 L77.51,1119.27 L78.59,1119.16 L79.67,1119.05 L80.75,1118.93 L81.83,1118.81 L82.91,1118.68 L83.99,1118.54 L85.07,1118.40 L86.15,1118.25 L87.23,1118.09 L88.31,1117.93 L89.39,1117.77 L90.47,1117.60 L91.55,1117.43 L92.63,1117.26 L93.71,1117.08 L94.79,1116.91 L95.87,1116.73 L96.96,1116.56 L98.04,1116.40 L99.12,1116.23 L100.20,1116.07 L101.28,1115.92 L102.36,1115.78 L103.44,1115.64 L104.52,1115.51 L105.60,1115.40 L106.68,1115.30 L107.76,1115.20 L108.84,1115.13 L109.92,1115.06 L111.00,1115.01 L112.08,1114.98 L113.16,1114.96 L114.24,1114.96 L115.32,1114.97 L116.40,1115.00 L117.48,1115.04 L118.56,1115.09 L119.64,1115.16 L120.72,1115.25 L121.80,1115.35 L122.88,1115.46 L123.96,1115.58 L125.04,1115.71 L126.12,1115.85 L127.20,1116.00 L128.28,1116.15 L129.36,1116.31 L130.44,1115.98 L131.52,1115.57 L132.60,1115.13 L133.68,1114.66 L134.76,1114.16 L135.84,1113.62 L136.92,1113.05 L138.00,1112.44 L139.08,1111.79 L140.16,1111.11 L141.24,1110.39 L142.32,1109.63 L143.40,1108.83 L144.48,1107.98 L145.56,1107.10 L146.64,1106.17 L147.72,1105.20 L148.80,1104.18 L149.88,1103.11 L150.96,1101.99 L152.04,1100.81 L153.12,1099.56 L154.20,1098.25 L155.28,1096.86 L156.36,1095.38 L157.44,1093.80 L158.52,1092.11 L159.60,1090.28 L160.68,1088.30 L161.76,1086.15 L162.84,1083.80 L163.92,1081.24 L165.00,1078.45 L166.08,1075.40 L167.16,1072.07 L168.24,1068.46 L169.32,1064.56 L170.40,1060.37 L171.48,1055.91 L172.56,1051.18 L173.64,1046.24 L174.72,1041.11 L175.80,1035.87 L176.88,1030.59 L177.96,1025.33 L179.04,1020.20 L180.12,1015.29 L181.20,1010.69 L182.28,1006.52 L183.36,1002.85 L184.44,999.79 L185.52,997.40 L186.60,995.74 L187.68,994.86 L188.76,994.84 L189.84,996.25 L190.92,999.17 L192.00,1003.50 L193.08,1009.07 L194.16,1015.70 L195.24,1023.15 L196.32,1031.20 L197.40,1039.60 L198.48,1048.12 L199.56,1056.54 L200.64,1064.68 L201.72,1072.39 L202.80,1079.54 L203.88,1086.06 L204.96,1091.89 L206.04,1097.03 L207.12,1101.47 L208.20,1105.25 L209.28,1108.43 L210.36,1111.05 L211.44,1113.18" fill="none" stroke="#3d7ba3" stroke-width="1.3" stroke-linejoin="round"/>
</g>
<rect x="32.60" y="981.60" width="186.20" height="138.70" fill="none" stroke="#a9a9a9" stroke-width="0.9"/>
<line x1="30.60" y1="1120.30" x2="32.60" y2="1120.30" stroke="#888" stroke-width="0.6"/>
<text x="29.40" y="1122.20" font-family="'DejaVu Sans', sans-serif" font-size="5.4" font-weight="normal" font-style="normal" text-anchor="end" fill="#111" stroke="#111" stroke-width="0.11" >0.0000</text>
<line x1="30.60" y1="1103.60" x2="32.60" y2="1103.60" stroke="#888" stroke-width="0.6"/>
<text x="29.40" y="1105.50" font-family="'DejaVu Sans', sans-serif" font-size="5.4" font-weight="normal" font-style="normal" text-anchor="end" fill="#111" stroke="#111" stroke-width="0.11" >0.0025</text>
<line x1="30.60" y1="1086.90" x2="32.60" y2="1086.90" stroke="#888" stroke-width="0.6"/>
<text x="29.40" y="1088.80" font-family="'DejaVu Sans', sans-serif" font-size="5.4" font-weight="normal" font-style="normal" text-anchor="end" fill="#111" stroke="#111" stroke-width="0.11" >0.0050</text>
<line x1="30.60" y1="1070.20" x2="32.60" y2="1070.20" stroke="#888" stroke-width="0.6"/>
<text x="29.40" y="1072.10" font-family="'DejaVu Sans', sans-serif" font-size="5.4" font-weight="normal" font-style="normal" text-anchor="end" fill="#111" stroke="#111" stroke-width="0.11" >0.0075</text>
<line x1="30.60" y1="1053.50" x2="32.60" y2="1053.50" stroke="#888" stroke-width="0.6"/>
<text x="29.40" y="1055.40" font-family="'DejaVu Sans', sans-serif" font-size="5.4" font-weight="normal" font-style="normal" text-anchor="end" fill="#111" stroke="#111" stroke-width="0.11" >0.0100</text>
<line x1="30.60" y1="1036.80" x2="32.60" y2="1036.80" stroke="#888" stroke-width="0.6"/>
<text x="29.40" y="1038.70" font-family="'DejaVu Sans', sans-serif" font-size="5.4" font-weight="normal" font-style="normal" text-anchor="end" fill="#111" stroke="#111" stroke-width="0.11" >0.0125</text>
<line x1="30.60" y1="1020.10" x2="32.60" y2="1020.10" stroke="#888" stroke-width="0.6"/>
<text x="29.40" y="1022.00" font-family="'DejaVu Sans', sans-serif" font-size="5.4" font-weight="normal" font-style="normal" text-anchor="end" fill="#111" stroke="#111" stroke-width="0.11" >0.0150</text>
<line x1="30.60" y1="1003.40" x2="32.60" y2="1003.40" stroke="#888" stroke-width="0.6"/>
<text x="29.40" y="1005.30" font-family="'DejaVu Sans', sans-serif" font-size="5.4" font-weight="normal" font-style="normal" text-anchor="end" fill="#111" stroke="#111" stroke-width="0.11" >0.0175</text>
<line x1="30.60" y1="986.70" x2="32.60" y2="986.70" stroke="#888" stroke-width="0.6"/>
<text x="29.40" y="988.60" font-family="'DejaVu Sans', sans-serif" font-size="5.4" font-weight="normal" font-style="normal" text-anchor="end" fill="#111" stroke="#111" stroke-width="0.11" >0.0200</text>
<line x1="81.80" y1="1120.30" x2="81.80" y2="1122.30" stroke="#888" stroke-width="0.6"/>
<text x="81.80" y="1128.60" font-family="'DejaVu Sans', sans-serif" font-size="5.4" font-weight="normal" font-style="normal" text-anchor="middle" fill="#111" stroke="#111" stroke-width="0.11" >0.1kb</text>
<line x1="122.00" y1="1120.30" x2="122.00" y2="1122.30" stroke="#888" stroke-width="0.6"/>
<text x="122.00" y="1128.60" font-family="'DejaVu Sans', sans-serif" font-size="5.4" font-weight="normal" font-style="normal" text-anchor="middle" fill="#111" stroke="#111" stroke-width="0.11" >10kb</text>
<line x1="162.20" y1="1120.30" x2="162.20" y2="1122.30" stroke="#888" stroke-width="0.6"/>
<text x="162.20" y="1128.60" font-family="'DejaVu Sans', sans-serif" font-size="5.4" font-weight="normal" font-style="normal" text-anchor="middle" fill="#111" stroke="#111" stroke-width="0.11" >1Mb</text>
<line x1="202.40" y1="1120.30" x2="202.40" y2="1122.30" stroke="#888" stroke-width="0.6"/>
<text x="202.40" y="1128.60" font-family="'DejaVu Sans', sans-serif" font-size="5.4" font-weight="normal" font-style="normal" text-anchor="middle" fill="#111" stroke="#111" stroke-width="0.11" >100Mb</text>
<text x="125.70" y="1134.90" font-family="'DejaVu Sans', sans-serif" font-size="5.3" font-weight="normal" font-style="normal" text-anchor="middle" fill="#111" stroke="#111" stroke-width="0.11" >Distance to nearest SV breakpoint (log10(bp))</text>
<text x="8.40" y="1051.95" font-family="'DejaVu Sans', sans-serif" font-size="5.3" font-weight="normal" font-style="normal" text-anchor="middle" fill="#111" stroke="#111" stroke-width="0.11" transform="rotate(-90 8.40 1051.95)" >Density</text>
<rect x="35.20" y="984.40" width="56.5" height="17" fill="#fff" fill-opacity="0.85" stroke="#e0e0e0" stroke-width="0.6" rx="1"/>
<rect x="37.50" y="986.50" width="10.50" height="3.30" fill="#7a1414" />
<rect x="37.50" y="994.20" width="10.50" height="3.30" fill="#6fa4a9" />
<text x="52.20" y="990.20" font-family="'DejaVu Sans', sans-serif" font-size="5.2" font-weight="normal" font-style="normal" text-anchor="start" fill="#111" stroke="#111" stroke-width="0.10" >Non-clustered</text>
<text x="52.20" y="997.80" font-family="'DejaVu Sans', sans-serif" font-size="5.2" font-weight="normal" font-style="normal" text-anchor="start" fill="#111" stroke="#111" stroke-width="0.10" >INDELs</text>
<text x="0" y="0" font-family="'DejaVu Serif', serif" font-weight="bold" font-size="48.5" fill="#151515" stroke="#151515" stroke-width="0.6" transform="translate(7.63 639.30) scale(1.0 1)">b</text>
<rect x="600.10" y="1048.00" width="66.25" height="6.70" fill="#9c9d9f" stroke="#111" stroke-width="1.1"/>
<rect x="600.10" y="986.91" width="66.25" height="61.09" fill="#552681" stroke="#111" stroke-width="1.1"/>
<rect x="600.10" y="832.82" width="66.25" height="154.09" fill="#8743a2" stroke="#111" stroke-width="1.1"/>
<rect x="600.10" y="743.36" width="66.25" height="89.46" fill="#37338b" stroke="#111" stroke-width="1.1"/>
<rect x="600.10" y="705.13" width="66.25" height="38.23" fill="#4e68b4" stroke="#111" stroke-width="1.1"/>
<rect x="600.10" y="701.19" width="66.25" height="3.94" fill="#b9e2ef" stroke="#111" stroke-width="1.1"/>
<rect x="600.10" y="680.31" width="66.25" height="20.89" fill="#128a4b" stroke="#111" stroke-width="1.1"/>
<rect x="600.10" y="660.60" width="66.25" height="19.71" fill="#1c1c1e" stroke="#111" stroke-width="1.1"/>
<rect x="666.35" y="979.82" width="66.25" height="74.88" fill="#8743a2" stroke="#111" stroke-width="1.1"/>
<rect x="666.35" y="933.71" width="66.25" height="46.11" fill="#37338b" stroke="#111" stroke-width="1.1"/>
<rect x="666.35" y="752.03" width="66.25" height="181.68" fill="#f68f26" stroke="#111" stroke-width="1.1"/>
<rect x="666.35" y="660.60" width="66.25" height="91.43" fill="#1c1c1e" stroke="#111" stroke-width="1.1"/>
<rect x="732.60" y="891.15" width="66.25" height="163.55" fill="#9c9d9f" stroke="#111" stroke-width="1.1"/>
<rect x="732.60" y="842.67" width="66.25" height="48.47" fill="#552681" stroke="#111" stroke-width="1.1"/>
<rect x="732.60" y="822.18" width="66.25" height="20.49" fill="#8743a2" stroke="#111" stroke-width="1.1"/>
<rect x="732.60" y="809.57" width="66.25" height="12.61" fill="#8b2391" stroke="#111" stroke-width="1.1"/>
<rect x="732.60" y="807.21" width="66.25" height="2.36" fill="#1c1c1e" stroke="#111" stroke-width="1.1"/>
<rect x="732.60" y="698.04" width="66.25" height="109.17" fill="#57b948" stroke="#111" stroke-width="1.1"/>
<rect x="732.60" y="696.07" width="66.25" height="1.97" fill="#dca52f" stroke="#111" stroke-width="1.1"/>
<rect x="732.60" y="694.10" width="66.25" height="1.97" fill="#f2e72c" stroke="#111" stroke-width="1.1"/>
<rect x="732.60" y="660.60" width="66.25" height="33.50" fill="#ec5126" stroke="#111" stroke-width="1.1"/>
<rect x="798.85" y="669.66" width="66.25" height="385.04" fill="#9c9d9f" stroke="#111" stroke-width="1.1"/>
<rect x="798.85" y="663.75" width="66.25" height="5.91" fill="#552681" stroke="#111" stroke-width="1.1"/>
<rect x="798.85" y="660.60" width="66.25" height="3.15" fill="#8743a2" stroke="#111" stroke-width="1.1"/>
<rect x="865.10" y="981.79" width="66.25" height="72.91" fill="#9c9d9f" stroke="#111" stroke-width="1.1"/>
<rect x="865.10" y="794.59" width="66.25" height="187.20" fill="#552681" stroke="#111" stroke-width="1.1"/>
<rect x="865.10" y="741.39" width="66.25" height="53.20" fill="#8743a2" stroke="#111" stroke-width="1.1"/>
<rect x="865.10" y="735.48" width="66.25" height="5.91" fill="#37338b" stroke="#111" stroke-width="1.1"/>
<rect x="865.10" y="684.25" width="66.25" height="51.23" fill="#57b948" stroke="#111" stroke-width="1.1"/>
<rect x="865.10" y="668.48" width="66.25" height="15.76" fill="#ec5126" stroke="#111" stroke-width="1.1"/>
<rect x="865.10" y="660.60" width="66.25" height="7.88" fill="#e13232" stroke="#111" stroke-width="1.1"/>
<rect x="931.35" y="1043.67" width="66.25" height="11.03" fill="#37338b" stroke="#111" stroke-width="1.1"/>
<rect x="931.35" y="1036.97" width="66.25" height="6.70" fill="#b9e2ef" stroke="#111" stroke-width="1.1"/>
<rect x="931.35" y="956.18" width="66.25" height="80.79" fill="#66c9c3" stroke="#111" stroke-width="1.1"/>
<rect x="931.35" y="912.82" width="66.25" height="43.35" fill="#0f8085" stroke="#111" stroke-width="1.1"/>
<rect x="931.35" y="847.01" width="66.25" height="65.81" fill="#57b948" stroke="#111" stroke-width="1.1"/>
<rect x="931.35" y="696.07" width="66.25" height="150.94" fill="#8d1a1b" stroke="#111" stroke-width="1.1"/>
<rect x="931.35" y="660.60" width="66.25" height="35.47" fill="#1c1c1e" stroke="#111" stroke-width="1.1"/>
<line x1="600.10" y1="660.10" x2="600.10" y2="1054.70" stroke="#111" stroke-width="1.3"/>
<line x1="600.10" y1="1054.70" x2="997.60" y2="1054.70" stroke="#111" stroke-width="1.3"/>
<line x1="594.60" y1="1054.70" x2="600.10" y2="1054.70" stroke="#111" stroke-width="1.2"/>
<text x="588.10" y="1060.50" font-family="'DejaVu Sans', sans-serif" font-size="19.0" font-weight="normal" font-style="normal" text-anchor="end" fill="#111" stroke="#111" stroke-width="0.38" >0.0</text>
<line x1="594.60" y1="975.88" x2="600.10" y2="975.88" stroke="#111" stroke-width="1.2"/>
<text x="588.10" y="981.68" font-family="'DejaVu Sans', sans-serif" font-size="19.0" font-weight="normal" font-style="normal" text-anchor="end" fill="#111" stroke="#111" stroke-width="0.38" >0.2</text>
<line x1="594.60" y1="897.06" x2="600.10" y2="897.06" stroke="#111" stroke-width="1.2"/>
<text x="588.10" y="902.86" font-family="'DejaVu Sans', sans-serif" font-size="19.0" font-weight="normal" font-style="normal" text-anchor="end" fill="#111" stroke="#111" stroke-width="0.38" >0.4</text>
<line x1="594.60" y1="818.24" x2="600.10" y2="818.24" stroke="#111" stroke-width="1.2"/>
<text x="588.10" y="824.04" font-family="'DejaVu Sans', sans-serif" font-size="19.0" font-weight="normal" font-style="normal" text-anchor="end" fill="#111" stroke="#111" stroke-width="0.38" >0.6</text>
<line x1="594.60" y1="739.42" x2="600.10" y2="739.42" stroke="#111" stroke-width="1.2"/>
<text x="588.10" y="745.22" font-family="'DejaVu Sans', sans-serif" font-size="19.0" font-weight="normal" font-style="normal" text-anchor="end" fill="#111" stroke="#111" stroke-width="0.38" >0.8</text>
<line x1="594.60" y1="660.60" x2="600.10" y2="660.60" stroke="#111" stroke-width="1.2"/>
<text x="588.10" y="666.40" font-family="'DejaVu Sans', sans-serif" font-size="19.0" font-weight="normal" font-style="normal" text-anchor="end" fill="#111" stroke="#111" stroke-width="0.38" >1.0</text>
<text x="548.80" y="857.65" font-family="'DejaVu Sans', sans-serif" font-size="17.9" font-weight="normal" font-style="normal" text-anchor="middle" fill="#111" stroke="#111" stroke-width="0.36" transform="rotate(-90 548.80 857.65)" >Proportion of overlapping ecDNA mutations</text>
<line x1="633.23" y1="1054.70" x2="633.23" y2="1060.30" stroke="#111" stroke-width="1.2"/>
<text x="0" y="0" font-family="'DejaVu Sans', sans-serif" font-size="18.4" text-anchor="middle" fill="#111" stroke="#111" stroke-width="0.38" transform="translate(633.23 1085.53) rotate(-45) translate(0 6.71)">DBS</text>
<line x1="699.48" y1="1054.70" x2="699.48" y2="1060.30" stroke="#111" stroke-width="1.2"/>
<text x="0" y="0" font-family="'DejaVu Sans', sans-serif" font-size="18.4" text-anchor="middle" fill="#111" stroke="#111" stroke-width="0.38" transform="translate(699.48 1086.13) rotate(-45) translate(0 6.71)">MBS</text>
<line x1="765.73" y1="1054.70" x2="765.73" y2="1060.30" stroke="#111" stroke-width="1.2"/>
<text x="0" y="0" font-family="'DejaVu Sans', sans-serif" font-size="18.4" text-anchor="middle" fill="#111" stroke="#111" stroke-width="0.38" transform="translate(765.73 1094.50) rotate(-45) translate(0 6.71)">OMIKLI</text>
<line x1="831.98" y1="1054.70" x2="831.98" y2="1060.30" stroke="#111" stroke-width="1.2"/>
<text x="0" y="0" font-family="'DejaVu Sans', sans-serif" font-size="18.4" text-anchor="middle" fill="#111" stroke="#111" stroke-width="0.38" transform="translate(831.98 1103.26) rotate(-45) translate(0 6.71)">KATAEGIS</text>
<line x1="898.23" y1="1054.70" x2="898.23" y2="1060.30" stroke="#111" stroke-width="1.2"/>
<text x="0" y="0" font-family="'DejaVu Sans', sans-serif" font-size="18.4" text-anchor="middle" fill="#111" stroke="#111" stroke-width="0.38" transform="translate(898.23 1094.66) rotate(-45) translate(0 6.71)">OTHER</text>
<line x1="964.48" y1="1054.70" x2="964.48" y2="1060.30" stroke="#111" stroke-width="1.2"/>
<text x="0" y="0" font-family="'DejaVu Sans', sans-serif" font-size="18.4" text-anchor="middle" fill="#111" stroke="#111" stroke-width="0.38" transform="translate(964.48 1091.57) rotate(-45) translate(0 6.71)">INDEL</text>
<rect x="1058.30" y="673.60" width="29.20" height="10.40" fill="#9c9d9f" stroke="#111" stroke-width="1.1"/>
<text x="1098.70" y="684.00" font-family="'DejaVu Sans', sans-serif" font-size="14.35" font-weight="normal" font-style="normal" text-anchor="start" fill="#111" stroke="#111" stroke-width="0.29" >APOBEC</text>
<rect x="1058.30" y="694.48" width="29.20" height="10.40" fill="#552681" stroke="#111" stroke-width="1.1"/>
<text x="1098.70" y="704.88" font-family="'DejaVu Sans', sans-serif" font-size="14.35" font-weight="normal" font-style="normal" text-anchor="start" fill="#111" stroke="#111" stroke-width="0.29" >Ageing</text>
<rect x="1058.30" y="715.36" width="29.20" height="10.40" fill="#8743a2" stroke="#111" stroke-width="1.1"/>
<text x="1098.70" y="725.76" font-family="'DejaVu Sans', sans-serif" font-size="14.35" font-weight="normal" font-style="normal" text-anchor="start" fill="#111" stroke="#111" stroke-width="0.29" >UV</text>
<rect x="1058.30" y="736.24" width="29.20" height="10.40" fill="#8b2391" stroke="#111" stroke-width="1.1"/>
<text x="1098.70" y="746.64" font-family="'DejaVu Sans', sans-serif" font-size="14.35" font-weight="normal" font-style="normal" text-anchor="start" fill="#111" stroke="#111" stroke-width="0.29" >AID</text>
<rect x="1058.30" y="757.12" width="29.20" height="10.40" fill="#37338b" stroke="#111" stroke-width="1.1"/>
<text x="1098.70" y="767.52" font-family="'DejaVu Sans', sans-serif" font-size="14.35" font-weight="normal" font-style="normal" text-anchor="start" fill="#111" stroke="#111" stroke-width="0.29" >Tobacco</text>
<rect x="1058.30" y="778.00" width="29.20" height="10.40" fill="#4e68b4" stroke="#111" stroke-width="1.1"/>
<text x="1098.70" y="788.40" font-family="'DejaVu Sans', sans-serif" font-size="14.35" font-weight="normal" font-style="normal" text-anchor="start" fill="#111" stroke="#111" stroke-width="0.29" >Platinum treatment</text>
<rect x="1058.30" y="798.88" width="29.20" height="10.40" fill="#b9e2ef" stroke="#111" stroke-width="1.1"/>
<text x="1098.70" y="809.28" font-family="'DejaVu Sans', sans-serif" font-size="14.35" font-weight="normal" font-style="normal" text-anchor="start" fill="#111" stroke="#111" stroke-width="0.29" >Defective MMR</text>
<rect x="1058.30" y="819.76" width="29.20" height="10.40" fill="#66c9c3" stroke="#111" stroke-width="1.1"/>
<text x="1098.70" y="830.16" font-family="'DejaVu Sans', sans-serif" font-size="14.35" font-weight="normal" font-style="normal" text-anchor="start" fill="#111" stroke="#111" stroke-width="0.29" >H.R. deficiency</text>
<rect x="1058.30" y="840.64" width="29.20" height="10.40" fill="#0f8085" stroke="#111" stroke-width="1.1"/>
<text x="1098.70" y="851.04" font-family="'DejaVu Sans', sans-serif" font-size="14.35" font-weight="normal" font-style="normal" text-anchor="start" fill="#111" stroke="#111" stroke-width="0.29" >Reapir of DSB; N.H.E.J</text>
<rect x="1058.30" y="861.52" width="29.20" height="10.40" fill="#128a4b" stroke="#111" stroke-width="1.1"/>
<text x="1098.70" y="871.92" font-family="'DejaVu Sans', sans-serif" font-size="14.35" font-weight="normal" font-style="normal" text-anchor="start" fill="#111" stroke="#111" stroke-width="0.29" >DBS6</text>
<rect x="1058.30" y="882.40" width="29.20" height="10.40" fill="#6a9a3e" stroke="#111" stroke-width="1.1"/>
<text x="1098.70" y="892.80" font-family="'DejaVu Sans', sans-serif" font-size="14.35" font-weight="normal" font-style="normal" text-anchor="start" fill="#111" stroke="#111" stroke-width="0.29" >DBS9</text>
<rect x="1058.30" y="903.28" width="29.20" height="10.40" fill="#57b948" stroke="#111" stroke-width="1.1"/>
<text x="1098.70" y="913.68" font-family="'DejaVu Sans', sans-serif" font-size="14.35" font-weight="normal" font-style="normal" text-anchor="start" fill="#111" stroke="#111" stroke-width="0.29" >SBS40/ID5</text>
<rect x="1058.30" y="924.16" width="29.20" height="10.40" fill="#f2e72c" stroke="#111" stroke-width="1.1"/>
<text x="1098.70" y="934.56" font-family="'DejaVu Sans', sans-serif" font-size="14.35" font-weight="normal" font-style="normal" text-anchor="start" fill="#111" stroke="#111" stroke-width="0.29" >SBS12</text>
<rect x="1058.30" y="945.04" width="29.20" height="10.40" fill="#dca52f" stroke="#111" stroke-width="1.1"/>
<text x="1098.70" y="955.44" font-family="'DejaVu Sans', sans-serif" font-size="14.35" font-weight="normal" font-style="normal" text-anchor="start" fill="#111" stroke="#111" stroke-width="0.29" >SBS28</text>
<rect x="1058.30" y="965.92" width="29.20" height="10.40" fill="#f68f26" stroke="#111" stroke-width="1.1"/>
<text x="1098.70" y="976.32" font-family="'DejaVu Sans', sans-serif" font-size="14.35" font-weight="normal" font-style="normal" text-anchor="start" fill="#111" stroke="#111" stroke-width="0.29" >SBS8</text>
<rect x="1058.30" y="986.80" width="29.20" height="10.40" fill="#ec5126" stroke="#111" stroke-width="1.1"/>
<text x="1098.70" y="997.20" font-family="'DejaVu Sans', sans-serif" font-size="14.35" font-weight="normal" font-style="normal" text-anchor="start" fill="#111" stroke="#111" stroke-width="0.29" >SBS17a/b/28</text>
<rect x="1058.30" y="1007.68" width="29.20" height="10.40" fill="#e13232" stroke="#111" stroke-width="1.1"/>
<text x="1098.70" y="1018.08" font-family="'DejaVu Sans', sans-serif" font-size="14.35" font-weight="normal" font-style="normal" text-anchor="start" fill="#111" stroke="#111" stroke-width="0.29" >SBS93</text>
<rect x="1058.30" y="1028.56" width="29.20" height="10.40" fill="#8d1a1b" stroke="#111" stroke-width="1.1"/>
<text x="1098.70" y="1038.96" font-family="'DejaVu Sans', sans-serif" font-size="14.35" font-weight="normal" font-style="normal" text-anchor="start" fill="#111" stroke="#111" stroke-width="0.29" >ID15</text>
<rect x="1058.30" y="1049.44" width="29.20" height="10.40" fill="#1c1c1e" stroke="#111" stroke-width="1.1"/>
<text x="1098.70" y="1059.84" font-family="'DejaVu Sans', sans-serif" font-size="14.35" font-weight="normal" font-style="normal" text-anchor="start" fill="#111" stroke="#111" stroke-width="0.29" >UNKNOWN</text>
<text x="0" y="0" font-family="'DejaVu Serif', serif" font-weight="bold" font-size="48.5" fill="#151515" stroke="#151515" stroke-width="0.6" transform="translate(521.46 639.80) scale(1.0 1)">c</text>
<text x="1747.20" y="652.40" font-family="'Liberation Sans', sans-serif" font-size="22.5" font-weight="bold" text-anchor="middle" fill="#111">non-ecDNA <tspan font-style="italic">kataegis</tspan> (Pan-cancer)</text>
<line x1="1566.94" y1="656.00" x2="1927.46" y2="656.00" stroke="#111" stroke-width="1.7"/>
<text x="1746.50" y="841.40" font-family="'Liberation Sans', sans-serif" font-size="22.5" font-weight="bold" text-anchor="middle" fill="#111">non-SV associated <tspan font-style="italic">kataegis</tspan> (Pan-cancer)</text>
<line x1="1526.41" y1="845.00" x2="1966.59" y2="845.00" stroke="#111" stroke-width="1.7"/>
<ellipse cx="1508.88" cy="764.23" rx="74" ry="27" fill="#f6f6f7" transform="rotate(-25 1508.88 764.23)"/>
<line x1="1374.10" y1="803.10" x2="1592.08" y2="692.40" stroke="#8e8e8e" stroke-width="2.1" stroke-dasharray="8,4.6"/>
<circle cx="1459.40" cy="768.07" r="2.1" fill="#8394bd"/>
<circle cx="1463.59" cy="760.64" r="2.1" fill="#8394bd"/>
<circle cx="1465.69" cy="762.04" r="2.1" fill="#8394bd"/>
<circle cx="1464.71" cy="768.35" r="2.1" fill="#8394bd"/>
<circle cx="1467.51" cy="771.15" r="2.1" fill="#8394bd"/>
<circle cx="1468.49" cy="777.88" r="2.1" fill="#8394bd"/>
<circle cx="1472.68" cy="759.24" r="2.1" fill="#8394bd"/>
<circle cx="1478.27" cy="764.84" r="2.1" fill="#8394bd"/>
<circle cx="1478.97" cy="768.35" r="2.1" fill="#8394bd"/>
<circle cx="1481.77" cy="769.47" r="2.1" fill="#8394bd"/>
<circle cx="1481.49" cy="759.24" r="2.1" fill="#8394bd"/>
<circle cx="1483.87" cy="752.93" r="2.1" fill="#8394bd"/>
<circle cx="1485.27" cy="750.13" r="2.1" fill="#8394bd"/>
<circle cx="1485.97" cy="746.63" r="2.1" fill="#8394bd"/>
<circle cx="1486.66" cy="757.84" r="2.1" fill="#8394bd"/>
<circle cx="1490.16" cy="754.05" r="2.1" fill="#8394bd"/>
<circle cx="1485.69" cy="783.06" r="2.1" fill="#8394bd"/>
<circle cx="1486.66" cy="785.86" r="2.1" fill="#8394bd"/>
<circle cx="1491.84" cy="785.86" r="2.1" fill="#8394bd"/>
<circle cx="1491.56" cy="771.85" r="2.1" fill="#8394bd"/>
<circle cx="1494.36" cy="761.34" r="2.1" fill="#8394bd"/>
<circle cx="1494.64" cy="776.05" r="2.1" fill="#8394bd"/>
<circle cx="1497.15" cy="770.03" r="2.1" fill="#8394bd"/>
<circle cx="1493.66" cy="741.72" r="2.1" fill="#8394bd"/>
<circle cx="1502.75" cy="752.23" r="2.1" fill="#8394bd"/>
<circle cx="1503.86" cy="747.33" r="2.1" fill="#8394bd"/>
<circle cx="1504.14" cy="741.02" r="2.1" fill="#8394bd"/>
<circle cx="1503.44" cy="762.74" r="2.1" fill="#8394bd"/>
<circle cx="1505.54" cy="763.44" r="2.1" fill="#8394bd"/>
<circle cx="1502.75" cy="777.46" r="2.1" fill="#8394bd"/>
<circle cx="1509.46" cy="767.23" r="2.1" fill="#8394bd"/>
<circle cx="1511.83" cy="757.84" r="2.1" fill="#8394bd"/>
<circle cx="1513.93" cy="757.14" r="2.1" fill="#8394bd"/>
<circle cx="1515.33" cy="764.14" r="2.1" fill="#8394bd"/>
<circle cx="1510.44" cy="733.31" r="2.1" fill="#8394bd"/>
<circle cx="1527.92" cy="745.23" r="2.1" fill="#8394bd"/>
<circle cx="1530.01" cy="764.14" r="2.1" fill="#8394bd"/>
<circle cx="1532.39" cy="766.25" r="2.1" fill="#8394bd"/>
<circle cx="1537.00" cy="757.14" r="2.1" fill="#8394bd"/>
<circle cx="1554.48" cy="736.82" r="2.1" fill="#8394bd"/>
<circle cx="1571.96" cy="742.84" r="2.1" fill="#8394bd"/>
<circle cx="1432.83" cy="752.93" r="2.1" fill="#1d5888"/>
<circle cx="1451.29" cy="749.01" r="2.1" fill="#1d5888"/>
<circle cx="1516.45" cy="722.38" r="2.1" fill="#1d5888"/>
<line x1="1374.10" y1="692.40" x2="1374.10" y2="803.70" stroke="#111" stroke-width="1.3"/>
<line x1="1373.50" y1="803.10" x2="1592.08" y2="803.10" stroke="#111" stroke-width="1.3"/>
<line x1="1374.10" y1="803.10" x2="1374.10" y2="808.10" stroke="#111" stroke-width="0.9"/>
<line x1="1369.10" y1="803.10" x2="1374.10" y2="803.10" stroke="#111" stroke-width="0.9"/>
<line x1="1424.19" y1="803.10" x2="1424.19" y2="806.10" stroke="#111" stroke-width="0.9"/>
<line x1="1371.10" y1="777.66" x2="1374.10" y2="777.66" stroke="#111" stroke-width="0.9"/>
<line x1="1453.49" y1="803.10" x2="1453.49" y2="806.10" stroke="#111" stroke-width="0.9"/>
<line x1="1371.10" y1="762.78" x2="1374.10" y2="762.78" stroke="#111" stroke-width="0.9"/>
<line x1="1474.28" y1="803.10" x2="1474.28" y2="806.10" stroke="#111" stroke-width="0.9"/>
<line x1="1371.10" y1="752.23" x2="1374.10" y2="752.23" stroke="#111" stroke-width="0.9"/>
<line x1="1490.41" y1="803.10" x2="1490.41" y2="806.10" stroke="#111" stroke-width="0.9"/>
<line x1="1371.10" y1="744.04" x2="1374.10" y2="744.04" stroke="#111" stroke-width="0.9"/>
<line x1="1503.58" y1="803.10" x2="1503.58" y2="806.10" stroke="#111" stroke-width="0.9"/>
<line x1="1371.10" y1="737.35" x2="1374.10" y2="737.35" stroke="#111" stroke-width="0.9"/>
<line x1="1514.72" y1="803.10" x2="1514.72" y2="806.10" stroke="#111" stroke-width="0.9"/>
<line x1="1371.10" y1="731.69" x2="1374.10" y2="731.69" stroke="#111" stroke-width="0.9"/>
<line x1="1524.37" y1="803.10" x2="1524.37" y2="806.10" stroke="#111" stroke-width="0.9"/>
<line x1="1371.10" y1="726.79" x2="1374.10" y2="726.79" stroke="#111" stroke-width="0.9"/>
<line x1="1532.89" y1="803.10" x2="1532.89" y2="806.10" stroke="#111" stroke-width="0.9"/>
<line x1="1371.10" y1="722.47" x2="1374.10" y2="722.47" stroke="#111" stroke-width="0.9"/>
<line x1="1540.50" y1="803.10" x2="1540.50" y2="808.10" stroke="#111" stroke-width="0.9"/>
<line x1="1369.10" y1="718.60" x2="1374.10" y2="718.60" stroke="#111" stroke-width="0.9"/>
<line x1="1590.59" y1="803.10" x2="1590.59" y2="806.10" stroke="#111" stroke-width="0.9"/>
<line x1="1371.10" y1="693.16" x2="1374.10" y2="693.16" stroke="#111" stroke-width="0.9"/>
<text x="1376.10" y="824.30" font-family="'DejaVu Sans', sans-serif" font-size="11" text-anchor="middle" fill="#111">10<tspan dy="-4.6" font-size="7.7">0</tspan></text>
<text x="1360.60" y="807.30" font-family="'DejaVu Sans', sans-serif" font-size="11" text-anchor="end" fill="#111">10<tspan dy="-4.6" font-size="7.7">0</tspan></text>
<text x="1542.50" y="824.30" font-family="'DejaVu Sans', sans-serif" font-size="11" text-anchor="middle" fill="#111">10<tspan dy="-4.6" font-size="7.7">1</tspan></text>
<text x="1360.60" y="722.80" font-family="'DejaVu Sans', sans-serif" font-size="11" text-anchor="end" fill="#111">10<tspan dy="-4.6" font-size="7.7">1</tspan></text>
<text x="1386.90" y="705.20" font-family="'Liberation Sans', sans-serif" font-size="16.7" font-weight="normal" font-style="normal" text-anchor="start" fill="#111" >q=1.35865E-07</text>
<text x="1490.80" y="685.20" font-family="'Liberation Sans', sans-serif" font-size="20" font-weight="bold" font-style="normal" text-anchor="middle" fill="#111" >Transcribed</text>
<ellipse cx="1769.58" cy="764.23" rx="74" ry="27" fill="#f6f6f7" transform="rotate(-25 1769.58 764.23)"/>
<line x1="1634.80" y1="803.10" x2="1852.78" y2="692.40" stroke="#8e8e8e" stroke-width="2.1" stroke-dasharray="8,4.6"/>
<circle cx="1713.44" cy="795.67" r="2.1" fill="#8394bd"/>
<circle cx="1724.67" cy="783.06" r="2.1" fill="#8394bd"/>
<circle cx="1726.07" cy="772.83" r="2.1" fill="#8394bd"/>
<circle cx="1730.71" cy="768.07" r="2.1" fill="#8394bd"/>
<circle cx="1732.11" cy="773.67" r="2.1" fill="#8394bd"/>
<circle cx="1731.69" cy="756.44" r="2.1" fill="#8394bd"/>
<circle cx="1735.90" cy="760.22" r="2.1" fill="#8394bd"/>
<circle cx="1739.13" cy="779.84" r="2.1" fill="#8394bd"/>
<circle cx="1740.12" cy="785.86" r="2.1" fill="#8394bd"/>
<circle cx="1743.63" cy="786.56" r="2.1" fill="#8394bd"/>
<circle cx="1740.82" cy="763.02" r="2.1" fill="#8394bd"/>
<circle cx="1744.33" cy="753.63" r="2.1" fill="#8394bd"/>
<circle cx="1747.14" cy="761.62" r="2.1" fill="#8394bd"/>
<circle cx="1750.65" cy="775.35" r="2.1" fill="#8394bd"/>
<circle cx="1753.18" cy="768.07" r="2.1" fill="#8394bd"/>
<circle cx="1754.58" cy="745.93" r="2.1" fill="#8394bd"/>
<circle cx="1755.14" cy="753.21" r="2.1" fill="#8394bd"/>
<circle cx="1755.56" cy="755.74" r="2.1" fill="#8394bd"/>
<circle cx="1755.98" cy="764.14" r="2.1" fill="#8394bd"/>
<circle cx="1758.79" cy="765.26" r="2.1" fill="#8394bd"/>
<circle cx="1756.97" cy="741.72" r="2.1" fill="#8394bd"/>
<circle cx="1766.38" cy="759.24" r="2.1" fill="#8394bd"/>
<circle cx="1768.62" cy="750.13" r="2.1" fill="#8394bd"/>
<circle cx="1775.64" cy="746.63" r="2.1" fill="#8394bd"/>
<circle cx="1779.01" cy="763.44" r="2.1" fill="#8394bd"/>
<circle cx="1788.56" cy="762.74" r="2.1" fill="#8394bd"/>
<circle cx="1818.05" cy="756.02" r="2.1" fill="#8394bd"/>
<circle cx="1829.00" cy="705.01" r="2.1" fill="#8394bd"/>
<circle cx="1677.91" cy="747.61" r="2.1" fill="#1d5888"/>
<circle cx="1683.95" cy="792.87" r="2.1" fill="#1d5888"/>
<circle cx="1693.08" cy="779.84" r="2.1" fill="#1d5888"/>
<circle cx="1695.88" cy="781.66" r="2.1" fill="#1d5888"/>
<circle cx="1699.39" cy="783.48" r="2.1" fill="#1d5888"/>
<circle cx="1707.82" cy="769.05" r="2.1" fill="#1d5888"/>
<circle cx="1716.67" cy="757.14" r="2.1" fill="#1d5888"/>
<circle cx="1736.33" cy="747.61" r="2.1" fill="#1d5888"/>
<circle cx="1737.31" cy="732.19" r="2.1" fill="#1d5888"/>
<circle cx="1741.52" cy="723.78" r="2.1" fill="#1d5888"/>
<circle cx="1751.77" cy="740.04" r="2.1" fill="#1d5888"/>
<circle cx="1752.05" cy="741.02" r="2.1" fill="#1d5888"/>
<circle cx="1754.16" cy="727.99" r="2.1" fill="#1d5888"/>
<circle cx="1755.56" cy="723.22" r="2.1" fill="#1d5888"/>
<circle cx="1756.55" cy="733.59" r="2.1" fill="#1d5888"/>
<circle cx="1770.31" cy="724.21" r="2.1" fill="#1d5888"/>
<circle cx="1786.88" cy="726.03" r="2.1" fill="#1d5888"/>
<line x1="1634.80" y1="692.40" x2="1634.80" y2="803.70" stroke="#111" stroke-width="1.3"/>
<line x1="1634.20" y1="803.10" x2="1852.78" y2="803.10" stroke="#111" stroke-width="1.3"/>
<line x1="1634.80" y1="803.10" x2="1634.80" y2="808.10" stroke="#111" stroke-width="0.9"/>
<line x1="1629.80" y1="803.10" x2="1634.80" y2="803.10" stroke="#111" stroke-width="0.9"/>
<line x1="1684.89" y1="803.10" x2="1684.89" y2="806.10" stroke="#111" stroke-width="0.9"/>
<line x1="1631.80" y1="777.66" x2="1634.80" y2="777.66" stroke="#111" stroke-width="0.9"/>
<line x1="1714.19" y1="803.10" x2="1714.19" y2="806.10" stroke="#111" stroke-width="0.9"/>
<line x1="1631.80" y1="762.78" x2="1634.80" y2="762.78" stroke="#111" stroke-width="0.9"/>
<line x1="1734.98" y1="803.10" x2="1734.98" y2="806.10" stroke="#111" stroke-width="0.9"/>
<line x1="1631.80" y1="752.23" x2="1634.80" y2="752.23" stroke="#111" stroke-width="0.9"/>
<line x1="1751.11" y1="803.10" x2="1751.11" y2="806.10" stroke="#111" stroke-width="0.9"/>
<line x1="1631.80" y1="744.04" x2="1634.80" y2="744.04" stroke="#111" stroke-width="0.9"/>
<line x1="1764.28" y1="803.10" x2="1764.28" y2="806.10" stroke="#111" stroke-width="0.9"/>
<line x1="1631.80" y1="737.35" x2="1634.80" y2="737.35" stroke="#111" stroke-width="0.9"/>
<line x1="1775.42" y1="803.10" x2="1775.42" y2="806.10" stroke="#111" stroke-width="0.9"/>
<line x1="1631.80" y1="731.69" x2="1634.80" y2="731.69" stroke="#111" stroke-width="0.9"/>
<line x1="1785.07" y1="803.10" x2="1785.07" y2="806.10" stroke="#111" stroke-width="0.9"/>
<line x1="1631.80" y1="726.79" x2="1634.80" y2="726.79" stroke="#111" stroke-width="0.9"/>
<line x1="1793.59" y1="803.10" x2="1793.59" y2="806.10" stroke="#111" stroke-width="0.9"/>
<line x1="1631.80" y1="722.47" x2="1634.80" y2="722.47" stroke="#111" stroke-width="0.9"/>
<line x1="1801.20" y1="803.10" x2="1801.20" y2="808.10" stroke="#111" stroke-width="0.9"/>
<line x1="1629.80" y1="718.60" x2="1634.80" y2="718.60" stroke="#111" stroke-width="0.9"/>
<line x1="1851.29" y1="803.10" x2="1851.29" y2="806.10" stroke="#111" stroke-width="0.9"/>
<line x1="1631.80" y1="693.16" x2="1634.80" y2="693.16" stroke="#111" stroke-width="0.9"/>
<text x="1636.80" y="824.30" font-family="'DejaVu Sans', sans-serif" font-size="11" text-anchor="middle" fill="#111">10<tspan dy="-4.6" font-size="7.7">0</tspan></text>
<text x="1621.30" y="807.30" font-family="'DejaVu Sans', sans-serif" font-size="11" text-anchor="end" fill="#111">10<tspan dy="-4.6" font-size="7.7">0</tspan></text>
<text x="1803.20" y="824.30" font-family="'DejaVu Sans', sans-serif" font-size="11" text-anchor="middle" fill="#111">10<tspan dy="-4.6" font-size="7.7">1</tspan></text>
<text x="1621.30" y="722.80" font-family="'DejaVu Sans', sans-serif" font-size="11" text-anchor="end" fill="#111">10<tspan dy="-4.6" font-size="7.7">1</tspan></text>
<text x="1647.60" y="705.20" font-family="'Liberation Sans', sans-serif" font-size="16.7" font-weight="normal" font-style="normal" text-anchor="start" fill="#111" >q=1.35865E-07</text>
<text x="1746.00" y="685.20" font-family="'Liberation Sans', sans-serif" font-size="20" font-weight="bold" font-style="normal" text-anchor="middle" fill="#111" >Coding</text>
<ellipse cx="2030.28" cy="764.23" rx="74" ry="27" fill="#f6f6f7" transform="rotate(-25 2030.28 764.23)"/>
<line x1="1895.50" y1="803.10" x2="2113.48" y2="692.40" stroke="#8e8e8e" stroke-width="2.1" stroke-dasharray="8,4.6"/>
<circle cx="1985.09" cy="769.47" r="2.1" fill="#8394bd"/>
<circle cx="1987.48" cy="783.06" r="2.1" fill="#8394bd"/>
<circle cx="1990.28" cy="775.07" r="2.1" fill="#8394bd"/>
<circle cx="1993.80" cy="778.44" r="2.1" fill="#8394bd"/>
<circle cx="1994.50" cy="780.96" r="2.1" fill="#8394bd"/>
<circle cx="1995.48" cy="758.26" r="2.1" fill="#8394bd"/>
<circle cx="1995.90" cy="760.64" r="2.1" fill="#8394bd"/>
<circle cx="1997.73" cy="773.67" r="2.1" fill="#8394bd"/>
<circle cx="1999.41" cy="775.07" r="2.1" fill="#8394bd"/>
<circle cx="2000.54" cy="782.08" r="2.1" fill="#8394bd"/>
<circle cx="2001.10" cy="771.43" r="2.1" fill="#8394bd"/>
<circle cx="2003.34" cy="769.47" r="2.1" fill="#8394bd"/>
<circle cx="2003.91" cy="755.74" r="2.1" fill="#8394bd"/>
<circle cx="2004.33" cy="781.24" r="2.1" fill="#8394bd"/>
<circle cx="2005.03" cy="749.01" r="2.1" fill="#8394bd"/>
<circle cx="2006.43" cy="783.76" r="2.1" fill="#8394bd"/>
<circle cx="2008.12" cy="785.86" r="2.1" fill="#8394bd"/>
<circle cx="2008.96" cy="776.47" r="2.1" fill="#8394bd"/>
<circle cx="2010.37" cy="753.21" r="2.1" fill="#8394bd"/>
<circle cx="2011.77" cy="757.14" r="2.1" fill="#8394bd"/>
<circle cx="2012.05" cy="763.44" r="2.1" fill="#8394bd"/>
<circle cx="2013.17" cy="751.81" r="2.1" fill="#8394bd"/>
<circle cx="2014.16" cy="759.66" r="2.1" fill="#8394bd"/>
<circle cx="2015.14" cy="768.35" r="2.1" fill="#8394bd"/>
<circle cx="2015.14" cy="777.88" r="2.1" fill="#8394bd"/>
<circle cx="2015.56" cy="751.53" r="2.1" fill="#8394bd"/>
<circle cx="2017.39" cy="747.05" r="2.1" fill="#8394bd"/>
<circle cx="2019.35" cy="756.02" r="2.1" fill="#8394bd"/>
<circle cx="2024.69" cy="757.42" r="2.1" fill="#8394bd"/>
<circle cx="2027.50" cy="757.42" r="2.1" fill="#8394bd"/>
<circle cx="2034.80" cy="775.07" r="2.1" fill="#8394bd"/>
<circle cx="2036.20" cy="782.64" r="2.1" fill="#8394bd"/>
<circle cx="2039.85" cy="755.45" r="2.1" fill="#8394bd"/>
<circle cx="1904.21" cy="766.25" r="2.1" fill="#1d5888"/>
<circle cx="1941.84" cy="768.07" r="2.1" fill="#1d5888"/>
<circle cx="1945.77" cy="755.03" r="2.1" fill="#1d5888"/>
<circle cx="1948.86" cy="784.46" r="2.1" fill="#1d5888"/>
<circle cx="1957.00" cy="791.89" r="2.1" fill="#1d5888"/>
<circle cx="1967.12" cy="794.27" r="2.1" fill="#1d5888"/>
<circle cx="1974.42" cy="769.47" r="2.1" fill="#1d5888"/>
<circle cx="1974.42" cy="775.35" r="2.1" fill="#1d5888"/>
<circle cx="1975.26" cy="749.85" r="2.1" fill="#1d5888"/>
<circle cx="1977.23" cy="750.83" r="2.1" fill="#1d5888"/>
<circle cx="1979.47" cy="747.33" r="2.1" fill="#1d5888"/>
<circle cx="1976.66" cy="763.44" r="2.1" fill="#1d5888"/>
<circle cx="1981.44" cy="764.84" r="2.1" fill="#1d5888"/>
<circle cx="1985.09" cy="763.86" r="2.1" fill="#1d5888"/>
<circle cx="1986.77" cy="756.44" r="2.1" fill="#1d5888"/>
<circle cx="1989.58" cy="754.61" r="2.1" fill="#1d5888"/>
<circle cx="1993.51" cy="756.02" r="2.1" fill="#1d5888"/>
<circle cx="1999.41" cy="752.23" r="2.1" fill="#1d5888"/>
<circle cx="2015.14" cy="727.43" r="2.1" fill="#1d5888"/>
<line x1="1895.50" y1="692.40" x2="1895.50" y2="803.70" stroke="#111" stroke-width="1.3"/>
<line x1="1894.90" y1="803.10" x2="2113.48" y2="803.10" stroke="#111" stroke-width="1.3"/>
<line x1="1895.50" y1="803.10" x2="1895.50" y2="808.10" stroke="#111" stroke-width="0.9"/>
<line x1="1890.50" y1="803.10" x2="1895.50" y2="803.10" stroke="#111" stroke-width="0.9"/>
<line x1="1945.59" y1="803.10" x2="1945.59" y2="806.10" stroke="#111" stroke-width="0.9"/>
<line x1="1892.50" y1="777.66" x2="1895.50" y2="777.66" stroke="#111" stroke-width="0.9"/>
<line x1="1974.89" y1="803.10" x2="1974.89" y2="806.10" stroke="#111" stroke-width="0.9"/>
<line x1="1892.50" y1="762.78" x2="1895.50" y2="762.78" stroke="#111" stroke-width="0.9"/>
<line x1="1995.68" y1="803.10" x2="1995.68" y2="806.10" stroke="#111" stroke-width="0.9"/>
<line x1="1892.50" y1="752.23" x2="1895.50" y2="752.23" stroke="#111" stroke-width="0.9"/>
<line x1="2011.81" y1="803.10" x2="2011.81" y2="806.10" stroke="#111" stroke-width="0.9"/>
<line x1="1892.50" y1="744.04" x2="1895.50" y2="744.04" stroke="#111" stroke-width="0.9"/>
<line x1="2024.98" y1="803.10" x2="2024.98" y2="806.10" stroke="#111" stroke-width="0.9"/>
<line x1="1892.50" y1="737.35" x2="1895.50" y2="737.35" stroke="#111" stroke-width="0.9"/>
<line x1="2036.12" y1="803.10" x2="2036.12" y2="806.10" stroke="#111" stroke-width="0.9"/>
<line x1="1892.50" y1="731.69" x2="1895.50" y2="731.69" stroke="#111" stroke-width="0.9"/>
<line x1="2045.77" y1="803.10" x2="2045.77" y2="806.10" stroke="#111" stroke-width="0.9"/>
<line x1="1892.50" y1="726.79" x2="1895.50" y2="726.79" stroke="#111" stroke-width="0.9"/>
<line x1="2054.29" y1="803.10" x2="2054.29" y2="806.10" stroke="#111" stroke-width="0.9"/>
<line x1="1892.50" y1="722.47" x2="1895.50" y2="722.47" stroke="#111" stroke-width="0.9"/>
<line x1="2061.90" y1="803.10" x2="2061.90" y2="808.10" stroke="#111" stroke-width="0.9"/>
<line x1="1890.50" y1="718.60" x2="1895.50" y2="718.60" stroke="#111" stroke-width="0.9"/>
<line x1="2111.99" y1="803.10" x2="2111.99" y2="806.10" stroke="#111" stroke-width="0.9"/>
<line x1="1892.50" y1="693.16" x2="1895.50" y2="693.16" stroke="#111" stroke-width="0.9"/>
<text x="1897.50" y="824.30" font-family="'DejaVu Sans', sans-serif" font-size="11" text-anchor="middle" fill="#111">10<tspan dy="-4.6" font-size="7.7">0</tspan></text>
<text x="1882.00" y="807.30" font-family="'DejaVu Sans', sans-serif" font-size="11" text-anchor="end" fill="#111">10<tspan dy="-4.6" font-size="7.7">0</tspan></text>
<text x="2063.90" y="824.30" font-family="'DejaVu Sans', sans-serif" font-size="11" text-anchor="middle" fill="#111">10<tspan dy="-4.6" font-size="7.7">1</tspan></text>
<text x="1882.00" y="722.80" font-family="'DejaVu Sans', sans-serif" font-size="11" text-anchor="end" fill="#111">10<tspan dy="-4.6" font-size="7.7">1</tspan></text>
<text x="1908.30" y="705.20" font-family="'Liberation Sans', sans-serif" font-size="16.7" font-weight="normal" font-style="normal" text-anchor="start" fill="#111" >q=7.70997E-10</text>
<text x="2003.60" y="685.20" font-family="'Liberation Sans', sans-serif" font-size="20" font-weight="bold" font-style="normal" text-anchor="middle" fill="#111" >Intergenic</text>
<ellipse cx="1513.08" cy="952.43" rx="74" ry="27" fill="#f6f6f7" transform="rotate(-25 1513.08 952.43)"/>
<line x1="1378.30" y1="991.30" x2="1596.28" y2="880.60" stroke="#8e8e8e" stroke-width="2.1" stroke-dasharray="8,4.6"/>
<circle cx="1468.49" cy="945.96" r="2.1" fill="#8394bd"/>
<circle cx="1471.99" cy="960.14" r="2.1" fill="#8394bd"/>
<circle cx="1477.86" cy="947.08" r="2.1" fill="#8394bd"/>
<circle cx="1480.10" cy="947.08" r="2.1" fill="#8394bd"/>
<circle cx="1485.97" cy="944.00" r="2.1" fill="#8394bd"/>
<circle cx="1488.49" cy="942.17" r="2.1" fill="#8394bd"/>
<circle cx="1495.06" cy="957.61" r="2.1" fill="#8394bd"/>
<circle cx="1498.84" cy="961.12" r="2.1" fill="#8394bd"/>
<circle cx="1513.24" cy="935.15" r="2.1" fill="#8394bd"/>
<circle cx="1516.03" cy="946.80" r="2.1" fill="#8394bd"/>
<circle cx="1522.05" cy="949.19" r="2.1" fill="#8394bd"/>
<circle cx="1535.19" cy="931.93" r="2.1" fill="#8394bd"/>
<circle cx="1537.01" cy="954.80" r="2.1" fill="#8394bd"/>
<circle cx="1537.43" cy="944.00" r="2.1" fill="#8394bd"/>
<circle cx="1539.81" cy="943.15" r="2.1" fill="#8394bd"/>
<circle cx="1544.42" cy="962.24" r="2.1" fill="#8394bd"/>
<circle cx="1546.80" cy="920.42" r="2.1" fill="#8394bd"/>
<circle cx="1437.03" cy="941.47" r="2.1" fill="#1d5888"/>
<circle cx="1442.90" cy="933.33" r="2.1" fill="#1d5888"/>
<circle cx="1464.30" cy="945.96" r="2.1" fill="#1d5888"/>
<circle cx="1470.31" cy="942.59" r="2.1" fill="#1d5888"/>
<circle cx="1493.66" cy="907.50" r="2.1" fill="#1d5888"/>
<circle cx="1503.03" cy="917.61" r="2.1" fill="#1d5888"/>
<circle cx="1520.93" cy="910.87" r="2.1" fill="#1d5888"/>
<line x1="1378.30" y1="880.60" x2="1378.30" y2="991.90" stroke="#111" stroke-width="1.3"/>
<line x1="1377.70" y1="991.30" x2="1596.28" y2="991.30" stroke="#111" stroke-width="1.3"/>
<line x1="1378.30" y1="991.30" x2="1378.30" y2="996.30" stroke="#111" stroke-width="0.9"/>
<line x1="1373.30" y1="991.30" x2="1378.30" y2="991.30" stroke="#111" stroke-width="0.9"/>
<line x1="1428.39" y1="991.30" x2="1428.39" y2="994.30" stroke="#111" stroke-width="0.9"/>
<line x1="1375.30" y1="965.86" x2="1378.30" y2="965.86" stroke="#111" stroke-width="0.9"/>
<line x1="1457.69" y1="991.30" x2="1457.69" y2="994.30" stroke="#111" stroke-width="0.9"/>
<line x1="1375.30" y1="950.98" x2="1378.30" y2="950.98" stroke="#111" stroke-width="0.9"/>
<line x1="1478.48" y1="991.30" x2="1478.48" y2="994.30" stroke="#111" stroke-width="0.9"/>
<line x1="1375.30" y1="940.43" x2="1378.30" y2="940.43" stroke="#111" stroke-width="0.9"/>
<line x1="1494.61" y1="991.30" x2="1494.61" y2="994.30" stroke="#111" stroke-width="0.9"/>
<line x1="1375.30" y1="932.24" x2="1378.30" y2="932.24" stroke="#111" stroke-width="0.9"/>
<line x1="1507.78" y1="991.30" x2="1507.78" y2="994.30" stroke="#111" stroke-width="0.9"/>
<line x1="1375.30" y1="925.55" x2="1378.30" y2="925.55" stroke="#111" stroke-width="0.9"/>
<line x1="1518.92" y1="991.30" x2="1518.92" y2="994.30" stroke="#111" stroke-width="0.9"/>
<line x1="1375.30" y1="919.89" x2="1378.30" y2="919.89" stroke="#111" stroke-width="0.9"/>
<line x1="1528.57" y1="991.30" x2="1528.57" y2="994.30" stroke="#111" stroke-width="0.9"/>
<line x1="1375.30" y1="914.99" x2="1378.30" y2="914.99" stroke="#111" stroke-width="0.9"/>
<line x1="1537.09" y1="991.30" x2="1537.09" y2="994.30" stroke="#111" stroke-width="0.9"/>
<line x1="1375.30" y1="910.67" x2="1378.30" y2="910.67" stroke="#111" stroke-width="0.9"/>
<line x1="1544.70" y1="991.30" x2="1544.70" y2="996.30" stroke="#111" stroke-width="0.9"/>
<line x1="1373.30" y1="906.80" x2="1378.30" y2="906.80" stroke="#111" stroke-width="0.9"/>
<line x1="1594.79" y1="991.30" x2="1594.79" y2="994.30" stroke="#111" stroke-width="0.9"/>
<line x1="1375.30" y1="881.36" x2="1378.30" y2="881.36" stroke="#111" stroke-width="0.9"/>
<text x="1380.30" y="1012.50" font-family="'DejaVu Sans', sans-serif" font-size="11" text-anchor="middle" fill="#111">10<tspan dy="-4.6" font-size="7.7">0</tspan></text>
<text x="1364.80" y="995.50" font-family="'DejaVu Sans', sans-serif" font-size="11" text-anchor="end" fill="#111">10<tspan dy="-4.6" font-size="7.7">0</tspan></text>
<text x="1546.70" y="1012.50" font-family="'DejaVu Sans', sans-serif" font-size="11" text-anchor="middle" fill="#111">10<tspan dy="-4.6" font-size="7.7">1</tspan></text>
<text x="1364.80" y="911.00" font-family="'DejaVu Sans', sans-serif" font-size="11" text-anchor="end" fill="#111">10<tspan dy="-4.6" font-size="7.7">1</tspan></text>
<text x="1391.10" y="893.40" font-family="'Liberation Sans', sans-serif" font-size="16.7" font-weight="normal" font-style="normal" text-anchor="start" fill="#111" >q=1.81944E-02</text>
<text x="1490.80" y="873.40" font-family="'Liberation Sans', sans-serif" font-size="20" font-weight="bold" font-style="normal" text-anchor="middle" fill="#111" >Transcribed</text>
<ellipse cx="1773.78" cy="952.43" rx="74" ry="27" fill="#f6f6f7" transform="rotate(-25 1773.78 952.43)"/>
<line x1="1639.00" y1="991.30" x2="1856.98" y2="880.60" stroke="#8e8e8e" stroke-width="2.1" stroke-dasharray="8,4.6"/>
<circle cx="1733.63" cy="981.47" r="2.1" fill="#8394bd"/>
<circle cx="1738.95" cy="977.97" r="2.1" fill="#8394bd"/>
<circle cx="1748.34" cy="942.87" r="2.1" fill="#8394bd"/>
<circle cx="1750.17" cy="940.35" r="2.1" fill="#8394bd"/>
<circle cx="1753.95" cy="954.38" r="2.1" fill="#8394bd"/>
<circle cx="1758.86" cy="943.58" r="2.1" fill="#8394bd"/>
<circle cx="1759.14" cy="947.08" r="2.1" fill="#8394bd"/>
<circle cx="1762.36" cy="951.30" r="2.1" fill="#8394bd"/>
<circle cx="1761.38" cy="928.84" r="2.1" fill="#8394bd"/>
<circle cx="1772.60" cy="930.52" r="2.1" fill="#8394bd"/>
<circle cx="1779.61" cy="960.42" r="2.1" fill="#8394bd"/>
<circle cx="1788.02" cy="949.61" r="2.1" fill="#8394bd"/>
<circle cx="1821.66" cy="938.94" r="2.1" fill="#8394bd"/>
<circle cx="1825.03" cy="922.52" r="2.1" fill="#8394bd"/>
<circle cx="1687.36" cy="949.89" r="2.1" fill="#1d5888"/>
<circle cx="1690.59" cy="937.54" r="2.1" fill="#1d5888"/>
<circle cx="1706.71" cy="961.82" r="2.1" fill="#1d5888"/>
<circle cx="1721.01" cy="924.63" r="2.1" fill="#1d5888"/>
<circle cx="1735.73" cy="916.91" r="2.1" fill="#1d5888"/>
<circle cx="1743.72" cy="931.64" r="2.1" fill="#1d5888"/>
<circle cx="1745.54" cy="911.99" r="2.1" fill="#1d5888"/>
<circle cx="1772.18" cy="919.71" r="2.1" fill="#1d5888"/>
<circle cx="1774.28" cy="912.27" r="2.1" fill="#1d5888"/>
<circle cx="1790.82" cy="914.52" r="2.1" fill="#1d5888"/>
<line x1="1639.00" y1="880.60" x2="1639.00" y2="991.90" stroke="#111" stroke-width="1.3"/>
<line x1="1638.40" y1="991.30" x2="1856.98" y2="991.30" stroke="#111" stroke-width="1.3"/>
<line x1="1639.00" y1="991.30" x2="1639.00" y2="996.30" stroke="#111" stroke-width="0.9"/>
<line x1="1634.00" y1="991.30" x2="1639.00" y2="991.30" stroke="#111" stroke-width="0.9"/>
<line x1="1689.09" y1="991.30" x2="1689.09" y2="994.30" stroke="#111" stroke-width="0.9"/>
<line x1="1636.00" y1="965.86" x2="1639.00" y2="965.86" stroke="#111" stroke-width="0.9"/>
<line x1="1718.39" y1="991.30" x2="1718.39" y2="994.30" stroke="#111" stroke-width="0.9"/>
<line x1="1636.00" y1="950.98" x2="1639.00" y2="950.98" stroke="#111" stroke-width="0.9"/>
<line x1="1739.18" y1="991.30" x2="1739.18" y2="994.30" stroke="#111" stroke-width="0.9"/>
<line x1="1636.00" y1="940.43" x2="1639.00" y2="940.43" stroke="#111" stroke-width="0.9"/>
<line x1="1755.31" y1="991.30" x2="1755.31" y2="994.30" stroke="#111" stroke-width="0.9"/>
<line x1="1636.00" y1="932.24" x2="1639.00" y2="932.24" stroke="#111" stroke-width="0.9"/>
<line x1="1768.48" y1="991.30" x2="1768.48" y2="994.30" stroke="#111" stroke-width="0.9"/>
<line x1="1636.00" y1="925.55" x2="1639.00" y2="925.55" stroke="#111" stroke-width="0.9"/>
<line x1="1779.62" y1="991.30" x2="1779.62" y2="994.30" stroke="#111" stroke-width="0.9"/>
<line x1="1636.00" y1="919.89" x2="1639.00" y2="919.89" stroke="#111" stroke-width="0.9"/>
<line x1="1789.27" y1="991.30" x2="1789.27" y2="994.30" stroke="#111" stroke-width="0.9"/>
<line x1="1636.00" y1="914.99" x2="1639.00" y2="914.99" stroke="#111" stroke-width="0.9"/>
<line x1="1797.79" y1="991.30" x2="1797.79" y2="994.30" stroke="#111" stroke-width="0.9"/>
<line x1="1636.00" y1="910.67" x2="1639.00" y2="910.67" stroke="#111" stroke-width="0.9"/>
<line x1="1805.40" y1="991.30" x2="1805.40" y2="996.30" stroke="#111" stroke-width="0.9"/>
<line x1="1634.00" y1="906.80" x2="1639.00" y2="906.80" stroke="#111" stroke-width="0.9"/>
<line x1="1855.49" y1="991.30" x2="1855.49" y2="994.30" stroke="#111" stroke-width="0.9"/>
<line x1="1636.00" y1="881.36" x2="1639.00" y2="881.36" stroke="#111" stroke-width="0.9"/>
<text x="1641.00" y="1012.50" font-family="'DejaVu Sans', sans-serif" font-size="11" text-anchor="middle" fill="#111">10<tspan dy="-4.6" font-size="7.7">0</tspan></text>
<text x="1625.50" y="995.50" font-family="'DejaVu Sans', sans-serif" font-size="11" text-anchor="end" fill="#111">10<tspan dy="-4.6" font-size="7.7">0</tspan></text>
<text x="1807.40" y="1012.50" font-family="'DejaVu Sans', sans-serif" font-size="11" text-anchor="middle" fill="#111">10<tspan dy="-4.6" font-size="7.7">1</tspan></text>
<text x="1625.50" y="911.00" font-family="'DejaVu Sans', sans-serif" font-size="11" text-anchor="end" fill="#111">10<tspan dy="-4.6" font-size="7.7">1</tspan></text>
<text x="1651.80" y="893.40" font-family="'Liberation Sans', sans-serif" font-size="16.7" font-weight="normal" font-style="normal" text-anchor="start" fill="#111" >q=5.30744E-04</text>
<text x="1746.00" y="873.40" font-family="'Liberation Sans', sans-serif" font-size="20" font-weight="bold" font-style="normal" text-anchor="middle" fill="#111" >Coding</text>
<ellipse cx="2034.48" cy="952.43" rx="74" ry="27" fill="#f6f6f7" transform="rotate(-25 2034.48 952.43)"/>
<line x1="1899.70" y1="991.30" x2="2117.68" y2="880.60" stroke="#8e8e8e" stroke-width="2.1" stroke-dasharray="8,4.6"/>
<circle cx="1975.06" cy="973.75" r="2.1" fill="#8394bd"/>
<circle cx="1983.46" cy="974.04" r="2.1" fill="#8394bd"/>
<circle cx="1985.14" cy="962.24" r="2.1" fill="#8394bd"/>
<circle cx="1990.74" cy="961.12" r="2.1" fill="#8394bd"/>
<circle cx="1992.42" cy="955.79" r="2.1" fill="#8394bd"/>
<circle cx="1998.45" cy="966.74" r="2.1" fill="#8394bd"/>
<circle cx="2000.83" cy="973.75" r="2.1" fill="#8394bd"/>
<circle cx="2001.95" cy="956.63" r="2.1" fill="#8394bd"/>
<circle cx="2006.43" cy="965.05" r="2.1" fill="#8394bd"/>
<circle cx="2008.67" cy="956.63" r="2.1" fill="#8394bd"/>
<circle cx="2010.63" cy="955.51" r="2.1" fill="#8394bd"/>
<circle cx="2012.45" cy="977.26" r="2.1" fill="#8394bd"/>
<circle cx="2012.45" cy="947.79" r="2.1" fill="#8394bd"/>
<circle cx="2018.48" cy="954.10" r="2.1" fill="#8394bd"/>
<circle cx="2020.16" cy="938.94" r="2.1" fill="#8394bd"/>
<circle cx="2020.44" cy="941.19" r="2.1" fill="#8394bd"/>
<circle cx="2027.16" cy="940.07" r="2.1" fill="#8394bd"/>
<circle cx="2027.86" cy="961.82" r="2.1" fill="#8394bd"/>
<circle cx="2030.66" cy="972.63" r="2.1" fill="#8394bd"/>
<circle cx="2033.04" cy="949.19" r="2.1" fill="#8394bd"/>
<circle cx="2040.05" cy="970.95" r="2.1" fill="#8394bd"/>
<circle cx="2041.87" cy="929.96" r="2.1" fill="#8394bd"/>
<circle cx="2051.67" cy="960.00" r="2.1" fill="#8394bd"/>
<circle cx="2074.08" cy="953.82" r="2.1" fill="#8394bd"/>
<circle cx="2019.88" cy="930.94" r="2.1" fill="#8394bd"/>
<circle cx="1914.83" cy="958.31" r="2.1" fill="#1d5888"/>
<circle cx="1971.83" cy="934.17" r="2.1" fill="#1d5888"/>
<circle cx="1975.62" cy="926.73" r="2.1" fill="#1d5888"/>
<circle cx="1980.94" cy="939.79" r="2.1" fill="#1d5888"/>
<circle cx="1975.06" cy="967.86" r="2.1" fill="#1d5888"/>
<circle cx="1974.64" cy="958.03" r="2.1" fill="#1d5888"/>
<circle cx="1977.02" cy="958.03" r="2.1" fill="#1d5888"/>
<circle cx="1989.06" cy="942.87" r="2.1" fill="#1d5888"/>
<circle cx="1992.14" cy="944.56" r="2.1" fill="#1d5888"/>
<circle cx="1993.55" cy="945.96" r="2.1" fill="#1d5888"/>
<circle cx="1996.07" cy="935.57" r="2.1" fill="#1d5888"/>
<circle cx="1986.54" cy="955.23" r="2.1" fill="#1d5888"/>
<circle cx="2007.83" cy="925.75" r="2.1" fill="#1d5888"/>
<circle cx="2012.03" cy="930.94" r="2.1" fill="#1d5888"/>
<circle cx="2020.16" cy="925.33" r="2.1" fill="#1d5888"/>
<circle cx="2021.56" cy="907.08" r="2.1" fill="#1d5888"/>
<circle cx="2004.05" cy="937.96" r="2.1" fill="#1d5888"/>
<line x1="1899.70" y1="880.60" x2="1899.70" y2="991.90" stroke="#111" stroke-width="1.3"/>
<line x1="1899.10" y1="991.30" x2="2117.68" y2="991.30" stroke="#111" stroke-width="1.3"/>
<line x1="1899.70" y1="991.30" x2="1899.70" y2="996.30" stroke="#111" stroke-width="0.9"/>
<line x1="1894.70" y1="991.30" x2="1899.70" y2="991.30" stroke="#111" stroke-width="0.9"/>
<line x1="1949.79" y1="991.30" x2="1949.79" y2="994.30" stroke="#111" stroke-width="0.9"/>
<line x1="1896.70" y1="965.86" x2="1899.70" y2="965.86" stroke="#111" stroke-width="0.9"/>
<line x1="1979.09" y1="991.30" x2="1979.09" y2="994.30" stroke="#111" stroke-width="0.9"/>
<line x1="1896.70" y1="950.98" x2="1899.70" y2="950.98" stroke="#111" stroke-width="0.9"/>
<line x1="1999.88" y1="991.30" x2="1999.88" y2="994.30" stroke="#111" stroke-width="0.9"/>
<line x1="1896.70" y1="940.43" x2="1899.70" y2="940.43" stroke="#111" stroke-width="0.9"/>
<line x1="2016.01" y1="991.30" x2="2016.01" y2="994.30" stroke="#111" stroke-width="0.9"/>
<line x1="1896.70" y1="932.24" x2="1899.70" y2="932.24" stroke="#111" stroke-width="0.9"/>
<line x1="2029.18" y1="991.30" x2="2029.18" y2="994.30" stroke="#111" stroke-width="0.9"/>
<line x1="1896.70" y1="925.55" x2="1899.70" y2="925.55" stroke="#111" stroke-width="0.9"/>
<line x1="2040.32" y1="991.30" x2="2040.32" y2="994.30" stroke="#111" stroke-width="0.9"/>
<line x1="1896.70" y1="919.89" x2="1899.70" y2="919.89" stroke="#111" stroke-width="0.9"/>
<line x1="2049.97" y1="991.30" x2="2049.97" y2="994.30" stroke="#111" stroke-width="0.9"/>
<line x1="1896.70" y1="914.99" x2="1899.70" y2="914.99" stroke="#111" stroke-width="0.9"/>
<line x1="2058.49" y1="991.30" x2="2058.49" y2="994.30" stroke="#111" stroke-width="0.9"/>
<line x1="1896.70" y1="910.67" x2="1899.70" y2="910.67" stroke="#111" stroke-width="0.9"/>
<line x1="2066.10" y1="991.30" x2="2066.10" y2="996.30" stroke="#111" stroke-width="0.9"/>
<line x1="1894.70" y1="906.80" x2="1899.70" y2="906.80" stroke="#111" stroke-width="0.9"/>
<line x1="2116.19" y1="991.30" x2="2116.19" y2="994.30" stroke="#111" stroke-width="0.9"/>
<line x1="1896.70" y1="881.36" x2="1899.70" y2="881.36" stroke="#111" stroke-width="0.9"/>
<text x="1901.70" y="1012.50" font-family="'DejaVu Sans', sans-serif" font-size="11" text-anchor="middle" fill="#111">10<tspan dy="-4.6" font-size="7.7">0</tspan></text>
<text x="1886.20" y="995.50" font-family="'DejaVu Sans', sans-serif" font-size="11" text-anchor="end" fill="#111">10<tspan dy="-4.6" font-size="7.7">0</tspan></text>
<text x="2068.10" y="1012.50" font-family="'DejaVu Sans', sans-serif" font-size="11" text-anchor="middle" fill="#111">10<tspan dy="-4.6" font-size="7.7">1</tspan></text>
<text x="1886.20" y="911.00" font-family="'DejaVu Sans', sans-serif" font-size="11" text-anchor="end" fill="#111">10<tspan dy="-4.6" font-size="7.7">1</tspan></text>
<text x="1912.50" y="893.40" font-family="'Liberation Sans', sans-serif" font-size="16.7" font-weight="normal" font-style="normal" text-anchor="start" fill="#111" >q=4.53125E-06</text>
<text x="2003.60" y="873.40" font-family="'Liberation Sans', sans-serif" font-size="20" font-weight="bold" font-style="normal" text-anchor="middle" fill="#111" >Intergenic</text>
<line x1="1331.2" y1="919.4" x2="1331.2" y2="776" stroke="#111" stroke-width="4.2"/>
<polygon points="1324.6,777.2 1337.8,777.2 1331.2,764.0" fill="#111"/>
<line x1="1635.4" y1="1035.0" x2="1846" y2="1035.0" stroke="#111" stroke-width="4.2"/>
<polygon points="1844.2,1028.4 1844.2,1041.6 1857.4,1035.0" fill="#111"/>
<text x="1735.40" y="1054.70" font-family="'Liberation Sans', sans-serif" font-size="17.9" font-weight="bold" font-style="normal" text-anchor="middle" fill="#111" >RTCA Enrichment</text>
<text x="1735.40" y="1076.60" font-family="'Liberation Sans', sans-serif" font-size="18.1" font-weight="bold" font-style="normal" text-anchor="middle" fill="#111" >(APOBEC3B associated)</text>
<text x="1295.00" y="842.50" font-family="'Liberation Sans', sans-serif" font-size="17.9" font-weight="bold" font-style="normal" text-anchor="middle" fill="#111" transform="rotate(-90 1295.00 842.50)" >YTCA Enrichment</text>
<text x="1316.70" y="842.50" font-family="'Liberation Sans', sans-serif" font-size="18.1" font-weight="bold" font-style="normal" text-anchor="middle" fill="#111" transform="rotate(-90 1316.70 842.50)" >(APOBEC3A associated)</text>
<text x="0" y="0" font-family="'DejaVu Serif', serif" font-weight="bold" font-size="48.5" fill="#151515" stroke="#151515" stroke-width="0.6" transform="translate(1255.36 639.20) scale(1.0 1)">d</text>
</svg></body></html>
